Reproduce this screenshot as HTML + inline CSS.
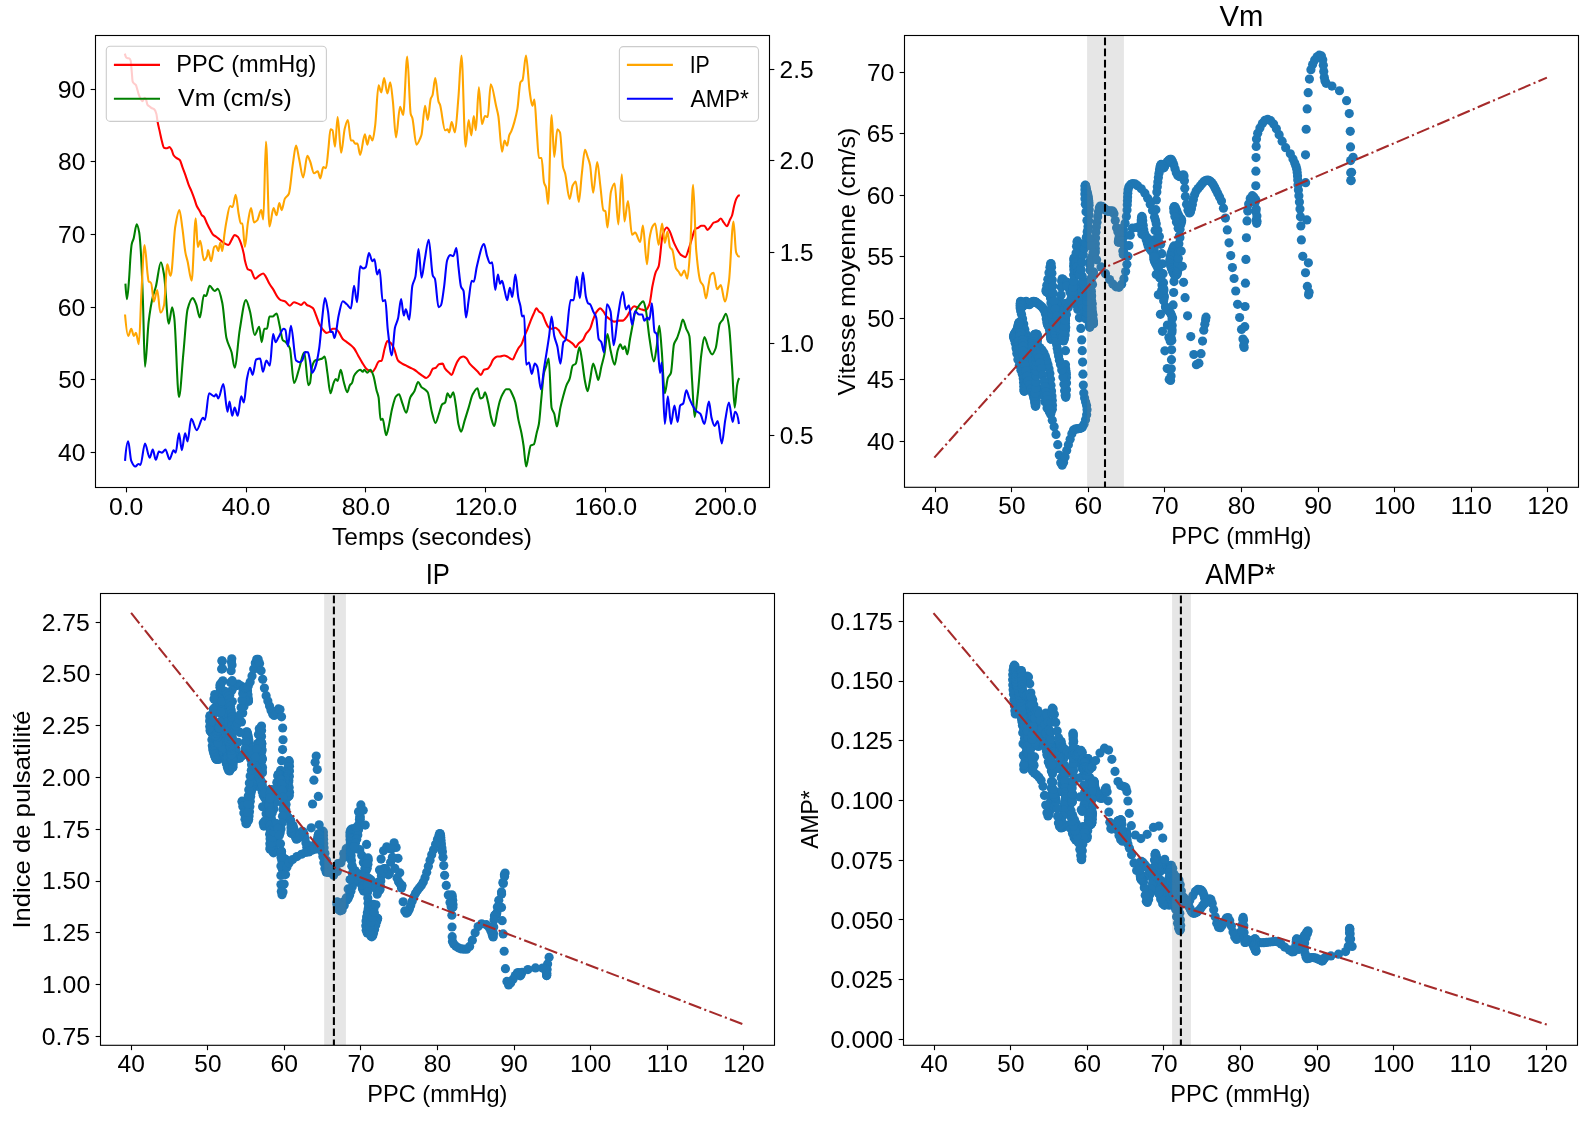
<!DOCTYPE html><html><head><meta charset="utf-8"><style>html,body{margin:0;padding:0;background:#fff}svg{display:block;will-change:transform}text{font-family:"Liberation Sans",sans-serif;fill:#000}</style></head><body>
<svg width="1592" height="1124" viewBox="0 0 1592 1124">
<rect width="1592" height="1124" fill="#fff"/>
<defs><clipPath id="c1"><rect x="95.5" y="35.5" width="674.0" height="452.0"/></clipPath></defs>
<g clip-path="url(#c1)" fill="none" stroke-width="2.08" stroke-linejoin="round" stroke-linecap="square">
<path stroke="#ff0000" d="M125.1,54.6C125.47,55.91 125.83,57.18 126.2,57.5C126.67,57.9 127.13,58.08 127.6,58.2C128.2,58.35 128.8,58.31 129.4,58.5C129.83,58.64 130.27,59.3 130.7,60.7C130.87,61.24 131.03,63.86 131.2,65.6C131.43,68.04 131.67,70.88 131.9,73.5C132.13,76.12 132.37,80.63 132.6,81.3C133.07,82.65 133.53,82.89 134,83.4C134.6,84.05 135.2,84.1 135.8,84.9C136.27,85.52 136.73,87.58 137.2,89.1C137.67,90.62 138.13,92.78 138.6,94.1C139.33,96.17 140.07,97.98 140.8,99.1C141.4,100.02 142,101.2 142.6,101.2C143.3,101.2 144,97.7 144.7,97.7C145.17,97.7 145.63,98.81 146.1,99.8C146.57,100.79 147.03,104.19 147.5,104.8C148.1,105.59 148.7,105.72 149.3,106.2C150.03,106.78 150.77,107.54 151.5,108C152.43,108.58 153.37,108.62 154.3,109.4C155,109.99 155.7,111.58 156.4,114C156.77,115.27 157.13,119.17 157.5,121.2C158.31,125.66 159.11,128.68 159.92,132.35C160.6,135.46 161.29,139.1 161.97,141.57C162.65,144.02 163.33,147.44 164.01,147.71C165.03,148.12 166.06,148.32 167.08,148.32C167.9,148.32 168.72,147.09 169.54,147.09C170.22,147.09 170.91,148.55 171.59,149.75C172.27,150.95 172.95,154.27 173.63,155.28C174.52,156.6 175.4,157.28 176.29,157.94C177.45,158.81 178.61,158.84 179.77,159.99C180.66,160.87 181.55,164.77 182.44,167.15C183.46,169.89 184.49,172.45 185.51,175.34C186.53,178.23 187.56,181.87 188.58,184.55C189.6,187.24 190.63,189.17 191.65,191.72C192.67,194.27 193.7,197.01 194.72,199.91C195.4,201.84 196.09,204.56 196.77,206.05C197.79,208.28 198.82,209.29 199.84,211.17C200.52,212.41 201.2,214.56 201.88,215.26C202.56,215.97 203.25,215.99 203.93,216.69C204.95,217.74 205.98,221.3 207,223.45C208.02,225.59 209.05,227.73 210.07,229.59C211.09,231.45 212.12,233.73 213.14,234.71C214.16,235.68 215.19,236.01 216.21,236.76C217.23,237.5 218.26,238.36 219.28,239.21C220.3,240.06 221.33,241.1 222.35,241.87C223.37,242.64 224.4,243.47 225.42,243.92C226.45,244.38 227.47,244.94 228.5,244.94C229.52,244.94 230.55,241.46 231.57,239.83C232.59,238.19 233.62,235.12 234.64,235.12C235.66,235.12 236.69,235.89 237.71,236.76C238.73,237.62 239.76,240.25 240.78,242.9C241.8,245.55 242.83,249.32 243.85,254.16C244.19,255.76 244.53,258.8 244.87,260.24C245.89,264.56 246.92,268.83 247.94,269.45C248.96,270.06 249.99,269.91 251.01,270.47C252.38,271.23 253.74,278.66 255.11,278.66C256.47,278.66 257.84,276.41 259.2,275.59C260.57,274.77 261.93,273.54 263.3,273.54C264.12,273.54 264.93,275.39 265.75,276.61C266.98,278.46 268.21,281.69 269.44,283.78C270.8,286.09 272.17,287.72 273.53,289.92C274.9,292.13 276.26,295.37 277.63,297.08C278.65,298.37 279.68,299.73 280.7,300.15C282.06,300.72 283.43,300.66 284.79,301.18C286.5,301.83 288.2,305.68 289.91,305.68C291.27,305.68 292.64,302.2 294,302.2C295.37,302.2 296.73,303.12 298.1,303.63C299.12,304.02 300.15,304.86 301.17,304.86C302.19,304.86 303.22,302.2 304.24,302.2C305.26,302.2 306.29,304.71 307.31,305.27C308.21,305.76 309.1,305.86 310,306.29C311.02,306.79 312.05,307.28 313.07,308.34C314.09,309.4 315.12,312.96 316.14,315.51C317.16,318.05 318.19,321.6 319.21,323.69C320.23,325.79 321.26,327.52 322.28,328.81C323.65,330.54 325.01,332.91 326.38,332.91C327.4,332.91 328.43,332.4 329.45,331.88C330.47,331.37 331.5,328.81 332.52,328.81C333.54,328.81 334.57,328.81 335.59,328.81C336.61,328.81 337.64,330.6 338.66,331.88C340.02,333.6 341.39,337.62 342.75,339.05C344.12,340.48 345.48,341.09 346.85,342.12C348.21,343.14 349.58,344.01 350.94,345.19C351.96,346.07 352.99,346.97 354.01,348.26C355.38,349.98 356.74,353.03 358.11,355.42C359.47,357.81 360.84,360.39 362.2,362.59C363.56,364.79 364.93,367.5 366.29,368.73C367.32,369.66 368.34,370.32 369.37,370.78C370.39,371.23 371.42,371.8 372.44,371.8C373.46,371.8 374.49,369.34 375.51,367.71C376.53,366.07 377.56,362.15 378.58,361.57C379.6,360.98 380.63,361.17 381.65,360.54C382.67,359.91 383.7,351.54 384.72,348.26C385.61,345.42 386.49,341.1 387.38,341.1C388.54,341.1 389.7,342.12 390.86,343.14C391.88,344.04 392.91,346.1 393.93,348.26C395.29,351.14 396.66,358.91 398.02,360.54C399.39,362.18 400.75,362.79 402.12,363.61C403.48,364.43 404.85,364.98 406.21,365.66C407.58,366.34 408.94,367.02 410.31,367.71C411.67,368.39 413.04,368.94 414.4,369.75C415.77,370.57 417.13,371.8 418.5,372.82C419.86,373.85 421.23,375.03 422.59,375.9C423.82,376.68 425.04,377.94 426.27,377.94C427.43,377.94 428.59,376.3 429.75,374.87C430.77,373.61 431.8,369.31 432.82,368.73C433.85,368.15 434.87,368.24 435.9,367.71C436.92,367.18 437.95,364.53 438.97,364.23C440.2,363.86 441.42,363.61 442.65,363.61C443.47,363.61 444.29,367.59 445.11,368.73C446.47,370.63 447.84,371.6 449.2,372.82C450.02,373.56 450.84,374.87 451.66,374.87C452.55,374.87 453.43,370.79 454.32,368.73C455.34,366.36 456.37,363.3 457.39,361.57C458.41,359.83 459.44,358.02 460.46,357.47C461.48,356.93 462.51,356.45 463.53,356.45C464.55,356.45 465.58,357.52 466.6,358.5C467.62,359.47 468.65,362.32 469.67,363.61C471.04,365.34 472.4,366.34 473.77,367.71C475.13,369.07 476.5,370.44 477.86,371.8C478.88,372.83 479.91,374.87 480.93,374.87C481.95,374.87 482.98,370.25 484,369.75C485.23,369.16 486.46,369.31 487.69,368.73C488.51,368.34 489.32,366.91 490.14,365.66C491.16,364.1 492.19,360.66 493.21,359.52C494.58,358 495.94,356.45 497.31,356.45C498.21,356.45 499.1,356.45 500,356.45C501.36,356.45 502.73,355.42 504.09,355.42C505.11,355.42 506.14,355.99 507.16,356.45C508.19,356.9 509.21,357.97 510.24,358.5C511.06,358.91 511.87,359.52 512.69,359.52C513.58,359.52 514.46,356.14 515.35,354.4C516.37,352.39 517.4,349.9 518.42,348.26C519.44,346.62 520.47,345.99 521.49,344.17C522.51,342.35 523.54,338.52 524.56,335.98C525.59,333.43 526.61,331.36 527.64,328.81C528.66,326.27 529.69,323.17 530.71,320.62C531.73,318.08 532.76,315.61 533.78,313.46C534.67,311.59 535.55,308.34 536.44,308.34C537.26,308.34 538.07,310.69 538.89,311.41C539.92,312.31 540.94,312.4 541.97,313.46C542.99,314.52 544.02,318.42 545.04,320.62C546.06,322.83 547.09,325.74 548.11,326.77C549.13,327.79 550.16,328.81 551.18,328.81C552.54,328.81 553.91,327.79 555.27,327.79C556.29,327.79 557.32,328.86 558.34,329.84C559.36,330.81 560.39,333.67 561.41,334.95C562.43,336.23 563.46,337.21 564.48,338.02C565.5,338.84 566.53,339.39 567.55,340.07C568.57,340.75 569.6,341.39 570.62,342.12C571.51,342.75 572.4,343.32 573.29,344.17C574.11,344.95 574.92,347.24 575.74,347.24C576.76,347.24 577.79,344.14 578.81,343.14C580.18,341.81 581.54,341.59 582.91,340.07C583.93,338.93 584.96,335.52 585.98,333.93C587.34,331.81 588.71,331.27 590.07,328.81C591.09,326.97 592.12,322.29 593.14,319.6C594.16,316.91 595.19,313.9 596.21,312.44C597.58,310.49 598.94,308.34 600.31,308.34C601.33,308.34 602.36,310.13 603.38,311.41C604.4,312.69 605.43,315.45 606.45,316.53C607.81,317.97 609.18,318.78 610.54,319.6C611.91,320.42 613.27,321.65 614.64,321.65C616,321.65 617.37,320.62 618.73,320.62C620.09,320.62 621.46,320.62 622.82,320.62C624.19,320.62 625.55,318.27 626.92,316.53C628.28,314.8 629.65,311.08 631.01,309.37C632.03,308.08 633.06,306.29 634.08,306.29C635.1,306.29 636.13,306.91 637.15,307.32C638.52,307.86 639.88,308.91 641.25,309.37C642.61,309.82 643.98,310.39 645.34,310.39C646.71,310.39 648.07,307.62 649.44,304.25C650.46,301.72 651.49,290.97 652.51,285.82C653.53,280.67 654.56,275.32 655.58,272.52C656.6,269.72 657.63,269.54 658.65,266.38C660.01,262.16 661.38,238.6 662.74,234.71C664.11,230.81 665.47,227.54 666.84,227.54C667.86,227.54 668.89,229.83 669.91,231.64C671.27,234.05 672.64,239.96 674,242.9C676.39,248.04 678.78,253.36 681.17,255.12C682.53,256.12 683.9,257.16 685.26,257.16C686.63,257.16 687.99,250.87 689.36,246.99C690.28,244.38 691.2,240.9 692.12,238.02C693.14,234.83 694.17,229.43 695.19,228.81C696.21,228.2 697.24,228.24 698.26,227.79C699.28,227.33 700.31,225.74 701.33,225.74C702.35,225.74 703.38,225.74 704.4,225.74C705.42,225.74 706.45,229.84 707.47,229.84C708.49,229.84 709.52,227.94 710.54,226.77C711.56,225.6 712.59,223.25 713.61,222.67C714.98,221.89 716.34,221.93 717.71,221.24C718.73,220.72 719.76,218.58 720.78,218.58C721.8,218.58 722.83,221.42 723.85,222.67C724.87,223.93 725.9,226.15 726.92,226.15C727.94,226.15 728.97,221.71 729.99,219.6C730.67,218.19 731.36,217.4 732.04,215.51C732.72,213.62 733.4,208.97 734.08,206.29C734.76,203.6 735.45,200.51 736.13,199.13C737.02,197.34 737.9,195.62 738.79,195.45"/>
<path stroke="#008000" d="M125.5,284.7C126,293.45 126.5,299.1 127,299.1C127.73,299.1 128.47,286.53 129.2,277.3C129.63,271.84 130.07,261.43 130.5,256.1C130.9,251.18 131.3,246.09 131.7,244.2C132.33,241.2 132.97,240.84 133.6,238.6C134.63,234.95 135.67,224.3 136.7,224.3C137.53,224.3 138.37,228 139.2,232.4C139.83,235.75 140.47,245.64 141.1,256.1C141.7,266.01 142.3,283.13 142.9,299.7C143.59,318.75 144.28,366.68 144.97,366.68C146.2,366.68 147.43,331.61 148.66,321.65C150.02,310.61 151.39,302.85 152.75,297.08C153.77,292.75 154.8,290.81 155.82,286.85C157.53,280.23 159.23,262.28 160.94,262.28C161.96,262.28 162.99,268.83 164.01,274.56C165.58,283.37 167.15,323.69 168.72,323.69C169.88,323.69 171.04,307.32 172.2,307.32C172.88,307.32 173.57,312.64 174.25,317.55C175.82,328.85 177.39,396.98 178.96,396.98C180.46,396.98 181.96,367.67 183.46,352.35C184.82,338.43 186.19,314.45 187.55,309.37C189.26,303 190.96,298.11 192.67,298.11C193.83,298.11 194.99,301.51 196.15,304.25C197.38,307.15 198.61,317.55 199.84,317.55C201.2,317.55 202.57,295.04 203.93,295.04C204.61,295.04 205.3,296.06 205.98,296.06C207.21,296.06 208.43,285.82 209.66,285.82C211.3,285.82 212.94,290.94 214.58,290.94C215.67,290.94 216.76,288.89 217.85,288.89C219.35,288.89 220.85,296.23 222.35,303.22C223.72,309.6 225.08,332.16 226.45,338.02C228.16,345.34 229.86,346.08 231.57,352.35C232.59,356.12 233.62,367.71 234.64,367.71C236.34,367.71 238.05,339.86 239.75,329.84C241.8,317.77 243.85,300.15 245.9,300.15C247.26,300.15 248.63,306.61 249.99,311.41C251.56,316.95 253.13,334.95 254.7,334.95C256.2,334.95 257.7,326.77 259.2,326.77C260.02,326.77 260.84,342.12 261.66,342.12C262.55,342.12 263.43,328.81 264.32,328.81C265.21,328.81 266.09,328.81 266.98,328.81C267.8,328.81 268.62,316.53 269.44,316.53C270.46,316.53 271.49,316.53 272.51,316.53C273.87,316.53 275.24,313.46 276.6,313.46C277.62,313.46 278.65,321.33 279.67,325.74C280.69,330.15 281.72,338.88 282.74,340.07C283.76,341.27 284.79,341.19 285.81,342.12C287.18,343.36 288.54,344.78 289.91,348.26C291.27,351.73 292.64,383.06 294,383.06C295.71,383.06 297.41,373.83 299.12,368.73C300.83,363.64 302.53,352.35 304.24,352.35C305.6,352.35 306.97,385.11 308.33,385.11C308.89,385.11 309.44,384.21 310,383.06C310.68,381.64 311.37,368.96 312.05,366.68C313.07,363.27 314.1,361.02 315.12,360.54C316.48,359.91 317.85,359.91 319.21,359.52C320.23,359.22 321.26,358.99 322.28,358.5C323.1,358.1 323.92,356.45 324.74,356.45C325.63,356.45 326.51,367.15 327.4,372.82C328.42,379.37 329.45,393.3 330.47,393.3C331.49,393.3 332.52,385.57 333.54,383.06C334.22,381.38 334.91,378.97 335.59,378.97C336.27,378.97 336.96,381.01 337.64,381.01C338.66,381.01 339.69,369.75 340.71,369.75C341.73,369.75 342.76,378.56 343.78,382.04C344.94,385.98 346.1,392.27 347.26,392.27C348.15,392.27 349.03,386.37 349.92,385.11C350.6,384.13 351.29,384.12 351.97,383.06C352.65,382 353.33,377.25 354.01,375.9C355.03,373.86 356.06,372.71 357.08,371.8C358.1,370.89 359.13,369.75 360.15,369.75C361.04,369.75 361.92,371.8 362.81,371.8C363.29,371.8 363.77,369.75 364.25,369.75C365.27,369.75 366.3,372.82 367.32,372.82C368.34,372.82 369.37,369.75 370.39,369.75C371.41,369.75 372.44,373.03 373.46,375.9C374.48,378.76 375.51,386.17 376.53,390.23C377.21,392.93 377.9,393.76 378.58,397.39C379.26,401 379.94,419.91 380.62,419.91C381.3,419.91 381.99,418.88 382.67,418.88C383.83,418.88 384.99,435.26 386.15,435.26C387.04,435.26 387.92,429.75 388.81,426.05C389.83,421.77 390.86,413.85 391.88,409.67C393.25,404.09 394.61,397.83 395.98,396.37C397,395.27 398.03,394.32 399.05,394.32C400.07,394.32 401.1,399.86 402.12,402.51C403.48,406.03 404.85,412.74 406.21,412.74C407.58,412.74 408.94,400.32 410.31,397.39C411.67,394.47 413.04,393.82 414.4,391.25C415.63,388.93 416.86,382.04 418.09,382.04C419.25,382.04 420.41,386.1 421.57,387.15C422.59,388.09 423.62,388.38 424.64,389.2C425.66,390.02 426.69,390.63 427.71,392.27C429.07,394.46 430.44,406.67 431.8,411.72C433.03,416.27 434.26,422.98 435.49,422.98C436.65,422.98 437.81,417.03 438.97,413.77C439.99,410.88 441.02,405.67 442.04,404.55C443.06,403.44 444.09,403.7 445.11,402.51C445.93,401.56 446.74,393.3 447.56,393.3C448.45,393.3 449.34,397.39 450.23,397.39C451.25,397.39 452.28,392.27 453.3,392.27C454.12,392.27 454.93,399.71 455.75,404.55C456.64,409.82 457.52,420.3 458.41,424C459.3,427.71 460.18,431.78 461.07,431.78C462.23,431.78 463.39,424.62 464.55,420.93C465.92,416.59 467.28,412.07 468.65,407.63C470.01,403.2 471.38,396.88 472.74,394.32C474.31,391.37 475.88,388.18 477.45,388.18C478.41,388.18 479.36,398.41 480.32,398.41C481.21,398.41 482.09,398 482.98,397.39C483.66,396.92 484.35,392.27 485.03,392.27C486.05,392.27 487.08,398.41 488.1,402.51C489.12,406.6 490.15,414.3 491.17,417.86C492.19,421.42 493.22,426.05 494.24,426.05C495.26,426.05 496.29,416.23 497.31,411.72C498.21,407.77 499.1,403.16 500,400.46C501.02,397.37 502.05,395.03 503.07,393.3C504.09,391.56 505.12,389.2 506.14,389.2C507.16,389.2 508.19,389.2 509.21,389.2C510.23,389.2 511.26,392.22 512.28,394.32C513.3,396.42 514.33,398.8 515.35,402.51C516.37,406.22 517.4,414.88 518.42,419.91C519.44,424.93 520.47,428.01 521.49,433.21C522.17,436.69 522.86,440.86 523.54,445.5C524.43,451.51 525.31,466.58 526.2,466.58C527.02,466.58 527.84,458.52 528.66,454.71C529.34,451.53 530.03,445.95 530.71,445.5C531.73,444.82 532.76,445.1 533.78,444.47C534.8,443.84 535.83,436.29 536.85,432.19C537.53,429.47 538.21,427.89 538.89,424C539.71,419.32 540.53,406.61 541.35,398.41C542.24,389.55 543.12,376.79 544.01,372.82C544.69,369.77 545.38,368.76 546.06,366.68C546.95,363.99 547.83,358.5 548.72,358.5C549.68,358.5 550.63,403.77 551.59,407.63C552.48,411.2 553.36,411.01 554.25,413.77C555.14,416.53 556.02,426.46 556.91,426.46C558.07,426.46 559.23,412.95 560.39,407.63C561.41,402.93 562.44,399.06 563.46,395.34C564.48,391.62 565.51,387.67 566.53,385.11C567.55,382.55 568.58,381.77 569.6,378.97C570.62,376.16 571.65,366.84 572.67,365.66C573.69,364.48 574.72,364.77 575.74,363.61C576.97,362.22 578.2,347.24 579.43,347.24C580.25,347.24 581.06,354.78 581.88,359.52C582.9,365.46 583.93,375.98 584.95,381.01C585.84,385.39 586.73,391.25 587.62,391.25C588.44,391.25 589.25,384.01 590.07,379.99C591.09,374.95 592.12,363.61 593.14,363.61C594.16,363.61 595.19,369.5 596.21,372.82C596.89,375.04 597.58,379.99 598.26,379.99C599.28,379.99 600.31,370.94 601.33,366.68C602.35,362.43 603.38,359.52 604.4,354.4C605.42,349.28 606.45,333.93 607.47,333.93C608.49,333.93 609.52,345.94 610.54,350.31C611.91,356.14 613.27,364.64 614.64,364.64C615.66,364.64 616.69,353.44 617.71,350.31C618.6,347.59 619.48,344.17 620.37,344.17C621.19,344.17 622,349.28 622.82,349.28C623.5,349.28 624.19,346.21 624.87,346.21C625.69,346.21 626.51,354.4 627.33,354.4C628.22,354.4 629.1,343.99 629.99,339.05C630.88,334.11 631.76,329.31 632.65,324.72C633.47,320.47 634.29,314.65 635.11,312.44C636.47,308.75 637.84,307.01 639.2,305.27C640.57,303.53 641.93,301.18 643.3,301.18C644.12,301.18 644.93,305.65 645.75,309.37C646.98,314.96 648.21,330.29 649.44,338.02C650.94,347.46 652.44,361.57 653.94,361.57C654.83,361.57 655.71,352.97 656.6,347.24C657.49,341.5 658.37,325.74 659.26,325.74C660.08,325.74 660.9,340.81 661.72,350.31C662.74,362.16 663.77,393.3 664.79,393.3C665.81,393.3 666.84,380.5 667.86,377.94C668.88,375.38 669.91,375.72 670.93,372.82C671.95,369.93 672.98,347.54 674,344.17C675.02,340.79 676.05,340.48 677.07,338.02C678.09,335.57 679.12,332.11 680.14,328.81C681.03,325.96 681.91,319.6 682.8,319.6C683.96,319.6 685.12,325.94 686.28,328.81C687.31,331.35 688.33,331.74 689.36,335.98C690.28,339.78 691.2,366.87 692.12,381.01C692.94,393.62 693.76,416.84 694.58,416.84C695.67,416.84 696.76,402.82 697.85,393.3C699.01,383.16 700.17,363.07 701.33,354.4C702.35,346.76 703.38,337 704.4,337C705.77,337 707.13,345.44 708.5,348.26C709.73,350.8 710.95,354.4 712.18,354.4C713.34,354.4 714.5,351.38 715.66,348.26C717.02,344.59 718.39,326.58 719.75,323.69C720.77,321.53 721.8,321.2 722.82,319.6C723.85,317.99 724.87,313.77 725.9,313.77C726.92,313.77 727.95,319.57 728.97,325.74C729.99,331.92 731.02,352.04 732.04,366.68C732.93,379.38 733.81,407.63 734.7,407.63C735.52,407.63 736.33,389.34 737.15,385.11C737.7,382.28 738.24,379.82 738.79,378.97"/>
</g>
<rect x="106.3" y="46.3" width="220.1" height="75.1" rx="4" ry="4" fill="#fff" fill-opacity="0.8" stroke="#cccccc" stroke-opacity="1" stroke-width="1.11"/>
<line x1="113.9" y1="64.9" x2="160" y2="64.9" stroke="#ff0000" stroke-width="2.08"/>
<line x1="113.9" y1="98.8" x2="160" y2="98.8" stroke="#008000" stroke-width="2.08"/>
<g clip-path="url(#c1)" fill="none" stroke-width="2.08" stroke-linejoin="round" stroke-linecap="square">
<path stroke="#ffa500" d="M125.12,315.51C126.14,326.94 127.17,335.98 128.19,335.98C129.21,335.98 130.24,328.81 131.26,328.81C132.15,328.81 133.03,335.98 133.92,335.98C134.6,335.98 135.29,332.91 135.97,332.91C136.92,332.91 137.88,344.17 138.83,344.17C139.72,344.17 140.6,306.19 141.49,290.94C142.51,273.35 143.54,244.94 144.56,244.94C145.59,244.94 146.61,266.44 147.64,274.56C147.98,277.26 148.32,281.73 148.66,281.73C149,281.73 149.34,281.73 149.68,281.73C150.02,281.73 150.37,282.75 150.71,282.75C150.85,282.75 150.98,282.75 151.12,282.75C152.01,282.75 152.89,301.69 153.78,301.69C154.94,301.69 156.1,289.92 157.26,289.92C158.28,289.92 159.31,312.44 160.33,312.44C160.53,312.44 160.74,312.44 160.94,312.44C161.96,312.44 162.99,309.32 164.01,305.27C165.03,301.22 166.06,269.01 167.08,265.35C167.22,264.86 167.35,264.33 167.49,264.33C168.38,264.33 169.26,275.59 170.15,275.59C170.36,275.59 170.56,275.59 170.77,275.59C172.27,275.59 173.77,235.23 175.27,226.52C176.64,218.59 178,210.14 179.37,210.14C180.39,210.14 181.42,221.55 182.44,228.57C183.46,235.59 184.49,247.81 185.51,253.13C186.19,256.67 186.87,258.34 187.55,261.26C188.92,267.12 190.28,280.71 191.65,280.71C193.01,280.71 194.38,218.33 195.74,218.33C196.42,218.33 197.11,246.99 197.79,246.99C198.61,246.99 199.43,240.85 200.25,240.85C201.48,240.85 202.7,260.24 203.93,260.24C204.95,260.24 205.98,258.64 207,256.14C207.34,255.31 207.68,250.06 208.02,250.06C209.05,250.06 210.07,261.26 211.1,261.26C212.12,261.26 213.15,247.87 214.17,246.99C214.85,246.41 215.53,245.97 216.21,245.97C216.89,245.97 217.58,251.08 218.26,251.08C218.94,251.08 219.63,242.9 220.31,242.9C220.99,242.9 221.67,251.08 222.35,251.08C223.03,251.08 223.72,239.6 224.4,234.71C225.08,229.81 225.77,224.95 226.45,221.4C227.68,215.04 228.9,206.05 230.13,206.05C230.95,206.05 231.77,207.07 232.59,207.07C233.61,207.07 234.64,194.79 235.66,194.79C236.68,194.79 237.71,208.92 238.73,214.24C239.41,217.79 240.1,223.45 240.78,223.45C241.33,223.45 241.87,223.45 242.42,223.45C243.24,223.45 244.05,246.99 244.87,246.99C245.89,246.99 246.92,228.46 247.94,222.43C248.96,216.39 249.99,208.1 251.01,208.1C252.03,208.1 253.06,222.43 254.08,222.43C255.1,222.43 256.13,221.43 257.15,220.38C258.52,218.98 259.88,210.14 261.25,210.14C261.93,210.14 262.62,219.36 263.3,219.36C264.19,219.36 265.07,141.57 265.96,141.57C267.12,141.57 268.28,226.52 269.44,226.52C270.8,226.52 272.17,208.1 273.53,208.1C274.55,208.1 275.58,215.26 276.6,215.26C277.49,215.26 278.37,202.98 279.26,202.98C280.08,202.98 280.9,210.14 281.72,210.14C282.74,210.14 283.77,200.84 284.79,198.88C286.15,196.28 287.52,196.69 288.88,193.77C290.25,190.84 291.61,171.82 292.98,163.06C294,156.5 295.03,145.66 296.05,145.66C297.07,145.66 298.1,154.45 299.12,158.97C300.48,164.98 301.85,177.39 303.21,177.39C304.58,177.39 305.94,155.9 307.31,155.9C308.21,155.9 309.1,158.96 310,161.01C311.36,164.14 312.73,173.3 314.09,173.3C315.32,173.3 316.55,171.25 317.78,171.25C318.6,171.25 319.42,178.41 320.24,178.41C321.26,178.41 322.29,167.15 323.31,167.15C324.2,167.15 325.08,168.18 325.97,168.18C326.79,168.18 327.6,155.81 328.42,148.73C329.1,142.81 329.79,129.28 330.47,129.28C331.15,129.28 331.84,129.69 332.52,130.31C333.34,131.05 334.15,146.68 334.97,146.68C335.86,146.68 336.75,117 337.64,117C338.8,117 339.96,152.82 341.12,152.82C342.35,152.82 343.57,132.88 344.8,128.26C345.82,124.41 346.85,120.07 347.87,120.07C348.89,120.07 349.92,140.54 350.94,140.54C351.62,140.54 352.31,140.54 352.99,140.54C353.67,140.54 354.36,143.61 355.04,143.61C355.86,143.61 356.67,143.61 357.49,143.61C358.38,143.61 359.26,154.87 360.15,154.87C361.72,154.87 363.29,134.4 364.86,134.4C365.68,134.4 366.5,144.64 367.32,144.64C368.14,144.64 368.95,135.42 369.77,135.42C370.66,135.42 371.55,140.54 372.44,140.54C373.33,140.54 374.21,132.66 375.1,126.21C376.26,117.78 377.42,85.27 378.58,85.27C379.47,85.27 380.35,92.44 381.24,92.44C382.19,92.44 383.15,78.11 384.1,78.11C385.19,78.11 386.29,93.46 387.38,93.46C388.34,93.46 389.29,82.2 390.25,82.2C391.14,82.2 392.02,93.72 392.91,101.65C393.93,110.8 394.96,137.47 395.98,137.47C397.34,137.47 398.71,106.77 400.07,106.77C401.09,106.77 402.12,114.95 403.14,114.95C404.51,114.95 405.87,56.61 407.24,56.61C408.4,56.61 409.56,109.29 410.72,113.93C411.26,116.11 411.81,116.17 412.35,118.02C413.72,122.68 415.08,144.64 416.45,144.64C417.81,144.64 419.18,140.64 420.54,137.47C420.88,136.67 421.23,135.79 421.57,134.4C422.73,129.72 423.89,105.74 425.05,105.74C425.94,105.74 426.82,120.07 427.71,120.07C428.73,120.07 429.76,101.43 430.78,98.58C431.33,97.05 431.87,97 432.42,95.51C433.37,92.9 434.33,78.11 435.28,78.11C436.37,78.11 437.47,98.27 438.56,101.65C439.04,103.12 439.51,103.39 439.99,104.72C441.7,109.49 443.4,130.31 445.11,130.31C445.93,130.31 446.74,129.28 447.56,129.28C448.11,129.28 448.65,132.35 449.2,132.35C450.02,132.35 450.84,122.12 451.66,122.12C452.75,122.12 453.84,132.35 454.93,132.35C456.09,132.35 457.25,111 458.41,97.55C459.43,85.7 460.46,55.59 461.48,55.59C462.85,55.59 464.21,146.68 465.58,146.68C466.6,146.68 467.63,120.07 468.65,120.07C469.54,120.07 470.42,135.42 471.31,135.42C472.13,135.42 472.95,115.98 473.77,115.98C474.45,115.98 475.13,130.31 475.81,130.31C476.83,130.31 477.86,87.32 478.88,87.32C479.9,87.32 480.93,124.17 481.95,124.17C482.98,124.17 484,115.98 485.03,115.98C485.92,115.98 486.8,117 487.69,117C488.71,117 489.74,84.25 490.76,84.25C492.6,84.25 494.44,98.84 496.28,106.77C496.96,109.71 497.65,111.93 498.33,115.98C499.57,123.32 500.81,151.8 502.05,151.8C502.87,151.8 503.68,140.54 504.5,140.54C505.39,140.54 506.27,145.66 507.16,145.66C507.84,145.66 508.53,137.37 509.21,135.42C509.89,133.48 510.58,132.95 511.26,131.33C512.28,128.91 513.31,125.75 514.33,122.12C515.35,118.49 516.38,114.73 517.4,108.81C518.42,102.9 519.45,83.94 520.47,82.2C521.15,81.04 521.84,81.28 522.52,80.15C523.68,78.25 524.84,55.59 526,55.59C527.23,55.59 528.45,83.03 529.68,91.41C530.57,97.47 531.45,105.74 532.34,105.74C533.02,105.74 533.71,99.6 534.39,99.6C535.21,99.6 536.03,121.77 536.85,132.35C537.53,141.13 538.21,157.94 538.89,157.94C539.78,157.94 540.67,157.94 541.56,157.94C542.38,157.94 543.19,179.3 544.01,182.51C544.69,185.19 545.38,185.03 546.06,187.63C546.74,190.22 547.43,204 548.11,204C549.27,204 550.43,114.95 551.59,114.95C552.48,114.95 553.36,156.92 554.25,156.92C555.27,156.92 556.3,129.28 557.32,129.28C558.21,129.28 559.09,130.53 559.98,132.35C561,134.46 562.03,162.49 563.05,167.15C563.73,170.27 564.42,170.71 565.1,173.3C566.6,178.96 568.1,198.88 569.6,198.88C570.62,198.88 571.65,187.67 572.67,185.58C573.69,183.49 574.72,181.48 575.74,181.48C576.76,181.48 577.79,201.95 578.81,201.95C579.83,201.95 580.86,181.91 581.88,173.3C582.9,164.68 583.93,149.75 584.95,149.75C585.84,149.75 586.73,154.27 587.62,156.92C588.44,159.35 589.25,161.19 590.07,165.11C591.09,170.01 592.12,192.74 593.14,192.74C594.51,192.74 595.87,162.04 597.24,162.04C598.26,162.04 599.29,177.56 600.31,185.58C601.33,193.59 602.36,209.23 603.38,210.14C604.06,210.75 604.74,210.53 605.42,211.17C606.1,211.81 606.79,227.54 607.47,227.54C608.63,227.54 609.79,195.98 610.95,191.72C612.18,187.2 613.41,183.53 614.64,183.53C615.87,183.53 617.09,224.47 618.32,224.47C619.48,224.47 620.64,174.32 621.8,174.32C622.69,174.32 623.57,221.4 624.46,221.4C625.62,221.4 626.78,200.93 627.94,200.93C629.31,200.93 630.67,234.71 632.04,234.71C633.06,234.71 634.09,232.66 635.11,232.66C636.82,232.66 638.52,241.87 640.23,241.87C641.12,241.87 642,225.5 642.89,225.5C644.25,225.5 645.62,264.33 646.98,264.33C647.8,264.33 648.62,243.62 649.44,238.8C650.46,232.79 651.49,228.33 652.51,226.52C653.4,224.95 654.28,223.45 655.17,223.45C656.33,223.45 657.49,244.94 658.65,244.94C659.81,244.94 660.97,223.45 662.13,223.45C663.02,223.45 663.9,242.9 664.79,242.9C665.68,242.9 666.56,231.64 667.45,231.64C668.27,231.64 669.09,245.28 669.91,246.99C670.73,248.69 671.54,248.49 672.36,250.06C673.59,252.43 674.82,266.06 676.05,268.42C676.87,270 677.69,270.37 678.51,271.49C679.4,272.71 680.28,275.59 681.17,275.59C682.19,275.59 683.22,270.47 684.24,270.47C685.26,270.47 686.29,278.66 687.31,278.66C688.23,278.66 689.15,263.75 690.07,251.33C691.09,237.51 692.12,184.8 693.14,184.8C694.16,184.8 695.19,238.69 696.21,250.31C697.58,265.82 698.94,277.4 700.31,281.01C701.33,283.72 702.36,283.6 703.38,286.13C704.27,288.33 705.15,298.41 706.04,298.41C706.86,298.41 707.68,289.37 708.5,285.11C709.18,281.57 709.86,275.72 710.54,274.87C711.56,273.6 712.59,272.82 713.61,272.82C714.77,272.82 715.93,289.2 717.09,289.2C718.32,289.2 719.55,285.11 720.78,285.11C722.14,285.11 723.51,301.48 724.87,301.48C726.24,301.48 727.6,290.84 728.97,281.01C730.47,270.22 731.97,221.65 733.47,221.65C734.36,221.65 735.24,249.95 736.13,252.35C737.02,254.76 737.9,256.45 738.79,256.45"/>
<path stroke="#0000ff" d="M125.12,459.83C126.14,447.37 127.17,441.4 128.19,441.4C129.21,441.4 130.24,458.43 131.26,460.85C132.62,464.08 133.99,466.58 135.35,466.58C136.37,466.58 137.4,463.92 138.42,463.92C139.1,463.92 139.79,464.94 140.47,464.94C141.97,464.94 143.47,443.45 144.97,443.45C146.54,443.45 148.11,457.78 149.68,457.78C150.7,457.78 151.73,449.59 152.75,449.59C153.77,449.59 154.8,459.83 155.82,459.83C156.84,459.83 157.87,451.64 158.89,451.64C159.92,451.64 160.94,452.66 161.97,452.66C163.13,452.66 164.29,449.59 165.45,449.59C166.81,449.59 168.18,459.21 169.54,459.21C170.9,459.21 172.27,450.2 173.63,450.2C174.31,450.2 175,452.66 175.68,452.66C176.77,452.66 177.87,433.21 178.96,433.21C179.91,433.21 180.87,450.2 181.82,450.2C182.91,450.2 184.01,433.21 185.1,433.21C185.92,433.21 186.73,441.4 187.55,441.4C188.78,441.4 190.01,418.88 191.24,418.88C193.08,418.88 194.93,430.14 196.77,430.14C198.82,430.14 200.86,417.86 202.91,417.86C203.59,417.86 204.27,419.91 204.95,419.91C206.32,419.91 207.68,393.3 209.05,393.3C210.76,393.3 212.46,396.37 214.17,396.37C214.85,396.37 215.53,394.32 216.21,394.32C216.89,394.32 217.58,398.41 218.26,398.41C219.97,398.41 221.67,384.08 223.38,384.08C224.74,384.08 226.11,411.72 227.47,411.72C228.15,411.72 228.84,401.48 229.52,401.48C230.41,401.48 231.29,415.81 232.18,415.81C233,415.81 233.82,407.63 234.64,407.63C235.66,407.63 236.69,415.81 237.71,415.81C238.87,415.81 240.03,396.37 241.19,396.37C242.08,396.37 242.96,402.51 243.85,402.51C244.87,402.51 245.9,384.04 246.92,378.97C247.94,373.89 248.97,367.71 249.99,367.71C250.88,367.71 251.76,374.87 252.65,374.87C253.81,374.87 254.97,360.08 256.13,359.52C257.5,358.86 258.86,358.5 260.23,358.5C261.12,358.5 262,371.8 262.89,371.8C264.05,371.8 265.21,360.54 266.37,360.54C267.53,360.54 268.69,365.66 269.85,365.66C270.94,365.66 272.03,333.93 273.12,333.93C273.94,333.93 274.76,342.12 275.58,342.12C276.6,342.12 277.63,338.67 278.65,337C280.36,334.21 282.06,328.81 283.77,328.81C284.31,328.81 284.86,329.25 285.4,329.84C286.22,330.73 287.04,346.21 287.86,346.21C288.88,346.21 289.91,325.74 290.93,325.74C292.64,325.74 294.34,359.18 296.05,360.54C297.28,361.52 298.5,362.18 299.73,362.18C300.55,362.18 301.37,361.41 302.19,360.54C303.21,359.47 304.24,351.94 305.26,351.94C306.15,351.94 307.03,352.08 307.92,352.35C308.61,352.57 309.31,357.25 310,360.54C310.68,363.79 311.37,372.82 312.05,372.82C313.07,372.82 314.1,370.18 315.12,367.71C316.48,364.42 317.85,357.2 319.21,348.26C320.23,341.55 321.26,326.17 322.28,317.55C323.17,310.09 324.05,298.11 324.94,298.11C325.96,298.11 326.99,305.51 328.01,311.41C328.83,316.14 329.65,331.88 330.47,331.88C331.15,331.88 331.84,331.88 332.52,331.88C333.2,331.88 333.88,338.02 334.56,338.02C335.93,338.02 337.29,321.35 338.66,315.51C340.02,309.67 341.39,301.18 342.75,301.18C344.12,301.18 345.48,303.08 346.85,304.25C348.21,305.42 349.58,308.34 350.94,308.34C351.96,308.34 352.99,285.82 354.01,285.82C355.03,285.82 356.06,302.2 357.08,302.2C358.1,302.2 359.13,266.38 360.15,266.38C361.17,266.38 362.2,268.42 363.22,268.42C364.04,268.42 364.86,268 365.68,267.4C366.77,266.6 367.87,253.13 368.96,253.13C370.12,253.13 371.28,261.26 372.44,261.26C373.12,261.26 373.8,259.21 374.48,259.21C375.37,259.21 376.25,274.56 377.14,274.56C377.96,274.56 378.78,269.45 379.6,269.45C380.62,269.45 381.65,301.18 382.67,301.18C383.56,301.18 384.44,300.15 385.33,300.15C386.15,300.15 386.97,322.9 387.79,329.84C389.15,341.37 390.52,355.42 391.88,355.42C392.9,355.42 393.93,332.4 394.95,327.79C395.97,323.18 397,322.74 398.02,318.58C399.05,314.4 400.07,299.13 401.1,299.13C401.99,299.13 402.87,315.51 403.76,315.51C404.44,315.51 405.12,309.37 405.8,309.37C406.96,309.37 408.12,319.6 409.28,319.6C410.3,319.6 411.33,290.65 412.35,285.82C413.37,281 414.4,281.21 415.42,276.61C416.45,272 417.47,249.04 418.5,249.04C419.52,249.04 420.55,277.64 421.57,277.64C422.59,277.64 423.62,265.68 424.64,260.24C426,252.98 427.37,239.83 428.73,239.83C430.09,239.83 431.46,272.36 432.82,275.59C433.5,277.21 434.19,277.05 434.87,278.66C436.1,281.56 437.33,307.32 438.56,307.32C439.38,307.32 440.19,306.44 441.01,305.27C442.03,303.81 443.06,294.11 444.08,286.85C445.1,279.59 446.13,263.09 447.15,260.24C448.18,257.37 449.2,255.12 450.23,255.12C451.25,255.12 452.28,256.14 453.3,256.14C454.32,256.14 455.35,248.01 456.37,248.01C457.05,248.01 457.73,260.71 458.41,266.38C459.3,273.76 460.18,284.44 461.07,286.85C461.89,289.07 462.71,288.58 463.53,290.94C464.35,293.31 465.17,317.55 465.99,317.55C466.88,317.55 467.76,305.86 468.65,300.15C469.67,293.56 470.7,280.71 471.72,280.71C472.4,280.71 473.09,281.73 473.77,281.73C474.79,281.73 475.82,270.45 476.84,266.38C479.23,256.89 481.61,243.92 484,243.92C485.02,243.92 486.05,253.13 487.07,256.14C488.09,259.15 489.12,263.31 490.14,263.31C490.82,263.31 491.51,262.28 492.19,262.28C493.21,262.28 494.24,289.92 495.26,289.92C496.15,289.92 497.03,274.56 497.92,274.56C498.61,274.56 499.31,283.78 500,283.78C500.68,283.78 501.37,280.71 502.05,280.71C502.87,280.71 503.68,286.81 504.5,289.92C505.39,293.29 506.27,300.15 507.16,300.15C508.05,300.15 508.94,287.87 509.83,287.87C510.65,287.87 511.46,297.08 512.28,297.08C513.3,297.08 514.33,274.56 515.35,274.56C516.37,274.56 517.4,292.84 518.42,298.11C519.1,301.62 519.79,302.94 520.47,306.29C521.02,308.98 521.56,316.53 522.11,316.53C522.79,316.53 523.48,315.51 524.16,315.51C524.84,315.51 525.52,364.64 526.2,364.64C527.16,364.64 528.11,362.59 529.07,362.59C529.96,362.59 530.84,373.85 531.73,373.85C532.75,373.85 533.78,363.61 534.8,363.61C535.62,363.61 536.44,365.05 537.26,366.68C538.49,369.12 539.71,389.2 540.94,389.2C541.96,389.2 542.99,375.42 544.01,368.73C545.72,357.57 547.42,348.2 549.13,335.98C549.95,330.11 550.77,316.53 551.59,316.53C552.48,316.53 553.36,331.88 554.25,335.98C555.27,340.71 556.3,341.92 557.32,346.21C558.34,350.51 559.37,363.61 560.39,363.61C561.41,363.61 562.44,343.82 563.46,342.12C564.14,340.98 564.83,341.16 565.51,340.07C567.21,337.35 568.92,300.15 570.62,300.15C571.64,300.15 572.67,300.15 573.69,300.15C574.72,300.15 575.74,276.61 576.77,276.61C577.79,276.61 578.82,298.11 579.84,298.11C580.86,298.11 581.89,272.52 582.91,272.52C583.93,272.52 584.96,292.74 585.98,297.08C586.66,299.97 587.34,302.64 588.02,303.22C588.7,303.81 589.39,303.71 590.07,304.25C591.09,305.05 592.12,309.21 593.14,311.41C594.16,313.62 595.19,314.14 596.21,317.55C597.03,320.29 597.85,337.36 598.67,339.05C599.56,340.87 600.44,340.54 601.33,342.12C602.22,343.69 603.1,352.35 603.99,352.35C604.95,352.35 605.9,304.25 606.86,304.25C608.09,304.25 609.31,307.27 610.54,311.41C611.56,314.87 612.59,345.19 613.61,345.19C614.98,345.19 616.34,325.45 617.71,317.55C619.41,307.71 621.12,291.97 622.82,291.97C623.85,291.97 624.87,309.37 625.9,309.37C626.92,309.37 627.95,305.27 628.97,305.27C629.99,305.27 631.02,324.72 632.04,324.72C633.06,324.72 634.09,311.41 635.11,311.41C636.47,311.41 637.84,314.48 639.2,314.48C640.22,314.48 641.25,314.48 642.27,314.48C642.95,314.48 643.64,320.62 644.32,320.62C645.34,320.62 646.37,317.55 647.39,317.55C648.07,317.55 648.76,319.6 649.44,319.6C650.26,319.6 651.07,303.22 651.89,303.22C652.78,303.22 653.66,330.32 654.55,331.88C655.23,333.09 655.92,332.76 656.6,333.93C657.76,335.91 658.92,372.82 660.08,372.82C660.63,372.82 661.17,362.59 661.72,362.59C662.74,362.59 663.77,424 664.79,424C665.81,424 666.84,396.37 667.86,396.37C668.88,396.37 669.91,424 670.93,424C672.09,424 673.25,405.58 674.41,405.58C675.5,405.58 676.6,421.95 677.69,421.95C678.51,421.95 679.32,406.6 680.14,405.58C681.16,404.3 682.19,404.71 683.21,403.53C684.23,402.35 685.26,390.23 686.28,390.23C687.31,390.23 688.33,395.93 689.36,398.41C690.28,400.64 691.2,402.79 692.12,404.55C693.35,406.91 694.57,409.49 695.8,410.7C697.3,412.17 698.81,412.14 700.31,413.77C701.67,415.24 703.04,424 704.4,424C705.9,424 707.4,401.48 708.9,401.48C709.79,401.48 710.68,414.52 711.57,417.86C712.59,421.7 713.62,426.05 714.64,426.05C715.66,426.05 716.69,420.93 717.71,420.93C719.07,420.93 720.44,443.45 721.8,443.45C722.96,443.45 724.12,426.37 725.28,419.91C726.51,413.06 727.74,402.51 728.97,402.51C730.2,402.51 731.42,421.95 732.65,421.95C733.47,421.95 734.29,411.72 735.11,411.72C736.34,411.72 737.56,413.92 738.79,422.98"/>
</g>
<rect x="619.4" y="46.6" width="139.1" height="74.6" rx="4" ry="4" fill="#fff" fill-opacity="0.8" stroke="#cccccc" stroke-width="1.11"/>
<line x1="626.9" y1="64.9" x2="672.9" y2="64.9" stroke="#ffa500" stroke-width="2.08"/>
<line x1="626.9" y1="98.8" x2="672.9" y2="98.8" stroke="#0000ff" stroke-width="2.08"/>
<defs><clipPath id="ca2"><rect x="904.5" y="35.5" width="674.0" height="451.8"/></clipPath></defs>
<g clip-path="url(#ca2)">
<g fill="#1f77b4">
<circle cx="1353.11" cy="157.32" r="4.6"/><circle cx="1351.61" cy="172.31" r="4.6"/><circle cx="1351.12" cy="180.59" r="4.6"/><circle cx="1350.85" cy="180.58" r="4.6"/><circle cx="1350.69" cy="172.86" r="4.6"/><circle cx="1350.62" cy="160.56" r="4.6"/><circle cx="1350.52" cy="146.95" r="4.6"/><circle cx="1350.25" cy="131.37" r="4.6"/><circle cx="1349.27" cy="113.61" r="4.6"/><circle cx="1346.59" cy="100.68" r="4.6"/><circle cx="1339.47" cy="90.77" r="4.6"/><circle cx="1331.92" cy="86.06" r="4.6"/><circle cx="1326.12" cy="83.32" r="4.6"/><circle cx="1324.96" cy="80.85" r="4.6"/><circle cx="1324.3" cy="77.16" r="4.6"/><circle cx="1323.73" cy="71.61" r="4.6"/><circle cx="1323.32" cy="65.35" r="4.6"/><circle cx="1322.74" cy="59.67" r="4.6"/><circle cx="1321.42" cy="55.88" r="4.6"/><circle cx="1319.27" cy="55.17" r="4.6"/><circle cx="1317.07" cy="56.81" r="4.6"/><circle cx="1314.67" cy="60.05" r="4.6"/><circle cx="1312.61" cy="64.47" r="4.6"/><circle cx="1310.92" cy="69.75" r="4.6"/><circle cx="1309.42" cy="79.04" r="4.6"/><circle cx="1308.16" cy="92.72" r="4.6"/><circle cx="1307.14" cy="108.89" r="4.6"/><circle cx="1306.17" cy="129.26" r="4.6"/><circle cx="1305.52" cy="154.84" r="4.6"/><circle cx="1305.63" cy="182.72" r="4.6"/><circle cx="1306.88" cy="219.93" r="4.6"/><circle cx="1308.38" cy="262.78" r="4.6"/><circle cx="1309.11" cy="292.28" r="4.6"/><circle cx="1308.57" cy="294.79" r="4.6"/><circle cx="1307.35" cy="286.45" r="4.6"/><circle cx="1305.51" cy="272.77" r="4.6"/><circle cx="1302.77" cy="256.37" r="4.6"/><circle cx="1301.38" cy="239.88" r="4.6"/><circle cx="1300.84" cy="225.94" r="4.6"/><circle cx="1300.45" cy="216.65" r="4.6"/><circle cx="1299.98" cy="209.05" r="4.6"/><circle cx="1299.43" cy="202.11" r="4.6"/><circle cx="1298.88" cy="195.79" r="4.6"/><circle cx="1298.39" cy="190.04" r="4.6"/><circle cx="1298.02" cy="184.83" r="4.6"/><circle cx="1297.75" cy="180.12" r="4.6"/><circle cx="1297.51" cy="175.93" r="4.6"/><circle cx="1297.21" cy="172.42" r="4.6"/><circle cx="1296.78" cy="169.32" r="4.6"/><circle cx="1295.99" cy="166.27" r="4.6"/><circle cx="1294.71" cy="162.95" r="4.6"/><circle cx="1292.97" cy="158.95" r="4.6"/><circle cx="1290.31" cy="153.73" r="4.6"/><circle cx="1285.67" cy="147.63" r="4.6"/><circle cx="1282.12" cy="141.13" r="4.6"/><circle cx="1279.13" cy="134.7" r="4.6"/><circle cx="1276.36" cy="128.84" r="4.6"/><circle cx="1273.62" cy="124.01" r="4.6"/><circle cx="1270.71" cy="120.69" r="4.6"/><circle cx="1267.69" cy="119.37" r="4.6"/><circle cx="1264.83" cy="120.39" r="4.6"/><circle cx="1262.36" cy="123.44" r="4.6"/><circle cx="1259.9" cy="127.94" r="4.6"/><circle cx="1257.71" cy="133.35" r="4.6"/><circle cx="1256.46" cy="139.11" r="4.6"/><circle cx="1256.2" cy="146.41" r="4.6"/><circle cx="1256.01" cy="157.58" r="4.6"/><circle cx="1255.87" cy="171.2" r="4.6"/><circle cx="1255.78" cy="185.77" r="4.6"/><circle cx="1255.74" cy="199.78" r="4.6"/><circle cx="1255.84" cy="211.72" r="4.6"/><circle cx="1256.23" cy="220.08" r="4.6"/><circle cx="1256.69" cy="223.34" r="4.6"/><circle cx="1257" cy="221.29" r="4.6"/><circle cx="1256.9" cy="215.94" r="4.6"/><circle cx="1256.21" cy="209" r="4.6"/><circle cx="1255.16" cy="202.18" r="4.6"/><circle cx="1254.01" cy="197.17" r="4.6"/><circle cx="1252.3" cy="195.68" r="4.6"/><circle cx="1250.27" cy="198.38" r="4.6"/><circle cx="1248.64" cy="204.01" r="4.6"/><circle cx="1247.73" cy="211.11" r="4.6"/><circle cx="1247.01" cy="220.88" r="4.6"/><circle cx="1246.42" cy="237.74" r="4.6"/><circle cx="1245.91" cy="259.38" r="4.6"/><circle cx="1245.44" cy="283.17" r="4.6"/><circle cx="1245.08" cy="306.49" r="4.6"/><circle cx="1244.78" cy="326.72" r="4.6"/><circle cx="1244.5" cy="341.22" r="4.6"/><circle cx="1244.16" cy="347.38" r="4.6"/><circle cx="1243.7" cy="345.42" r="4.6"/><circle cx="1242.96" cy="339.07" r="4.6"/><circle cx="1241.51" cy="329.42" r="4.6"/><circle cx="1239.61" cy="317.49" r="4.6"/><circle cx="1237.57" cy="304.33" r="4.6"/><circle cx="1235.72" cy="290.99" r="4.6"/><circle cx="1234.05" cy="278.52" r="4.6"/><circle cx="1232.39" cy="267.56" r="4.6"/><circle cx="1230.73" cy="255.62" r="4.6"/><circle cx="1229.03" cy="242.78" r="4.6"/><circle cx="1227.28" cy="229.97" r="4.6"/><circle cx="1225.42" cy="218.12" r="4.6"/><circle cx="1223.46" cy="208.16" r="4.6"/><circle cx="1221.48" cy="201.01" r="4.6"/><circle cx="1219.55" cy="196.91" r="4.6"/><circle cx="1217.76" cy="193.38" r="4.6"/><circle cx="1216.16" cy="190.14" r="4.6"/><circle cx="1214.69" cy="187.26" r="4.6"/><circle cx="1213.28" cy="184.77" r="4.6"/><circle cx="1211.86" cy="182.75" r="4.6"/><circle cx="1210.38" cy="181.25" r="4.6"/><circle cx="1208.79" cy="180.32" r="4.6"/><circle cx="1207.16" cy="180.02" r="4.6"/><circle cx="1205.49" cy="180.55" r="4.6"/><circle cx="1203.77" cy="181.87" r="4.6"/><circle cx="1202.01" cy="183.8" r="4.6"/><circle cx="1200.15" cy="186.1" r="4.6"/><circle cx="1198.1" cy="188.58" r="4.6"/><circle cx="1196.14" cy="191.08" r="4.6"/><circle cx="1194.59" cy="194.74" r="4.6"/><circle cx="1193.39" cy="199.43" r="4.6"/><circle cx="1192.37" cy="204.38" r="4.6"/><circle cx="1191.42" cy="208.8" r="4.6"/><circle cx="1190.45" cy="211.91" r="4.6"/><circle cx="1189.37" cy="212.92" r="4.6"/><circle cx="1188" cy="210.29" r="4.6"/><circle cx="1186.55" cy="204.32" r="4.6"/><circle cx="1185.4" cy="196.46" r="4.6"/><circle cx="1184.79" cy="188.16" r="4.6"/><circle cx="1184.41" cy="180.86" r="4.6"/><circle cx="1184.04" cy="176" r="4.6"/><circle cx="1183.45" cy="174.85" r="4.6"/><circle cx="1182.39" cy="175.37" r="4.6"/><circle cx="1180.96" cy="176.11" r="4.6"/><circle cx="1179.35" cy="176.55" r="4.6"/><circle cx="1177.74" cy="175.61" r="4.6"/><circle cx="1176.31" cy="172.72" r="4.6"/><circle cx="1174.99" cy="168.73" r="4.6"/><circle cx="1173.69" cy="164.57" r="4.6"/><circle cx="1172.41" cy="161.14" r="4.6"/><circle cx="1171.18" cy="159.32" r="4.6"/><circle cx="1170" cy="159.42" r="4.6"/><circle cx="1168.81" cy="160.22" r="4.6"/><circle cx="1167.6" cy="161.47" r="4.6"/><circle cx="1166.46" cy="162.98" r="4.6"/><circle cx="1165.47" cy="164.55" r="4.6"/><circle cx="1164.7" cy="166.01" r="4.6"/><circle cx="1164.16" cy="167.16" r="4.6"/><circle cx="1163.73" cy="167.81" r="4.6"/><circle cx="1163.36" cy="167.8" r="4.6"/><circle cx="1162.99" cy="167.22" r="4.6"/><circle cx="1162.59" cy="166.34" r="4.6"/><circle cx="1162.12" cy="165.41" r="4.6"/><circle cx="1161.63" cy="164.68" r="4.6"/><circle cx="1161.12" cy="164.43" r="4.6"/><circle cx="1160.6" cy="165.16" r="4.6"/><circle cx="1160.07" cy="167.02" r="4.6"/><circle cx="1159.54" cy="169.82" r="4.6"/><circle cx="1158.97" cy="173.37" r="4.6"/><circle cx="1158.4" cy="177.49" r="4.6"/><circle cx="1157.84" cy="182" r="4.6"/><circle cx="1157.31" cy="186.71" r="4.6"/><circle cx="1156.83" cy="192.01" r="4.6"/><circle cx="1156.35" cy="199.91" r="4.6"/><circle cx="1155.89" cy="209.67" r="4.6"/><circle cx="1155.47" cy="220.25" r="4.6"/><circle cx="1155.11" cy="230.6" r="4.6"/><circle cx="1154.82" cy="239.67" r="4.6"/><circle cx="1154.53" cy="246.41" r="4.6"/><circle cx="1154.26" cy="250.63" r="4.6"/><circle cx="1154.04" cy="254.01" r="4.6"/><circle cx="1153.9" cy="256.81" r="4.6"/><circle cx="1153.92" cy="259.23" r="4.6"/><circle cx="1154.52" cy="261.49" r="4.6"/><circle cx="1155.63" cy="263.76" r="4.6"/><circle cx="1156.99" cy="266.26" r="4.6"/><circle cx="1158.36" cy="269.17" r="4.6"/><circle cx="1159.5" cy="272.75" r="4.6"/><circle cx="1160.69" cy="278.22" r="4.6"/><circle cx="1161.98" cy="284.94" r="4.6"/><circle cx="1163.14" cy="291.44" r="4.6"/><circle cx="1163.96" cy="296.23" r="4.6"/><circle cx="1164.23" cy="297.85" r="4.6"/><circle cx="1164.13" cy="295.68" r="4.6"/><circle cx="1163.87" cy="290.43" r="4.6"/><circle cx="1163.49" cy="282.86" r="4.6"/><circle cx="1163.03" cy="273.71" r="4.6"/><circle cx="1162.51" cy="263.75" r="4.6"/><circle cx="1161.79" cy="253.72" r="4.6"/><circle cx="1160.72" cy="244.36" r="4.6"/><circle cx="1159.38" cy="236.44" r="4.6"/><circle cx="1157.86" cy="230.17" r="4.6"/><circle cx="1156.25" cy="223.75" r="4.6"/><circle cx="1154.51" cy="217.14" r="4.6"/><circle cx="1152.5" cy="210.55" r="4.6"/><circle cx="1150.23" cy="204.21" r="4.6"/><circle cx="1147.7" cy="198.34" r="4.6"/><circle cx="1144.9" cy="193.14" r="4.6"/><circle cx="1141.31" cy="188.85" r="4.6"/><circle cx="1137.62" cy="185.68" r="4.6"/><circle cx="1134.98" cy="183.85" r="4.6"/><circle cx="1132.54" cy="183.56" r="4.6"/><circle cx="1130.46" cy="184.64" r="4.6"/><circle cx="1128.91" cy="186.78" r="4.6"/><circle cx="1128.07" cy="189.72" r="4.6"/><circle cx="1127.76" cy="193.21" r="4.6"/><circle cx="1127.57" cy="196.98" r="4.6"/><circle cx="1127.43" cy="200.78" r="4.6"/><circle cx="1127.27" cy="204.66" r="4.6"/><circle cx="1127.02" cy="209.98" r="4.6"/><circle cx="1126.4" cy="216.38" r="4.6"/><circle cx="1125.11" cy="223.22" r="4.6"/><circle cx="1123.43" cy="229.87" r="4.6"/><circle cx="1121.63" cy="235.69" r="4.6"/><circle cx="1119.99" cy="240.03" r="4.6"/><circle cx="1118.8" cy="242.25" r="4.6"/><circle cx="1118.33" cy="242.1" r="4.6"/><circle cx="1118.46" cy="240.66" r="4.6"/><circle cx="1118.83" cy="238.4" r="4.6"/><circle cx="1119.37" cy="235.71" r="4.6"/><circle cx="1119.98" cy="232.99" r="4.6"/><circle cx="1120.62" cy="230.63" r="4.6"/><circle cx="1121.19" cy="229.02" r="4.6"/><circle cx="1121.63" cy="228.67" r="4.6"/><circle cx="1122.04" cy="233.66" r="4.6"/><circle cx="1122.46" cy="242.65" r="4.6"/><circle cx="1122.87" cy="251.12" r="4.6"/><circle cx="1123.23" cy="254.53" r="4.6"/><circle cx="1123.52" cy="251.26" r="4.6"/><circle cx="1123.69" cy="244.42" r="4.6"/><circle cx="1123.68" cy="237.12" r="4.6"/><circle cx="1123.19" cy="232.45" r="4.6"/><circle cx="1122.3" cy="232.01" r="4.6"/><circle cx="1121.25" cy="232.01" r="4.6"/><circle cx="1120.24" cy="232.01" r="4.6"/><circle cx="1119.14" cy="232.01" r="4.6"/><circle cx="1117.89" cy="231.87" r="4.6"/><circle cx="1116.57" cy="227.71" r="4.6"/><circle cx="1115.24" cy="220.48" r="4.6"/><circle cx="1113.97" cy="213.78" r="4.6"/><circle cx="1112.82" cy="211.22" r="4.6"/><circle cx="1111.8" cy="211.22" r="4.6"/><circle cx="1110.84" cy="211.22" r="4.6"/><circle cx="1109.93" cy="211.22" r="4.6"/><circle cx="1109.03" cy="211.22" r="4.6"/><circle cx="1108.12" cy="211.22" r="4.6"/><circle cx="1107.17" cy="210.92" r="4.6"/><circle cx="1106.16" cy="210.15" r="4.6"/><circle cx="1105.05" cy="209.1" r="4.6"/><circle cx="1103.86" cy="207.96" r="4.6"/><circle cx="1102.65" cy="206.94" r="4.6"/><circle cx="1101.46" cy="206.23" r="4.6"/><circle cx="1100.35" cy="206.06" r="4.6"/><circle cx="1099.37" cy="207.87" r="4.6"/><circle cx="1098.54" cy="211.73" r="4.6"/><circle cx="1097.75" cy="216.78" r="4.6"/><circle cx="1097.02" cy="222.17" r="4.6"/><circle cx="1096.38" cy="227.03" r="4.6"/><circle cx="1095.89" cy="232.16" r="4.6"/><circle cx="1095.58" cy="238.02" r="4.6"/><circle cx="1095.38" cy="243.71" r="4.6"/><circle cx="1095.24" cy="248.33" r="4.6"/><circle cx="1095.12" cy="250.99" r="4.6"/><circle cx="1095" cy="251.99" r="4.6"/><circle cx="1094.87" cy="252.66" r="4.6"/><circle cx="1094.69" cy="253.16" r="4.6"/><circle cx="1094.43" cy="253.68" r="4.6"/><circle cx="1093.94" cy="254.38" r="4.6"/><circle cx="1093.29" cy="255.31" r="4.6"/><circle cx="1092.54" cy="256.34" r="4.6"/><circle cx="1091.76" cy="257.52" r="4.6"/><circle cx="1091.03" cy="258.9" r="4.6"/><circle cx="1090.42" cy="260.55" r="4.6"/><circle cx="1090" cy="262.53" r="4.6"/><circle cx="1089.84" cy="264.9" r="4.6"/><circle cx="1090.04" cy="270.13" r="4.6"/><circle cx="1090.59" cy="279.58" r="4.6"/><circle cx="1091.33" cy="291.36" r="4.6"/><circle cx="1092.13" cy="303.57" r="4.6"/><circle cx="1092.85" cy="314.31" r="4.6"/><circle cx="1093.36" cy="321.67" r="4.6"/><circle cx="1093.5" cy="323.85" r="4.6"/><circle cx="1093.43" cy="323.05" r="4.6"/><circle cx="1093.26" cy="321.21" r="4.6"/><circle cx="1093.02" cy="318.56" r="4.6"/><circle cx="1092.74" cy="315.32" r="4.6"/><circle cx="1092.45" cy="311.7" r="4.6"/><circle cx="1092.16" cy="307.92" r="4.6"/><circle cx="1091.91" cy="304.19" r="4.6"/><circle cx="1091.6" cy="300.75" r="4.6"/><circle cx="1091.27" cy="297.52" r="4.6"/><circle cx="1090.97" cy="293.71" r="4.6"/><circle cx="1090.76" cy="289.49" r="4.6"/><circle cx="1090.72" cy="285.17" r="4.6"/><circle cx="1091.1" cy="281.02" r="4.6"/><circle cx="1091.82" cy="277.33" r="4.6"/><circle cx="1092.63" cy="274.39" r="4.6"/><circle cx="1093.28" cy="272.48" r="4.6"/><circle cx="1093.5" cy="271.91" r="4.6"/><circle cx="1093.19" cy="275.74" r="4.6"/><circle cx="1092.49" cy="284.42" r="4.6"/><circle cx="1091.64" cy="295.85" r="4.6"/><circle cx="1090.83" cy="307.93" r="4.6"/><circle cx="1090.27" cy="318.55" r="4.6"/><circle cx="1089.98" cy="325.62" r="4.6"/><circle cx="1089.76" cy="327.29" r="4.6"/><circle cx="1089.56" cy="326.47" r="4.6"/><circle cx="1089.33" cy="324.87" r="4.6"/><circle cx="1089.04" cy="321.7" r="4.6"/><circle cx="1088.72" cy="312.78" r="4.6"/><circle cx="1088.36" cy="302.34" r="4.6"/><circle cx="1087.93" cy="295.86" r="4.6"/><circle cx="1087.41" cy="292.74" r="4.6"/><circle cx="1086.74" cy="290.13" r="4.6"/><circle cx="1085.62" cy="288.06" r="4.6"/><circle cx="1084.13" cy="286.58" r="4.6"/><circle cx="1082.43" cy="285.75" r="4.6"/><circle cx="1080.69" cy="285.34" r="4.6"/><circle cx="1079.05" cy="285.04" r="4.6"/><circle cx="1077.33" cy="284.81" r="4.6"/><circle cx="1075.51" cy="284.62" r="4.6"/><circle cx="1073.72" cy="284.43" r="4.6"/><circle cx="1072.06" cy="284.23" r="4.6"/><circle cx="1070.65" cy="283.96" r="4.6"/><circle cx="1069.41" cy="283.68" r="4.6"/><circle cx="1068.27" cy="283.39" r="4.6"/><circle cx="1067.22" cy="283.07" r="4.6"/><circle cx="1066.27" cy="282.7" r="4.6"/><circle cx="1065.42" cy="282.26" r="4.6"/><circle cx="1064.59" cy="281.44" r="4.6"/><circle cx="1063.73" cy="280.31" r="4.6"/><circle cx="1062.9" cy="279.29" r="4.6"/><circle cx="1062.17" cy="278.81" r="4.6"/><circle cx="1061.59" cy="280.97" r="4.6"/><circle cx="1061.23" cy="286.94" r="4.6"/><circle cx="1061.13" cy="294.89" r="4.6"/><circle cx="1061.21" cy="303" r="4.6"/><circle cx="1061.39" cy="310.11" r="4.6"/><circle cx="1061.63" cy="318.6" r="4.6"/><circle cx="1061.92" cy="327.52" r="4.6"/><circle cx="1062.24" cy="335.27" r="4.6"/><circle cx="1062.8" cy="340.23" r="4.6"/><circle cx="1063.62" cy="340.99" r="4.6"/><circle cx="1064.48" cy="338.76" r="4.6"/><circle cx="1065.16" cy="334.9" r="4.6"/><circle cx="1065.45" cy="330.38" r="4.6"/><circle cx="1065.45" cy="326.18" r="4.6"/><circle cx="1065.45" cy="323.18" r="4.6"/><circle cx="1065.45" cy="320.46" r="4.6"/><circle cx="1065.45" cy="318.12" r="4.6"/><circle cx="1065.45" cy="316.96" r="4.6"/><circle cx="1065.3" cy="317.47" r="4.6"/><circle cx="1064.82" cy="318.88" r="4.6"/><circle cx="1064.11" cy="320.15" r="4.6"/><circle cx="1063.28" cy="320.01" r="4.6"/><circle cx="1062.43" cy="316.75" r="4.6"/><circle cx="1061.55" cy="311.57" r="4.6"/><circle cx="1060.45" cy="306.17" r="4.6"/><circle cx="1059.2" cy="302.27" r="4.6"/><circle cx="1057.9" cy="301.5" r="4.6"/><circle cx="1056.66" cy="303.89" r="4.6"/><circle cx="1055.56" cy="308.28" r="4.6"/><circle cx="1054.71" cy="313.61" r="4.6"/><circle cx="1054.09" cy="318.8" r="4.6"/><circle cx="1053.56" cy="322.84" r="4.6"/><circle cx="1053.09" cy="326.66" r="4.6"/><circle cx="1052.67" cy="330.65" r="4.6"/><circle cx="1052.26" cy="334.36" r="4.6"/><circle cx="1051.83" cy="337.34" r="4.6"/><circle cx="1051.38" cy="339.14" r="4.6"/><circle cx="1050.92" cy="339.23" r="4.6"/><circle cx="1050.46" cy="337.04" r="4.6"/><circle cx="1050.01" cy="333.51" r="4.6"/><circle cx="1049.55" cy="329.89" r="4.6"/><circle cx="1049.07" cy="327.38" r="4.6"/><circle cx="1048.57" cy="326.25" r="4.6"/><circle cx="1048.04" cy="325.46" r="4.6"/><circle cx="1047.48" cy="324.49" r="4.6"/><circle cx="1046.9" cy="322.56" r="4.6"/><circle cx="1046.27" cy="318.66" r="4.6"/><circle cx="1045.59" cy="314.35" r="4.6"/><circle cx="1044.82" cy="311.44" r="4.6"/><circle cx="1043.92" cy="309.62" r="4.6"/><circle cx="1042.88" cy="308.1" r="4.6"/><circle cx="1041.75" cy="306.82" r="4.6"/><circle cx="1040.56" cy="305.73" r="4.6"/><circle cx="1039.35" cy="304.77" r="4.6"/><circle cx="1038.17" cy="303.84" r="4.6"/><circle cx="1037.04" cy="302.93" r="4.6"/><circle cx="1035.92" cy="302.14" r="4.6"/><circle cx="1034.78" cy="301.57" r="4.6"/><circle cx="1033.65" cy="301.34" r="4.6"/><circle cx="1032.52" cy="301.72" r="4.6"/><circle cx="1031.42" cy="302.72" r="4.6"/><circle cx="1030.35" cy="303.86" r="4.6"/><circle cx="1029.32" cy="304.67" r="4.6"/><circle cx="1028.25" cy="304.44" r="4.6"/><circle cx="1027.17" cy="302.47" r="4.6"/><circle cx="1026.12" cy="301.34" r="4.6"/><circle cx="1025.14" cy="301.94" r="4.6"/><circle cx="1024.27" cy="303.22" r="4.6"/><circle cx="1023.55" cy="304.73" r="4.6"/><circle cx="1022.99" cy="305.99" r="4.6"/><circle cx="1022.49" cy="306.54" r="4.6"/><circle cx="1022.05" cy="306.05" r="4.6"/><circle cx="1021.67" cy="304.82" r="4.6"/><circle cx="1021.34" cy="303.32" r="4.6"/><circle cx="1021.05" cy="302.01" r="4.6"/><circle cx="1020.76" cy="301.35" r="4.6"/><circle cx="1020.49" cy="301.77" r="4.6"/><circle cx="1020.27" cy="303.22" r="4.6"/><circle cx="1020.15" cy="305.42" r="4.6"/><circle cx="1020.18" cy="308.1" r="4.6"/><circle cx="1020.66" cy="310.97" r="4.6"/><circle cx="1021.51" cy="314.26" r="4.6"/><circle cx="1022.58" cy="318.8" r="4.6"/><circle cx="1023.71" cy="324.06" r="4.6"/><circle cx="1024.79" cy="329.45" r="4.6"/><circle cx="1026.15" cy="334.37" r="4.6"/><circle cx="1027.72" cy="338.22" r="4.6"/><circle cx="1029.22" cy="341.21" r="4.6"/><circle cx="1030.39" cy="344.49" r="4.6"/><circle cx="1030.99" cy="349.47" r="4.6"/><circle cx="1031.24" cy="361.74" r="4.6"/><circle cx="1031.39" cy="376.84" r="4.6"/><circle cx="1031.53" cy="385.94" r="4.6"/><circle cx="1031.71" cy="386.02" r="4.6"/><circle cx="1032.03" cy="385.32" r="4.6"/><circle cx="1033.39" cy="384.67" r="4.6"/><circle cx="1035.95" cy="384.87" r="4.6"/><circle cx="1039.13" cy="388.51" r="4.6"/><circle cx="1042.3" cy="394.72" r="4.6"/><circle cx="1044.88" cy="401.82" r="4.6"/><circle cx="1047.06" cy="408.1" r="4.6"/><circle cx="1049.32" cy="411.85" r="4.6"/><circle cx="1051.22" cy="411.8" r="4.6"/><circle cx="1052.35" cy="409.25" r="4.6"/><circle cx="1052.47" cy="405.21" r="4.6"/><circle cx="1052.29" cy="400.51" r="4.6"/><circle cx="1051.97" cy="396" r="4.6"/><circle cx="1051.54" cy="390.98" r="4.6"/><circle cx="1051.03" cy="385.19" r="4.6"/><circle cx="1050.49" cy="379.18" r="4.6"/><circle cx="1049.86" cy="373.53" r="4.6"/><circle cx="1049" cy="368.79" r="4.6"/><circle cx="1047.95" cy="364.59" r="4.6"/><circle cx="1046.75" cy="360.43" r="4.6"/><circle cx="1045.46" cy="356.47" r="4.6"/><circle cx="1044" cy="352.9" r="4.6"/><circle cx="1042.07" cy="349.88" r="4.6"/><circle cx="1039.83" cy="347.59" r="4.6"/><circle cx="1037.49" cy="346.18" r="4.6"/><circle cx="1035.29" cy="345.15" r="4.6"/><circle cx="1033.44" cy="344.25" r="4.6"/><circle cx="1032.16" cy="343.54" r="4.6"/><circle cx="1031.43" cy="343.08" r="4.6"/><circle cx="1030.83" cy="342.94" r="4.6"/><circle cx="1030.33" cy="344.06" r="4.6"/><circle cx="1029.89" cy="346.63" r="4.6"/><circle cx="1029.51" cy="350.03" r="4.6"/><circle cx="1029.14" cy="353.6" r="4.6"/><circle cx="1028.77" cy="356.71" r="4.6"/><circle cx="1028.41" cy="359.61" r="4.6"/><circle cx="1028.07" cy="362.91" r="4.6"/><circle cx="1027.76" cy="366.27" r="4.6"/><circle cx="1027.46" cy="369.39" r="4.6"/><circle cx="1027.16" cy="371.95" r="4.6"/><circle cx="1026.86" cy="373.63" r="4.6"/><circle cx="1026.55" cy="374.1" r="4.6"/><circle cx="1026.24" cy="372.52" r="4.6"/><circle cx="1025.92" cy="369.04" r="4.6"/><circle cx="1025.61" cy="364.35" r="4.6"/><circle cx="1025.29" cy="359.16" r="4.6"/><circle cx="1024.97" cy="354.17" r="4.6"/><circle cx="1024.66" cy="350.06" r="4.6"/><circle cx="1024.34" cy="347.46" r="4.6"/><circle cx="1024.04" cy="345.64" r="4.6"/><circle cx="1023.74" cy="344.14" r="4.6"/><circle cx="1023.44" cy="342.82" r="4.6"/><circle cx="1023.14" cy="341.56" r="4.6"/><circle cx="1022.82" cy="340.21" r="4.6"/><circle cx="1022.47" cy="338.64" r="4.6"/><circle cx="1022.09" cy="336.63" r="4.6"/><circle cx="1021.66" cy="333.76" r="4.6"/><circle cx="1021.19" cy="330.41" r="4.6"/><circle cx="1020.7" cy="327.08" r="4.6"/><circle cx="1020.2" cy="324.28" r="4.6"/><circle cx="1019.7" cy="322.5" r="4.6"/><circle cx="1019.21" cy="322.21" r="4.6"/><circle cx="1018.73" cy="323.1" r="4.6"/><circle cx="1018.23" cy="324.72" r="4.6"/><circle cx="1017.73" cy="326.71" r="4.6"/><circle cx="1017.24" cy="328.69" r="4.6"/><circle cx="1016.76" cy="330.3" r="4.6"/><circle cx="1016.3" cy="331.27" r="4.6"/><circle cx="1015.87" cy="331.99" r="4.6"/><circle cx="1015.44" cy="332.6" r="4.6"/><circle cx="1014.97" cy="333.18" r="4.6"/><circle cx="1014.51" cy="333.83" r="4.6"/><circle cx="1014.11" cy="334.61" r="4.6"/><circle cx="1013.81" cy="335.39" r="4.6"/><circle cx="1013.66" cy="336.23" r="4.6"/><circle cx="1013.73" cy="337.21" r="4.6"/><circle cx="1014.05" cy="338.44" r="4.6"/><circle cx="1014.59" cy="340.09" r="4.6"/><circle cx="1015.27" cy="343.3" r="4.6"/><circle cx="1016.03" cy="347.98" r="4.6"/><circle cx="1016.82" cy="353.57" r="4.6"/><circle cx="1017.87" cy="359.53" r="4.6"/><circle cx="1019.36" cy="365.3" r="4.6"/><circle cx="1020.96" cy="370.33" r="4.6"/><circle cx="1022.38" cy="374.34" r="4.6"/><circle cx="1023.27" cy="378.47" r="4.6"/><circle cx="1023.6" cy="382.6" r="4.6"/><circle cx="1023.81" cy="386.33" r="4.6"/><circle cx="1023.96" cy="389.3" r="4.6"/><circle cx="1024.12" cy="391.09" r="4.6"/><circle cx="1024.34" cy="391.35" r="4.6"/><circle cx="1024.76" cy="390.01" r="4.6"/><circle cx="1025.53" cy="387.47" r="4.6"/><circle cx="1026.47" cy="384.2" r="4.6"/><circle cx="1027.35" cy="380.63" r="4.6"/><circle cx="1027.97" cy="377.22" r="4.6"/><circle cx="1028.21" cy="374.16" r="4.6"/><circle cx="1028.38" cy="370.64" r="4.6"/><circle cx="1028.52" cy="366.97" r="4.6"/><circle cx="1028.63" cy="363.64" r="4.6"/><circle cx="1028.71" cy="361.13" r="4.6"/><circle cx="1028.75" cy="359.83" r="4.6"/><circle cx="1028.64" cy="359.12" r="4.6"/><circle cx="1027.55" cy="358.63" r="4.6"/><circle cx="1025.86" cy="358.16" r="4.6"/><circle cx="1024.18" cy="357.48" r="4.6"/><circle cx="1023.09" cy="356.21" r="4.6"/><circle cx="1022.3" cy="352.26" r="4.6"/><circle cx="1021.61" cy="346.92" r="4.6"/><circle cx="1020.99" cy="342.5" r="4.6"/><circle cx="1020.42" cy="341.25" r="4.6"/><circle cx="1019.88" cy="342.5" r="4.6"/><circle cx="1019.33" cy="344.68" r="4.6"/><circle cx="1018.74" cy="346.86" r="4.6"/><circle cx="1018.05" cy="348.08" r="4.6"/><circle cx="1017.4" cy="347.58" r="4.6"/><circle cx="1016.97" cy="345.71" r="4.6"/><circle cx="1016.99" cy="343.23" r="4.6"/><circle cx="1017.97" cy="340.92" r="4.6"/><circle cx="1019.65" cy="339.57" r="4.6"/><circle cx="1021.58" cy="340.4" r="4.6"/><circle cx="1023.31" cy="344.6" r="4.6"/><circle cx="1024.84" cy="350.85" r="4.6"/><circle cx="1026.45" cy="357.63" r="4.6"/><circle cx="1028.03" cy="364.19" r="4.6"/><circle cx="1029.5" cy="372.26" r="4.6"/><circle cx="1030.75" cy="380.82" r="4.6"/><circle cx="1031.83" cy="388.46" r="4.6"/><circle cx="1032.87" cy="393.83" r="4.6"/><circle cx="1033.81" cy="398.07" r="4.6"/><circle cx="1034.58" cy="401.9" r="4.6"/><circle cx="1035.13" cy="404.81" r="4.6"/><circle cx="1035.47" cy="406.28" r="4.6"/><circle cx="1035.78" cy="405.84" r="4.6"/><circle cx="1036.03" cy="403.64" r="4.6"/><circle cx="1036.21" cy="400.23" r="4.6"/><circle cx="1036.3" cy="396.16" r="4.6"/><circle cx="1036.27" cy="391.99" r="4.6"/><circle cx="1036.01" cy="388.26" r="4.6"/><circle cx="1035.59" cy="385.02" r="4.6"/><circle cx="1035.05" cy="381.74" r="4.6"/><circle cx="1034.46" cy="378.44" r="4.6"/><circle cx="1033.8" cy="375.13" r="4.6"/><circle cx="1032.83" cy="371.81" r="4.6"/><circle cx="1031.65" cy="368.49" r="4.6"/><circle cx="1030.43" cy="365.18" r="4.6"/><circle cx="1029.32" cy="361.68" r="4.6"/><circle cx="1028.46" cy="357.96" r="4.6"/><circle cx="1027.74" cy="354.21" r="4.6"/><circle cx="1027.08" cy="350.6" r="4.6"/><circle cx="1026.48" cy="347.32" r="4.6"/><circle cx="1025.9" cy="344.54" r="4.6"/><circle cx="1025.32" cy="342.42" r="4.6"/><circle cx="1024.72" cy="340.5" r="4.6"/><circle cx="1024.09" cy="338.64" r="4.6"/><circle cx="1023.46" cy="336.9" r="4.6"/><circle cx="1022.83" cy="335.36" r="4.6"/><circle cx="1022.19" cy="334.08" r="4.6"/><circle cx="1021.56" cy="333.14" r="4.6"/><circle cx="1020.93" cy="332.62" r="4.6"/><circle cx="1020.29" cy="332.9" r="4.6"/><circle cx="1019.6" cy="336.19" r="4.6"/><circle cx="1018.78" cy="341.33" r="4.6"/><circle cx="1017.97" cy="346.43" r="4.6"/><circle cx="1017.3" cy="349.57" r="4.6"/><circle cx="1016.92" cy="349.82" r="4.6"/><circle cx="1017.08" cy="349.6" r="4.6"/><circle cx="1018.06" cy="349.2" r="4.6"/><circle cx="1019.48" cy="348.66" r="4.6"/><circle cx="1020.93" cy="347.92" r="4.6"/><circle cx="1022.01" cy="345.32" r="4.6"/><circle cx="1022.42" cy="341.78" r="4.6"/><circle cx="1022.63" cy="339.56" r="4.6"/><circle cx="1022.76" cy="340.15" r="4.6"/><circle cx="1022.88" cy="342.67" r="4.6"/><circle cx="1023.01" cy="346.46" r="4.6"/><circle cx="1023.19" cy="350.92" r="4.6"/><circle cx="1023.49" cy="355.4" r="4.6"/><circle cx="1024.08" cy="359.79" r="4.6"/><circle cx="1024.92" cy="365.06" r="4.6"/><circle cx="1025.88" cy="370.75" r="4.6"/><circle cx="1026.87" cy="376.28" r="4.6"/><circle cx="1028.12" cy="381.05" r="4.6"/><circle cx="1029.57" cy="384.79" r="4.6"/><circle cx="1031.03" cy="388.5" r="4.6"/><circle cx="1032.3" cy="391.96" r="4.6"/><circle cx="1033.18" cy="394.73" r="4.6"/><circle cx="1033.88" cy="396.38" r="4.6"/><circle cx="1034.55" cy="396.31" r="4.6"/><circle cx="1035.15" cy="393.31" r="4.6"/><circle cx="1035.66" cy="388.13" r="4.6"/><circle cx="1036.04" cy="381.94" r="4.6"/><circle cx="1036.26" cy="375.87" r="4.6"/><circle cx="1036.31" cy="370.96" r="4.6"/><circle cx="1036.31" cy="366.32" r="4.6"/><circle cx="1036.31" cy="361.73" r="4.6"/><circle cx="1036.31" cy="357.48" r="4.6"/><circle cx="1036.31" cy="353.85" r="4.6"/><circle cx="1036.36" cy="350.88" r="4.6"/><circle cx="1036.5" cy="348.19" r="4.6"/><circle cx="1036.72" cy="345.77" r="4.6"/><circle cx="1036.95" cy="343.61" r="4.6"/><circle cx="1037.17" cy="341.7" r="4.6"/><circle cx="1037.33" cy="339.91" r="4.6"/><circle cx="1037.39" cy="338.07" r="4.6"/><circle cx="1037.33" cy="336.38" r="4.6"/><circle cx="1037.16" cy="335.06" r="4.6"/><circle cx="1036.91" cy="334.34" r="4.6"/><circle cx="1036.63" cy="334.27" r="4.6"/><circle cx="1036.34" cy="334.27" r="4.6"/><circle cx="1036.01" cy="334.27" r="4.6"/><circle cx="1035.57" cy="334.27" r="4.6"/><circle cx="1035.1" cy="334.27" r="4.6"/><circle cx="1034.63" cy="334.4" r="4.6"/><circle cx="1034.23" cy="335.39" r="4.6"/><circle cx="1033.89" cy="337.11" r="4.6"/><circle cx="1033.54" cy="339.27" r="4.6"/><circle cx="1033.25" cy="341.55" r="4.6"/><circle cx="1033.09" cy="343.7" r="4.6"/><circle cx="1033.31" cy="345.91" r="4.6"/><circle cx="1034.33" cy="348.34" r="4.6"/><circle cx="1035.82" cy="351.07" r="4.6"/><circle cx="1037.42" cy="354.17" r="4.6"/><circle cx="1038.78" cy="357.78" r="4.6"/><circle cx="1040.09" cy="362.69" r="4.6"/><circle cx="1041.44" cy="368.71" r="4.6"/><circle cx="1042.76" cy="375.19" r="4.6"/><circle cx="1044" cy="381.47" r="4.6"/><circle cx="1045.08" cy="386.92" r="4.6"/><circle cx="1045.96" cy="391.5" r="4.6"/><circle cx="1046.72" cy="395.68" r="4.6"/><circle cx="1047.46" cy="399.77" r="4.6"/><circle cx="1048.28" cy="404.06" r="4.6"/><circle cx="1049.28" cy="408.87" r="4.6"/><circle cx="1050.63" cy="414.34" r="4.6"/><circle cx="1052.3" cy="420.36" r="4.6"/><circle cx="1054.15" cy="426.86" r="4.6"/><circle cx="1056.01" cy="434.46" r="4.6"/><circle cx="1057.74" cy="444.68" r="4.6"/><circle cx="1059.27" cy="455.09" r="4.6"/><circle cx="1060.72" cy="462.85" r="4.6"/><circle cx="1062.15" cy="465.22" r="4.6"/><circle cx="1063.58" cy="462.45" r="4.6"/><circle cx="1065.09" cy="456.93" r="4.6"/><circle cx="1066.69" cy="450.46" r="4.6"/><circle cx="1068.39" cy="444.86" r="4.6"/><circle cx="1070.13" cy="439.34" r="4.6"/><circle cx="1071.86" cy="433.77" r="4.6"/><circle cx="1073.52" cy="430.08" r="4.6"/><circle cx="1075.1" cy="429.22" r="4.6"/><circle cx="1076.64" cy="428.88" r="4.6"/><circle cx="1078.15" cy="428.67" r="4.6"/><circle cx="1079.61" cy="428.46" r="4.6"/><circle cx="1081.01" cy="428.11" r="4.6"/><circle cx="1082.4" cy="427.16" r="4.6"/><circle cx="1084" cy="424.21" r="4.6"/><circle cx="1085.53" cy="419.78" r="4.6"/><circle cx="1086.65" cy="414.66" r="4.6"/><circle cx="1087.03" cy="409.63" r="4.6"/><circle cx="1086.57" cy="405.44" r="4.6"/><circle cx="1085.63" cy="401.88" r="4.6"/><circle cx="1084.58" cy="398.06" r="4.6"/><circle cx="1083.78" cy="393.09" r="4.6"/><circle cx="1083.32" cy="385.11" r="4.6"/><circle cx="1082.96" cy="374.15" r="4.6"/><circle cx="1082.63" cy="362.08" r="4.6"/><circle cx="1082.24" cy="350.72" r="4.6"/><circle cx="1081.71" cy="339.89" r="4.6"/><circle cx="1080.81" cy="328.43" r="4.6"/><circle cx="1079.42" cy="317.79" r="4.6"/><circle cx="1077.75" cy="309.45" r="4.6"/><circle cx="1076.01" cy="304.53" r="4.6"/><circle cx="1074.41" cy="301.33" r="4.6"/><circle cx="1073" cy="298.72" r="4.6"/><circle cx="1071.52" cy="295.93" r="4.6"/><circle cx="1070.09" cy="292.22" r="4.6"/><circle cx="1068.83" cy="288.09" r="4.6"/><circle cx="1067.86" cy="284.51" r="4.6"/><circle cx="1067.2" cy="282.46" r="4.6"/><circle cx="1066.6" cy="285.96" r="4.6"/><circle cx="1066.08" cy="303.24" r="4.6"/><circle cx="1065.69" cy="327.48" r="4.6"/><circle cx="1065.47" cy="350.63" r="4.6"/><circle cx="1065.47" cy="364.64" r="4.6"/><circle cx="1065.59" cy="368.32" r="4.6"/><circle cx="1065.79" cy="370.53" r="4.6"/><circle cx="1066.02" cy="372.25" r="4.6"/><circle cx="1066.25" cy="374.25" r="4.6"/><circle cx="1066.43" cy="377.47" r="4.6"/><circle cx="1066.52" cy="383.11" r="4.6"/><circle cx="1066.46" cy="389.64" r="4.6"/><circle cx="1066.19" cy="395.05" r="4.6"/><circle cx="1065.76" cy="397.35" r="4.6"/><circle cx="1065.21" cy="395.56" r="4.6"/><circle cx="1064.61" cy="390.79" r="4.6"/><circle cx="1063.93" cy="384.19" r="4.6"/><circle cx="1062.93" cy="376.88" r="4.6"/><circle cx="1061.74" cy="369.99" r="4.6"/><circle cx="1060.52" cy="364.61" r="4.6"/><circle cx="1059.43" cy="360.16" r="4.6"/><circle cx="1058.6" cy="355.96" r="4.6"/><circle cx="1057.88" cy="351.98" r="4.6"/><circle cx="1057.22" cy="348.14" r="4.6"/><circle cx="1056.62" cy="344.42" r="4.6"/><circle cx="1056.06" cy="340.7" r="4.6"/><circle cx="1055.56" cy="337.02" r="4.6"/><circle cx="1055.1" cy="333.5" r="4.6"/><circle cx="1054.68" cy="330.28" r="4.6"/><circle cx="1054.28" cy="327.46" r="4.6"/><circle cx="1053.89" cy="325.19" r="4.6"/><circle cx="1053.47" cy="323.34" r="4.6"/><circle cx="1053.06" cy="321.61" r="4.6"/><circle cx="1052.65" cy="319.72" r="4.6"/><circle cx="1052.23" cy="317.39" r="4.6"/><circle cx="1051.8" cy="313.85" r="4.6"/><circle cx="1051.36" cy="308.73" r="4.6"/><circle cx="1050.92" cy="303.11" r="4.6"/><circle cx="1050.47" cy="298.12" r="4.6"/><circle cx="1049.99" cy="294.86" r="4.6"/><circle cx="1049.45" cy="293.7" r="4.6"/><circle cx="1048.73" cy="293.05" r="4.6"/><circle cx="1047.71" cy="292.59" r="4.6"/><circle cx="1046.71" cy="292.1" r="4.6"/><circle cx="1046.09" cy="291.36" r="4.6"/><circle cx="1046.15" cy="289.64" r="4.6"/><circle cx="1046.82" cy="285.28" r="4.6"/><circle cx="1047.84" cy="279.26" r="4.6"/><circle cx="1048.97" cy="272.84" r="4.6"/><circle cx="1049.96" cy="267.27" r="4.6"/><circle cx="1050.62" cy="263.78" r="4.6"/><circle cx="1051.11" cy="263.65" r="4.6"/><circle cx="1051.53" cy="267.25" r="4.6"/><circle cx="1051.91" cy="273.22" r="4.6"/><circle cx="1052.31" cy="279.99" r="4.6"/><circle cx="1052.77" cy="286.28" r="4.6"/><circle cx="1053.34" cy="293.4" r="4.6"/><circle cx="1054.14" cy="301.25" r="4.6"/><circle cx="1055.34" cy="309.08" r="4.6"/><circle cx="1056.77" cy="316.11" r="4.6"/><circle cx="1058.24" cy="321.67" r="4.6"/><circle cx="1059.55" cy="326.97" r="4.6"/><circle cx="1060.55" cy="331.96" r="4.6"/><circle cx="1061.35" cy="335.81" r="4.6"/><circle cx="1062.05" cy="337.67" r="4.6"/><circle cx="1062.7" cy="336.45" r="4.6"/><circle cx="1063.39" cy="332.1" r="4.6"/><circle cx="1064.18" cy="326.15" r="4.6"/><circle cx="1065.14" cy="320.16" r="4.6"/><circle cx="1066.43" cy="314.54" r="4.6"/><circle cx="1068.22" cy="307.61" r="4.6"/><circle cx="1070.31" cy="300.53" r="4.6"/><circle cx="1072.47" cy="294.64" r="4.6"/><circle cx="1074.46" cy="291.28" r="4.6"/><circle cx="1076.17" cy="291.33" r="4.6"/><circle cx="1077.86" cy="293.43" r="4.6"/><circle cx="1079.49" cy="296.79" r="4.6"/><circle cx="1080.97" cy="300.76" r="4.6"/><circle cx="1082.2" cy="304.71" r="4.6"/><circle cx="1083.15" cy="308.37" r="4.6"/><circle cx="1084.06" cy="312.98" r="4.6"/><circle cx="1084.92" cy="317.06" r="4.6"/><circle cx="1085.69" cy="318.66" r="4.6"/><circle cx="1086.33" cy="316.88" r="4.6"/><circle cx="1086.79" cy="312.71" r="4.6"/><circle cx="1087.01" cy="307.2" r="4.6"/><circle cx="1086.94" cy="301.4" r="4.6"/><circle cx="1086.52" cy="296.35" r="4.6"/><circle cx="1085.85" cy="292.32" r="4.6"/><circle cx="1085.03" cy="288.56" r="4.6"/><circle cx="1084.17" cy="284.79" r="4.6"/><circle cx="1083.33" cy="280.76" r="4.6"/><circle cx="1082.25" cy="276.18" r="4.6"/><circle cx="1081.05" cy="269.91" r="4.6"/><circle cx="1079.86" cy="261.34" r="4.6"/><circle cx="1078.85" cy="252.36" r="4.6"/><circle cx="1078.13" cy="244.9" r="4.6"/><circle cx="1077.53" cy="240.91" r="4.6"/><circle cx="1077" cy="241.78" r="4.6"/><circle cx="1076.53" cy="246.29" r="4.6"/><circle cx="1076.1" cy="252.9" r="4.6"/><circle cx="1075.7" cy="260.11" r="4.6"/><circle cx="1075.31" cy="266.45" r="4.6"/><circle cx="1074.92" cy="271.1" r="4.6"/><circle cx="1074.51" cy="275.84" r="4.6"/><circle cx="1074.08" cy="280.6" r="4.6"/><circle cx="1073.69" cy="285.01" r="4.6"/><circle cx="1073.36" cy="288.72" r="4.6"/><circle cx="1073.12" cy="291.38" r="4.6"/><circle cx="1073.01" cy="292.62" r="4.6"/><circle cx="1073.04" cy="291.5" r="4.6"/><circle cx="1073.18" cy="287.23" r="4.6"/><circle cx="1073.39" cy="281.2" r="4.6"/><circle cx="1073.63" cy="274.86" r="4.6"/><circle cx="1073.85" cy="269.68" r="4.6"/><circle cx="1074.01" cy="266.33" r="4.6"/><circle cx="1074.08" cy="263.13" r="4.6"/><circle cx="1074.08" cy="260.37" r="4.6"/><circle cx="1074.08" cy="258.51" r="4.6"/><circle cx="1074.08" cy="258.08" r="4.6"/><circle cx="1074.08" cy="259.86" r="4.6"/><circle cx="1074.08" cy="262.9" r="4.6"/><circle cx="1074.08" cy="265.67" r="4.6"/><circle cx="1074.08" cy="266.65" r="4.6"/><circle cx="1074.27" cy="265.34" r="4.6"/><circle cx="1074.71" cy="263.13" r="4.6"/><circle cx="1075.35" cy="261.58" r="4.6"/><circle cx="1076.11" cy="262.6" r="4.6"/><circle cx="1076.96" cy="266.73" r="4.6"/><circle cx="1077.82" cy="271.67" r="4.6"/><circle cx="1078.65" cy="275" r="4.6"/><circle cx="1079.64" cy="274.39" r="4.6"/><circle cx="1080.8" cy="269.61" r="4.6"/><circle cx="1082.05" cy="262.45" r="4.6"/><circle cx="1083.3" cy="254.74" r="4.6"/><circle cx="1084.48" cy="248.31" r="4.6"/><circle cx="1085.51" cy="242.7" r="4.6"/><circle cx="1086.35" cy="237.17" r="4.6"/><circle cx="1087.21" cy="231.74" r="4.6"/><circle cx="1088.02" cy="226.4" r="4.6"/><circle cx="1088.69" cy="220.92" r="4.6"/><circle cx="1089.11" cy="215.1" r="4.6"/><circle cx="1089.18" cy="209.66" r="4.6"/><circle cx="1089.07" cy="205.37" r="4.6"/><circle cx="1088.86" cy="202.59" r="4.6"/><circle cx="1088.59" cy="200.29" r="4.6"/><circle cx="1088.31" cy="198.31" r="4.6"/><circle cx="1088.05" cy="196.59" r="4.6"/><circle cx="1087.75" cy="195.06" r="4.6"/><circle cx="1087.41" cy="193.68" r="4.6"/><circle cx="1087.06" cy="192.37" r="4.6"/><circle cx="1086.7" cy="191.04" r="4.6"/><circle cx="1086.37" cy="189.65" r="4.6"/><circle cx="1086.09" cy="188.31" r="4.6"/><circle cx="1085.86" cy="187.1" r="4.6"/><circle cx="1085.64" cy="186.12" r="4.6"/><circle cx="1085.43" cy="185.46" r="4.6"/><circle cx="1085.23" cy="185.22" r="4.6"/><circle cx="1085.06" cy="186.45" r="4.6"/><circle cx="1084.94" cy="189.63" r="4.6"/><circle cx="1084.88" cy="193.97" r="4.6"/><circle cx="1084.94" cy="198.7" r="4.6"/><circle cx="1085.32" cy="204.32" r="4.6"/><circle cx="1086.01" cy="211.86" r="4.6"/><circle cx="1086.97" cy="220.55" r="4.6"/><circle cx="1088.14" cy="229.66" r="4.6"/><circle cx="1089.5" cy="238.41" r="4.6"/><circle cx="1090.99" cy="246.07" r="4.6"/><circle cx="1093.08" cy="252.73" r="4.6"/><circle cx="1096.61" cy="259.8" r="4.6"/><circle cx="1100.97" cy="266.93" r="4.6"/><circle cx="1105.51" cy="273.64" r="4.6"/><circle cx="1109.58" cy="279.5" r="4.6"/><circle cx="1112.85" cy="284.04" r="4.6"/><circle cx="1116" cy="286.82" r="4.6"/><circle cx="1118.98" cy="287.32" r="4.6"/><circle cx="1121.67" cy="284.36" r="4.6"/><circle cx="1123.93" cy="278.65" r="4.6"/><circle cx="1125.64" cy="271.53" r="4.6"/><circle cx="1126.87" cy="264.32" r="4.6"/><circle cx="1127.87" cy="256.23" r="4.6"/><circle cx="1128.91" cy="245.54" r="4.6"/><circle cx="1130.25" cy="235.19" r="4.6"/><circle cx="1132.31" cy="228.17" r="4.6"/><circle cx="1136.32" cy="227.51" r="4.6"/><circle cx="1141.86" cy="234.35" r="4.6"/><circle cx="1148.15" cy="246.03" r="4.6"/><circle cx="1154.42" cy="259.52" r="4.6"/><circle cx="1159.87" cy="272.26" r="4.6"/><circle cx="1163.74" cy="288.63" r="4.6"/><circle cx="1165.73" cy="307.51" r="4.6"/><circle cx="1167.41" cy="325.08" r="4.6"/><circle cx="1168.91" cy="337.52" r="4.6"/><circle cx="1170.2" cy="341.12" r="4.6"/><circle cx="1171.21" cy="338.2" r="4.6"/><circle cx="1171.9" cy="332.39" r="4.6"/><circle cx="1172.21" cy="325.43" r="4.6"/><circle cx="1172.07" cy="319.07" r="4.6"/><circle cx="1171.48" cy="315.03" r="4.6"/><circle cx="1170.56" cy="313.04" r="4.6"/><circle cx="1169.46" cy="311.67" r="4.6"/><circle cx="1168.3" cy="310.46" r="4.6"/><circle cx="1167.08" cy="308.95" r="4.6"/><circle cx="1165.5" cy="306.68" r="4.6"/><circle cx="1163.66" cy="300.81" r="4.6"/><circle cx="1161.69" cy="290.16" r="4.6"/><circle cx="1159.71" cy="277.63" r="4.6"/><circle cx="1157.86" cy="266.16" r="4.6"/><circle cx="1156.26" cy="258.67" r="4.6"/><circle cx="1154.9" cy="255.59" r="4.6"/><circle cx="1153.54" cy="253.46" r="4.6"/><circle cx="1152.2" cy="251.79" r="4.6"/><circle cx="1150.89" cy="250.19" r="4.6"/><circle cx="1149.62" cy="248.27" r="4.6"/><circle cx="1148.42" cy="245.77" r="4.6"/><circle cx="1147.29" cy="242.93" r="4.6"/><circle cx="1146.24" cy="239.84" r="4.6"/><circle cx="1145.29" cy="236.62" r="4.6"/><circle cx="1144.46" cy="233.33" r="4.6"/><circle cx="1143.76" cy="229.77" r="4.6"/><circle cx="1143.2" cy="225.25" r="4.6"/><circle cx="1142.73" cy="220.76" r="4.6"/><circle cx="1142.28" cy="217.45" r="4.6"/><circle cx="1141.87" cy="216.44" r="4.6"/><circle cx="1141.51" cy="217.58" r="4.6"/><circle cx="1141.23" cy="220.04" r="4.6"/><circle cx="1141.05" cy="223.31" r="4.6"/><circle cx="1140.99" cy="226.88" r="4.6"/><circle cx="1141.44" cy="230.23" r="4.6"/><circle cx="1142.56" cy="232.88" r="4.6"/><circle cx="1144.17" cy="234.86" r="4.6"/><circle cx="1146.1" cy="236.63" r="4.6"/><circle cx="1148.19" cy="238.64" r="4.6"/><circle cx="1150.25" cy="241.33" r="4.6"/><circle cx="1152.14" cy="245.42" r="4.6"/><circle cx="1154.1" cy="256.64" r="4.6"/><circle cx="1156.2" cy="274.38" r="4.6"/><circle cx="1158.34" cy="294.86" r="4.6"/><circle cx="1160.43" cy="314.29" r="4.6"/><circle cx="1162.51" cy="331.37" r="4.6"/><circle cx="1164.87" cy="350.84" r="4.6"/><circle cx="1167.21" cy="368.59" r="4.6"/><circle cx="1169.22" cy="379.62" r="4.6"/><circle cx="1170.57" cy="380.41" r="4.6"/><circle cx="1171.06" cy="376.12" r="4.6"/><circle cx="1171.3" cy="368.82" r="4.6"/><circle cx="1171.48" cy="359.67" r="4.6"/><circle cx="1171.63" cy="349.83" r="4.6"/><circle cx="1171.81" cy="340.45" r="4.6"/><circle cx="1172.09" cy="330.05" r="4.6"/><circle cx="1172.56" cy="317.86" r="4.6"/><circle cx="1173.13" cy="304.97" r="4.6"/><circle cx="1173.66" cy="292.52" r="4.6"/><circle cx="1174.03" cy="281.6" r="4.6"/><circle cx="1174.12" cy="273.16" r="4.6"/><circle cx="1174.12" cy="265.24" r="4.6"/><circle cx="1174.12" cy="257.66" r="4.6"/><circle cx="1174.12" cy="251.32" r="4.6"/><circle cx="1174.12" cy="247.11" r="4.6"/><circle cx="1174.1" cy="245.9" r="4.6"/><circle cx="1173.55" cy="247.01" r="4.6"/><circle cx="1172.45" cy="249.43" r="4.6"/><circle cx="1171.2" cy="252.71" r="4.6"/><circle cx="1170.19" cy="256.42" r="4.6"/><circle cx="1169.8" cy="260.09" r="4.6"/><circle cx="1170.03" cy="263.29" r="4.6"/><circle cx="1170.59" cy="265.66" r="4.6"/><circle cx="1171.35" cy="267.92" r="4.6"/><circle cx="1172.19" cy="270.19" r="4.6"/><circle cx="1172.99" cy="272.28" r="4.6"/><circle cx="1173.82" cy="273.96" r="4.6"/><circle cx="1174.8" cy="275.05" r="4.6"/><circle cx="1175.8" cy="275.32" r="4.6"/><circle cx="1176.67" cy="274.73" r="4.6"/><circle cx="1177.28" cy="273.4" r="4.6"/><circle cx="1177.61" cy="271.5" r="4.6"/><circle cx="1177.86" cy="269.17" r="4.6"/><circle cx="1178.04" cy="266.57" r="4.6"/><circle cx="1178.21" cy="263.61" r="4.6"/><circle cx="1178.38" cy="258.48" r="4.6"/><circle cx="1178.58" cy="251.53" r="4.6"/><circle cx="1178.86" cy="243.72" r="4.6"/><circle cx="1179.34" cy="235.98" r="4.6"/><circle cx="1180.04" cy="229.27" r="4.6"/><circle cx="1180.78" cy="224.52" r="4.6"/><circle cx="1181.38" cy="222.21" r="4.6"/><circle cx="1181.67" cy="220.68" r="4.6"/><circle cx="1181.44" cy="219.49" r="4.6"/><circle cx="1180.7" cy="218.41" r="4.6"/><circle cx="1179.67" cy="217.2" r="4.6"/><circle cx="1178.56" cy="215.57" r="4.6"/><circle cx="1177.56" cy="213.27" r="4.6"/><circle cx="1176.72" cy="210.71" r="4.6"/><circle cx="1175.77" cy="208.4" r="4.6"/><circle cx="1174.86" cy="206.87" r="4.6"/><circle cx="1174.12" cy="206.66" r="4.6"/><circle cx="1173.72" cy="208.37" r="4.6"/><circle cx="1173.89" cy="211.79" r="4.6"/><circle cx="1174.89" cy="216.5" r="4.6"/><circle cx="1176.43" cy="222.09" r="4.6"/><circle cx="1178.21" cy="228.27" r="4.6"/><circle cx="1179.9" cy="237.84" r="4.6"/><circle cx="1181.23" cy="251.02" r="4.6"/><circle cx="1182.34" cy="266.36" r="4.6"/><circle cx="1183.54" cy="282.37" r="4.6"/><circle cx="1185.09" cy="297.63" r="4.6"/><circle cx="1187.58" cy="315.87" r="4.6"/><circle cx="1190.75" cy="336.53" r="4.6"/><circle cx="1193.83" cy="354.5" r="4.6"/><circle cx="1196.4" cy="364.68" r="4.6"/><circle cx="1198.9" cy="363.22" r="4.6"/><circle cx="1201.04" cy="353.71" r="4.6"/><circle cx="1202.54" cy="341.09" r="4.6"/><circle cx="1203.76" cy="330.21" r="4.6"/><circle cx="1204.82" cy="324.37" r="4.6"/><circle cx="1205.62" cy="320.05" r="4.6"/><circle cx="1206.04" cy="317.2" r="4.6"/>
</g>
<rect x="1087.1" y="35.5" width="36.80000000000018" height="451.8" fill="#808080" fill-opacity="0.2"/>
<line x1="1105.0" y1="35.5" x2="1105.0" y2="487.3" stroke="#000" stroke-width="2.08" stroke-dasharray="7.7 3.4" stroke-dashoffset="-2"/>
<polyline fill="none" stroke="#a52a2a" stroke-width="2.08" stroke-dasharray="13.3 3.33 2.08 3.33" points="934.3,457.6 1105.4,267.2 1546.9,77.6"/>
</g>
<defs><clipPath id="ca3"><rect x="100.5" y="593.5" width="674.0" height="451.79999999999995"/></clipPath></defs>
<g clip-path="url(#ca3)">
<g fill="#1f77b4">
<circle cx="549.11" cy="957.31" r="4.6"/><circle cx="547.61" cy="963.96" r="4.6"/><circle cx="547.12" cy="969.43" r="4.6"/><circle cx="546.85" cy="973.4" r="4.6"/><circle cx="546.69" cy="975.53" r="4.6"/><circle cx="546.62" cy="975.57" r="4.6"/><circle cx="546.52" cy="974.08" r="4.6"/><circle cx="546.25" cy="971.85" r="4.6"/><circle cx="545.27" cy="969.58" r="4.6"/><circle cx="542.59" cy="968" r="4.6"/><circle cx="535.47" cy="967.88" r="4.6"/><circle cx="527.92" cy="969.61" r="4.6"/><circle cx="522.12" cy="972.25" r="4.6"/><circle cx="520.96" cy="974.68" r="4.6"/><circle cx="520.3" cy="975.8" r="4.6"/><circle cx="519.73" cy="975.12" r="4.6"/><circle cx="519.32" cy="973.67" r="4.6"/><circle cx="518.74" cy="972.49" r="4.6"/><circle cx="517.42" cy="972.79" r="4.6"/><circle cx="515.27" cy="975.49" r="4.6"/><circle cx="513.07" cy="979.36" r="4.6"/><circle cx="510.67" cy="982.99" r="4.6"/><circle cx="508.61" cy="984.98" r="4.6"/><circle cx="506.92" cy="981.41" r="4.6"/><circle cx="505.42" cy="968.68" r="4.6"/><circle cx="504.16" cy="951.26" r="4.6"/><circle cx="503.14" cy="933.89" r="4.6"/><circle cx="502.17" cy="920.63" r="4.6"/><circle cx="501.52" cy="907.38" r="4.6"/><circle cx="501.63" cy="894.02" r="4.6"/><circle cx="502.88" cy="882.52" r="4.6"/><circle cx="504.38" cy="874.87" r="4.6"/><circle cx="505.11" cy="873" r="4.6"/><circle cx="504.57" cy="876.52" r="4.6"/><circle cx="503.35" cy="883.41" r="4.6"/><circle cx="501.51" cy="891.94" r="4.6"/><circle cx="498.77" cy="900.34" r="4.6"/><circle cx="497.38" cy="906.91" r="4.6"/><circle cx="496.84" cy="912.87" r="4.6"/><circle cx="496.45" cy="914.45" r="4.6"/><circle cx="495.98" cy="914.45" r="4.6"/><circle cx="495.43" cy="914.87" r="4.6"/><circle cx="494.88" cy="915.61" r="4.6"/><circle cx="494.39" cy="915.89" r="4.6"/><circle cx="494.02" cy="920.05" r="4.6"/><circle cx="493.75" cy="926.92" r="4.6"/><circle cx="493.51" cy="933.54" r="4.6"/><circle cx="493.21" cy="936.97" r="4.6"/><circle cx="492.78" cy="936.22" r="4.6"/><circle cx="491.99" cy="933.77" r="4.6"/><circle cx="490.71" cy="930.48" r="4.6"/><circle cx="488.97" cy="927.16" r="4.6"/><circle cx="486.31" cy="924.64" r="4.6"/><circle cx="481.67" cy="923.73" r="4.6"/><circle cx="478.12" cy="926.57" r="4.6"/><circle cx="475.13" cy="932.82" r="4.6"/><circle cx="472.36" cy="940.19" r="4.6"/><circle cx="469.62" cy="946.4" r="4.6"/><circle cx="466.71" cy="949.17" r="4.6"/><circle cx="463.69" cy="949.18" r="4.6"/><circle cx="460.83" cy="948.84" r="4.6"/><circle cx="458.36" cy="947.8" r="4.6"/><circle cx="455.9" cy="946.17" r="4.6"/><circle cx="453.71" cy="944.05" r="4.6"/><circle cx="452.46" cy="941.56" r="4.6"/><circle cx="452.2" cy="936.71" r="4.6"/><circle cx="452.01" cy="927.02" r="4.6"/><circle cx="451.87" cy="915.26" r="4.6"/><circle cx="451.78" cy="904.29" r="4.6"/><circle cx="451.74" cy="896.98" r="4.6"/><circle cx="451.84" cy="894.78" r="4.6"/><circle cx="452.23" cy="896.48" r="4.6"/><circle cx="452.69" cy="900.28" r="4.6"/><circle cx="453" cy="904.44" r="4.6"/><circle cx="452.9" cy="907.19" r="4.6"/><circle cx="452.21" cy="907.51" r="4.6"/><circle cx="451.16" cy="906.81" r="4.6"/><circle cx="450.01" cy="902.38" r="4.6"/><circle cx="448.3" cy="894.88" r="4.6"/><circle cx="446.27" cy="885.47" r="4.6"/><circle cx="444.64" cy="875.3" r="4.6"/><circle cx="443.73" cy="865.53" r="4.6"/><circle cx="443.01" cy="857.32" r="4.6"/><circle cx="442.42" cy="851.83" r="4.6"/><circle cx="441.91" cy="847.88" r="4.6"/><circle cx="441.44" cy="844.07" r="4.6"/><circle cx="441.08" cy="840.57" r="4.6"/><circle cx="440.78" cy="837.57" r="4.6"/><circle cx="440.5" cy="835.27" r="4.6"/><circle cx="440.16" cy="833.86" r="4.6"/><circle cx="439.7" cy="833.57" r="4.6"/><circle cx="438.96" cy="835.45" r="4.6"/><circle cx="437.51" cy="839.31" r="4.6"/><circle cx="435.61" cy="844.36" r="4.6"/><circle cx="433.57" cy="849.79" r="4.6"/><circle cx="431.72" cy="854.81" r="4.6"/><circle cx="430.05" cy="860.14" r="4.6"/><circle cx="428.39" cy="866.14" r="4.6"/><circle cx="426.73" cy="872.2" r="4.6"/><circle cx="425.03" cy="877.71" r="4.6"/><circle cx="423.28" cy="882.06" r="4.6"/><circle cx="421.42" cy="885.14" r="4.6"/><circle cx="419.46" cy="887.66" r="4.6"/><circle cx="417.48" cy="890.15" r="4.6"/><circle cx="415.55" cy="893.18" r="4.6"/><circle cx="413.76" cy="897.02" r="4.6"/><circle cx="412.16" cy="901.27" r="4.6"/><circle cx="410.69" cy="905.46" r="4.6"/><circle cx="409.28" cy="909.16" r="4.6"/><circle cx="407.86" cy="911.9" r="4.6"/><circle cx="406.38" cy="913.24" r="4.6"/><circle cx="404.79" cy="910.92" r="4.6"/><circle cx="403.16" cy="901.74" r="4.6"/><circle cx="401.49" cy="888.12" r="4.6"/><circle cx="399.77" cy="872.74" r="4.6"/><circle cx="398.01" cy="858.28" r="4.6"/><circle cx="396.15" cy="847.4" r="4.6"/><circle cx="394.1" cy="842.78" r="4.6"/><circle cx="392.14" cy="848.7" r="4.6"/><circle cx="390.59" cy="862.15" r="4.6"/><circle cx="389.39" cy="873.41" r="4.6"/><circle cx="388.37" cy="874.87" r="4.6"/><circle cx="387.42" cy="873.02" r="4.6"/><circle cx="386.45" cy="870.53" r="4.6"/><circle cx="385.37" cy="868.61" r="4.6"/><circle cx="384" cy="868.52" r="4.6"/><circle cx="382.55" cy="871.19" r="4.6"/><circle cx="381.4" cy="875.75" r="4.6"/><circle cx="380.79" cy="881.06" r="4.6"/><circle cx="380.41" cy="885.96" r="4.6"/><circle cx="380.04" cy="889.32" r="4.6"/><circle cx="379.45" cy="890.13" r="4.6"/><circle cx="378.39" cy="889.82" r="4.6"/><circle cx="376.96" cy="889.14" r="4.6"/><circle cx="375.35" cy="888.12" r="4.6"/><circle cx="373.74" cy="886.81" r="4.6"/><circle cx="372.31" cy="885.11" r="4.6"/><circle cx="370.99" cy="880.06" r="4.6"/><circle cx="369.69" cy="878.94" r="4.6"/><circle cx="368.41" cy="881.15" r="4.6"/><circle cx="367.18" cy="884.6" r="4.6"/><circle cx="366" cy="888.17" r="4.6"/><circle cx="364.81" cy="890.72" r="4.6"/><circle cx="363.6" cy="891.12" r="4.6"/><circle cx="362.46" cy="888.74" r="4.6"/><circle cx="361.47" cy="884.64" r="4.6"/><circle cx="360.7" cy="880.13" r="4.6"/><circle cx="360.16" cy="876.52" r="4.6"/><circle cx="359.73" cy="875.05" r="4.6"/><circle cx="359.36" cy="874.54" r="4.6"/><circle cx="358.99" cy="874.18" r="4.6"/><circle cx="358.59" cy="874.02" r="4.6"/><circle cx="358.12" cy="874.85" r="4.6"/><circle cx="357.63" cy="877.18" r="4.6"/><circle cx="357.12" cy="879.33" r="4.6"/><circle cx="356.6" cy="879.45" r="4.6"/><circle cx="356.07" cy="876.41" r="4.6"/><circle cx="355.54" cy="872.51" r="4.6"/><circle cx="354.97" cy="870.54" r="4.6"/><circle cx="354.4" cy="872.42" r="4.6"/><circle cx="353.84" cy="876.32" r="4.6"/><circle cx="353.31" cy="879.42" r="4.6"/><circle cx="352.83" cy="878.77" r="4.6"/><circle cx="352.35" cy="873.47" r="4.6"/><circle cx="351.89" cy="866.36" r="4.6"/><circle cx="351.47" cy="860.47" r="4.6"/><circle cx="351.11" cy="855.68" r="4.6"/><circle cx="350.82" cy="851.16" r="4.6"/><circle cx="350.53" cy="847.14" r="4.6"/><circle cx="350.26" cy="843.49" r="4.6"/><circle cx="350.04" cy="839.66" r="4.6"/><circle cx="349.9" cy="835.95" r="4.6"/><circle cx="349.92" cy="832.71" r="4.6"/><circle cx="350.52" cy="830.27" r="4.6"/><circle cx="351.63" cy="828.99" r="4.6"/><circle cx="352.99" cy="828.94" r="4.6"/><circle cx="354.36" cy="829.27" r="4.6"/><circle cx="355.5" cy="829.69" r="4.6"/><circle cx="356.69" cy="829.99" r="4.6"/><circle cx="357.98" cy="829.63" r="4.6"/><circle cx="359.14" cy="827.09" r="4.6"/><circle cx="359.96" cy="823.26" r="4.6"/><circle cx="360.23" cy="819.37" r="4.6"/><circle cx="360.13" cy="816.67" r="4.6"/><circle cx="359.87" cy="816.42" r="4.6"/><circle cx="359.49" cy="819.2" r="4.6"/><circle cx="359.03" cy="824.01" r="4.6"/><circle cx="358.51" cy="829.69" r="4.6"/><circle cx="357.79" cy="835.09" r="4.6"/><circle cx="356.72" cy="839.18" r="4.6"/><circle cx="355.38" cy="843.2" r="4.6"/><circle cx="353.86" cy="846.76" r="4.6"/><circle cx="352.25" cy="848.52" r="4.6"/><circle cx="350.51" cy="848.55" r="4.6"/><circle cx="348.5" cy="848.55" r="4.6"/><circle cx="346.23" cy="848.63" r="4.6"/><circle cx="343.7" cy="853.56" r="4.6"/><circle cx="340.9" cy="862.76" r="4.6"/><circle cx="337.31" cy="871.52" r="4.6"/><circle cx="333.62" cy="875.16" r="4.6"/><circle cx="330.98" cy="872.83" r="4.6"/><circle cx="328.54" cy="867.34" r="4.6"/><circle cx="326.46" cy="860.26" r="4.6"/><circle cx="324.91" cy="853.18" r="4.6"/><circle cx="324.07" cy="847.67" r="4.6"/><circle cx="323.76" cy="843.48" r="4.6"/><circle cx="323.57" cy="839.21" r="4.6"/><circle cx="323.43" cy="835.39" r="4.6"/><circle cx="323.27" cy="832.55" r="4.6"/><circle cx="323.02" cy="831.22" r="4.6"/><circle cx="322.4" cy="832.3" r="4.6"/><circle cx="321.11" cy="835.87" r="4.6"/><circle cx="319.43" cy="840.51" r="4.6"/><circle cx="317.63" cy="844.79" r="4.6"/><circle cx="315.99" cy="847.23" r="4.6"/><circle cx="314.8" cy="847.33" r="4.6"/><circle cx="314.33" cy="847.06" r="4.6"/><circle cx="314.46" cy="846.61" r="4.6"/><circle cx="314.83" cy="846.03" r="4.6"/><circle cx="315.37" cy="845.37" r="4.6"/><circle cx="315.98" cy="844.5" r="4.6"/><circle cx="316.62" cy="842.85" r="4.6"/><circle cx="317.19" cy="840.67" r="4.6"/><circle cx="317.63" cy="838.3" r="4.6"/><circle cx="318.04" cy="836.1" r="4.6"/><circle cx="318.46" cy="834.39" r="4.6"/><circle cx="318.87" cy="833.54" r="4.6"/><circle cx="319.23" cy="834.79" r="4.6"/><circle cx="319.52" cy="838.9" r="4.6"/><circle cx="319.69" cy="842.89" r="4.6"/><circle cx="319.68" cy="842.5" r="4.6"/><circle cx="319.19" cy="824.84" r="4.6"/><circle cx="318.3" cy="796.47" r="4.6"/><circle cx="317.25" cy="769.51" r="4.6"/><circle cx="316.24" cy="756.09" r="4.6"/><circle cx="315.14" cy="762.18" r="4.6"/><circle cx="313.89" cy="780.13" r="4.6"/><circle cx="312.57" cy="803.99" r="4.6"/><circle cx="311.24" cy="827.85" r="4.6"/><circle cx="309.97" cy="845.8" r="4.6"/><circle cx="308.82" cy="852.01" r="4.6"/><circle cx="307.8" cy="850.57" r="4.6"/><circle cx="306.84" cy="847.31" r="4.6"/><circle cx="305.93" cy="843.02" r="4.6"/><circle cx="305.03" cy="838.48" r="4.6"/><circle cx="304.12" cy="834.49" r="4.6"/><circle cx="303.17" cy="831.83" r="4.6"/><circle cx="302.16" cy="831.26" r="4.6"/><circle cx="301.05" cy="832.46" r="4.6"/><circle cx="299.86" cy="834.59" r="4.6"/><circle cx="298.65" cy="836.92" r="4.6"/><circle cx="297.46" cy="838.72" r="4.6"/><circle cx="296.35" cy="839.23" r="4.6"/><circle cx="295.37" cy="836.91" r="4.6"/><circle cx="294.54" cy="832.58" r="4.6"/><circle cx="293.75" cy="828.16" r="4.6"/><circle cx="293.02" cy="825.55" r="4.6"/><circle cx="292.38" cy="826.09" r="4.6"/><circle cx="291.89" cy="828.52" r="4.6"/><circle cx="291.58" cy="831.4" r="4.6"/><circle cx="291.38" cy="833.32" r="4.6"/><circle cx="291.24" cy="833.06" r="4.6"/><circle cx="291.12" cy="830.9" r="4.6"/><circle cx="291" cy="827.71" r="4.6"/><circle cx="290.87" cy="824.33" r="4.6"/><circle cx="290.69" cy="821.6" r="4.6"/><circle cx="290.43" cy="820.16" r="4.6"/><circle cx="289.94" cy="819.23" r="4.6"/><circle cx="289.29" cy="818.54" r="4.6"/><circle cx="288.54" cy="817.95" r="4.6"/><circle cx="287.76" cy="817.32" r="4.6"/><circle cx="287.03" cy="816.51" r="4.6"/><circle cx="286.42" cy="815.4" r="4.6"/><circle cx="286" cy="813.43" r="4.6"/><circle cx="285.84" cy="809.59" r="4.6"/><circle cx="286.04" cy="804.38" r="4.6"/><circle cx="286.59" cy="798.33" r="4.6"/><circle cx="287.33" cy="792.02" r="4.6"/><circle cx="288.13" cy="786.01" r="4.6"/><circle cx="288.85" cy="780.85" r="4.6"/><circle cx="289.36" cy="776.16" r="4.6"/><circle cx="289.5" cy="771.04" r="4.6"/><circle cx="289.43" cy="766.24" r="4.6"/><circle cx="289.26" cy="762.53" r="4.6"/><circle cx="289.02" cy="760.67" r="4.6"/><circle cx="288.74" cy="761.18" r="4.6"/><circle cx="288.45" cy="763.48" r="4.6"/><circle cx="288.16" cy="766.91" r="4.6"/><circle cx="287.91" cy="770.79" r="4.6"/><circle cx="287.6" cy="774.47" r="4.6"/><circle cx="287.27" cy="777.7" r="4.6"/><circle cx="286.97" cy="781.48" r="4.6"/><circle cx="286.76" cy="785.53" r="4.6"/><circle cx="286.72" cy="789.45" r="4.6"/><circle cx="287.1" cy="792.85" r="4.6"/><circle cx="287.82" cy="795.31" r="4.6"/><circle cx="288.63" cy="796.44" r="4.6"/><circle cx="289.28" cy="795.51" r="4.6"/><circle cx="289.5" cy="792.23" r="4.6"/><circle cx="289.19" cy="787.48" r="4.6"/><circle cx="288.49" cy="782.19" r="4.6"/><circle cx="287.64" cy="777.26" r="4.6"/><circle cx="286.83" cy="773.61" r="4.6"/><circle cx="286.27" cy="772.16" r="4.6"/><circle cx="285.98" cy="772.61" r="4.6"/><circle cx="285.76" cy="773.79" r="4.6"/><circle cx="285.56" cy="775.4" r="4.6"/><circle cx="285.33" cy="777.13" r="4.6"/><circle cx="285.04" cy="778.83" r="4.6"/><circle cx="284.72" cy="781.09" r="4.6"/><circle cx="284.36" cy="783.74" r="4.6"/><circle cx="283.93" cy="786.46" r="4.6"/><circle cx="283.41" cy="788.92" r="4.6"/><circle cx="282.74" cy="790.8" r="4.6"/><circle cx="281.62" cy="791.77" r="4.6"/><circle cx="280.13" cy="791.76" r="4.6"/><circle cx="278.43" cy="791.41" r="4.6"/><circle cx="276.69" cy="790.9" r="4.6"/><circle cx="275.05" cy="790.34" r="4.6"/><circle cx="273.33" cy="789.85" r="4.6"/><circle cx="271.51" cy="789.56" r="4.6"/><circle cx="269.72" cy="789.9" r="4.6"/><circle cx="268.06" cy="792.07" r="4.6"/><circle cx="266.65" cy="794.98" r="4.6"/><circle cx="265.41" cy="797.2" r="4.6"/><circle cx="264.27" cy="797.36" r="4.6"/><circle cx="263.22" cy="795.19" r="4.6"/><circle cx="262.27" cy="791.72" r="4.6"/><circle cx="261.42" cy="788.12" r="4.6"/><circle cx="260.59" cy="785.51" r="4.6"/><circle cx="259.73" cy="784.91" r="4.6"/><circle cx="258.9" cy="785.14" r="4.6"/><circle cx="258.17" cy="785.51" r="4.6"/><circle cx="257.59" cy="785.87" r="4.6"/><circle cx="257.23" cy="786.05" r="4.6"/><circle cx="257.13" cy="784.29" r="4.6"/><circle cx="257.21" cy="779.08" r="4.6"/><circle cx="257.39" cy="772.16" r="4.6"/><circle cx="257.63" cy="765.27" r="4.6"/><circle cx="257.92" cy="758.25" r="4.6"/><circle cx="258.24" cy="749.81" r="4.6"/><circle cx="258.8" cy="743.42" r="4.6"/><circle cx="259.62" cy="742.08" r="4.6"/><circle cx="260.48" cy="742.28" r="4.6"/><circle cx="261.16" cy="742.66" r="4.6"/><circle cx="261.45" cy="743.2" r="4.6"/><circle cx="261.45" cy="746.19" r="4.6"/><circle cx="261.45" cy="752.3" r="4.6"/><circle cx="261.45" cy="758.48" r="4.6"/><circle cx="261.45" cy="761.7" r="4.6"/><circle cx="261.45" cy="758.3" r="4.6"/><circle cx="261.3" cy="748.8" r="4.6"/><circle cx="260.82" cy="737.73" r="4.6"/><circle cx="260.11" cy="729.67" r="4.6"/><circle cx="259.28" cy="728.82" r="4.6"/><circle cx="258.43" cy="734.38" r="4.6"/><circle cx="257.55" cy="743.59" r="4.6"/><circle cx="256.45" cy="753.96" r="4.6"/><circle cx="255.2" cy="763" r="4.6"/><circle cx="253.9" cy="768.22" r="4.6"/><circle cx="252.66" cy="768.01" r="4.6"/><circle cx="251.56" cy="764.64" r="4.6"/><circle cx="250.71" cy="759.37" r="4.6"/><circle cx="250.09" cy="753.23" r="4.6"/><circle cx="249.56" cy="747.27" r="4.6"/><circle cx="249.09" cy="742.51" r="4.6"/><circle cx="248.67" cy="739.62" r="4.6"/><circle cx="248.26" cy="737.08" r="4.6"/><circle cx="247.83" cy="734.77" r="4.6"/><circle cx="247.38" cy="732.95" r="4.6"/><circle cx="246.92" cy="731.85" r="4.6"/><circle cx="246.46" cy="732.02" r="4.6"/><circle cx="246.01" cy="735.81" r="4.6"/><circle cx="245.55" cy="742.04" r="4.6"/><circle cx="245.07" cy="748.63" r="4.6"/><circle cx="244.57" cy="753.51" r="4.6"/><circle cx="244.04" cy="754.8" r="4.6"/><circle cx="243.48" cy="754.8" r="4.6"/><circle cx="242.9" cy="754.8" r="4.6"/><circle cx="242.27" cy="754.8" r="4.6"/><circle cx="241.59" cy="755.34" r="4.6"/><circle cx="240.82" cy="756.75" r="4.6"/><circle cx="239.92" cy="758.02" r="4.6"/><circle cx="238.88" cy="758.27" r="4.6"/><circle cx="237.75" cy="758.27" r="4.6"/><circle cx="236.56" cy="758.27" r="4.6"/><circle cx="235.35" cy="758.27" r="4.6"/><circle cx="234.17" cy="758.5" r="4.6"/><circle cx="233.04" cy="761.09" r="4.6"/><circle cx="231.92" cy="765.21" r="4.6"/><circle cx="230.78" cy="769.09" r="4.6"/><circle cx="229.65" cy="770.99" r="4.6"/><circle cx="228.52" cy="770.13" r="4.6"/><circle cx="227.42" cy="767.54" r="4.6"/><circle cx="226.35" cy="763.79" r="4.6"/><circle cx="225.32" cy="759.47" r="4.6"/><circle cx="224.25" cy="755.14" r="4.6"/><circle cx="223.17" cy="751.37" r="4.6"/><circle cx="222.12" cy="748.76" r="4.6"/><circle cx="221.14" cy="747.86" r="4.6"/><circle cx="220.27" cy="749.8" r="4.6"/><circle cx="219.55" cy="753.71" r="4.6"/><circle cx="218.99" cy="757.59" r="4.6"/><circle cx="218.49" cy="759.43" r="4.6"/><circle cx="218.05" cy="757.95" r="4.6"/><circle cx="217.67" cy="754.51" r="4.6"/><circle cx="217.34" cy="750.92" r="4.6"/><circle cx="217.05" cy="749.04" r="4.6"/><circle cx="216.76" cy="749.6" r="4.6"/><circle cx="216.49" cy="751.24" r="4.6"/><circle cx="216.27" cy="753.15" r="4.6"/><circle cx="216.15" cy="754.54" r="4.6"/><circle cx="216.18" cy="754.55" r="4.6"/><circle cx="216.66" cy="752.36" r="4.6"/><circle cx="217.51" cy="748.48" r="4.6"/><circle cx="218.58" cy="743.65" r="4.6"/><circle cx="219.71" cy="738.59" r="4.6"/><circle cx="220.79" cy="731.56" r="4.6"/><circle cx="222.15" cy="721.64" r="4.6"/><circle cx="223.72" cy="710.8" r="4.6"/><circle cx="225.22" cy="701.01" r="4.6"/><circle cx="226.39" cy="694.23" r="4.6"/><circle cx="226.99" cy="692.35" r="4.6"/><circle cx="227.24" cy="693.76" r="4.6"/><circle cx="227.39" cy="696.3" r="4.6"/><circle cx="227.53" cy="698.87" r="4.6"/><circle cx="227.71" cy="700.33" r="4.6"/><circle cx="228.03" cy="699.28" r="4.6"/><circle cx="229.39" cy="695.37" r="4.6"/><circle cx="231.95" cy="690.36" r="4.6"/><circle cx="235.13" cy="686.04" r="4.6"/><circle cx="238.3" cy="684.2" r="4.6"/><circle cx="240.88" cy="685.73" r="4.6"/><circle cx="243.06" cy="689.47" r="4.6"/><circle cx="245.32" cy="694.14" r="4.6"/><circle cx="247.22" cy="698.48" r="4.6"/><circle cx="248.35" cy="701.2" r="4.6"/><circle cx="248.47" cy="701.12" r="4.6"/><circle cx="248.29" cy="698.47" r="4.6"/><circle cx="247.97" cy="694.63" r="4.6"/><circle cx="247.54" cy="690.98" r="4.6"/><circle cx="247.03" cy="688.93" r="4.6"/><circle cx="246.49" cy="689.86" r="4.6"/><circle cx="245.86" cy="693.86" r="4.6"/><circle cx="245" cy="699.78" r="4.6"/><circle cx="243.95" cy="706.44" r="4.6"/><circle cx="242.75" cy="712.95" r="4.6"/><circle cx="241.46" cy="721.89" r="4.6"/><circle cx="240" cy="732.42" r="4.6"/><circle cx="238.07" cy="742.3" r="4.6"/><circle cx="235.83" cy="749.31" r="4.6"/><circle cx="233.49" cy="751.24" r="4.6"/><circle cx="231.29" cy="748.48" r="4.6"/><circle cx="229.44" cy="742.81" r="4.6"/><circle cx="228.16" cy="735.55" r="4.6"/><circle cx="227.43" cy="728.02" r="4.6"/><circle cx="226.83" cy="721.54" r="4.6"/><circle cx="226.33" cy="717.4" r="4.6"/><circle cx="225.89" cy="716.75" r="4.6"/><circle cx="225.51" cy="718.27" r="4.6"/><circle cx="225.14" cy="720.76" r="4.6"/><circle cx="224.77" cy="723.4" r="4.6"/><circle cx="224.41" cy="725.35" r="4.6"/><circle cx="224.07" cy="725.57" r="4.6"/><circle cx="223.76" cy="719.9" r="4.6"/><circle cx="223.46" cy="708.9" r="4.6"/><circle cx="223.16" cy="695.05" r="4.6"/><circle cx="222.86" cy="680.82" r="4.6"/><circle cx="222.55" cy="668.7" r="4.6"/><circle cx="222.24" cy="661.18" r="4.6"/><circle cx="221.92" cy="660.84" r="4.6"/><circle cx="221.61" cy="669.08" r="4.6"/><circle cx="221.29" cy="682.93" r="4.6"/><circle cx="220.97" cy="698.88" r="4.6"/><circle cx="220.66" cy="713.44" r="4.6"/><circle cx="220.34" cy="723.09" r="4.6"/><circle cx="220.04" cy="726.09" r="4.6"/><circle cx="219.74" cy="727.51" r="4.6"/><circle cx="219.44" cy="729.15" r="4.6"/><circle cx="219.14" cy="732.4" r="4.6"/><circle cx="218.82" cy="737.4" r="4.6"/><circle cx="218.47" cy="743.32" r="4.6"/><circle cx="218.09" cy="749.31" r="4.6"/><circle cx="217.66" cy="754.55" r="4.6"/><circle cx="217.19" cy="758.19" r="4.6"/><circle cx="216.7" cy="759.43" r="4.6"/><circle cx="216.2" cy="759.11" r="4.6"/><circle cx="215.7" cy="758.32" r="4.6"/><circle cx="215.21" cy="757.16" r="4.6"/><circle cx="214.73" cy="755.74" r="4.6"/><circle cx="214.23" cy="754.15" r="4.6"/><circle cx="213.73" cy="752.51" r="4.6"/><circle cx="213.24" cy="750.9" r="4.6"/><circle cx="212.76" cy="748.98" r="4.6"/><circle cx="212.3" cy="745.8" r="4.6"/><circle cx="211.87" cy="739.87" r="4.6"/><circle cx="211.44" cy="732.38" r="4.6"/><circle cx="210.97" cy="724.83" r="4.6"/><circle cx="210.51" cy="718.73" r="4.6"/><circle cx="210.11" cy="715.59" r="4.6"/><circle cx="209.81" cy="716.68" r="4.6"/><circle cx="209.66" cy="721.03" r="4.6"/><circle cx="209.73" cy="726.42" r="4.6"/><circle cx="210.05" cy="730.61" r="4.6"/><circle cx="210.59" cy="731.42" r="4.6"/><circle cx="211.27" cy="728.13" r="4.6"/><circle cx="212.03" cy="722.3" r="4.6"/><circle cx="212.82" cy="715.68" r="4.6"/><circle cx="213.87" cy="710.02" r="4.6"/><circle cx="215.36" cy="706.99" r="4.6"/><circle cx="216.96" cy="705.76" r="4.6"/><circle cx="218.38" cy="704.7" r="4.6"/><circle cx="219.27" cy="702.64" r="4.6"/><circle cx="219.6" cy="698.13" r="4.6"/><circle cx="219.81" cy="692.45" r="4.6"/><circle cx="219.96" cy="687.31" r="4.6"/><circle cx="220.12" cy="684.39" r="4.6"/><circle cx="220.34" cy="685.23" r="4.6"/><circle cx="220.76" cy="689.55" r="4.6"/><circle cx="221.53" cy="695.85" r="4.6"/><circle cx="222.47" cy="702.58" r="4.6"/><circle cx="223.35" cy="708.21" r="4.6"/><circle cx="223.97" cy="711.27" r="4.6"/><circle cx="224.21" cy="712.66" r="4.6"/><circle cx="224.38" cy="714.02" r="4.6"/><circle cx="224.52" cy="716.4" r="4.6"/><circle cx="224.63" cy="719.93" r="4.6"/><circle cx="224.71" cy="724.21" r="4.6"/><circle cx="224.75" cy="728.84" r="4.6"/><circle cx="224.64" cy="733.42" r="4.6"/><circle cx="223.55" cy="737.54" r="4.6"/><circle cx="221.86" cy="740.8" r="4.6"/><circle cx="220.18" cy="742.79" r="4.6"/><circle cx="219.09" cy="743.2" r="4.6"/><circle cx="218.3" cy="742.94" r="4.6"/><circle cx="217.61" cy="742.53" r="4.6"/><circle cx="216.99" cy="742.17" r="4.6"/><circle cx="216.42" cy="742.14" r="4.6"/><circle cx="215.88" cy="743.55" r="4.6"/><circle cx="215.33" cy="745.23" r="4.6"/><circle cx="214.74" cy="745.06" r="4.6"/><circle cx="214.05" cy="742.03" r="4.6"/><circle cx="213.4" cy="737.88" r="4.6"/><circle cx="212.97" cy="734.64" r="4.6"/><circle cx="212.99" cy="734.14" r="4.6"/><circle cx="213.97" cy="735.86" r="4.6"/><circle cx="215.65" cy="738.72" r="4.6"/><circle cx="217.58" cy="741.86" r="4.6"/><circle cx="219.31" cy="744.42" r="4.6"/><circle cx="220.84" cy="745.54" r="4.6"/><circle cx="222.45" cy="743.74" r="4.6"/><circle cx="224.03" cy="738.61" r="4.6"/><circle cx="225.5" cy="731.15" r="4.6"/><circle cx="226.75" cy="722.39" r="4.6"/><circle cx="227.83" cy="713.34" r="4.6"/><circle cx="228.87" cy="704.96" r="4.6"/><circle cx="229.81" cy="694.64" r="4.6"/><circle cx="230.58" cy="682.41" r="4.6"/><circle cx="231.13" cy="670.72" r="4.6"/><circle cx="231.47" cy="662.01" r="4.6"/><circle cx="231.78" cy="658.74" r="4.6"/><circle cx="232.03" cy="665.09" r="4.6"/><circle cx="232.21" cy="680.67" r="4.6"/><circle cx="232.3" cy="701.61" r="4.6"/><circle cx="232.27" cy="724.03" r="4.6"/><circle cx="232.01" cy="744.07" r="4.6"/><circle cx="231.59" cy="757.84" r="4.6"/><circle cx="231.05" cy="761.61" r="4.6"/><circle cx="230.46" cy="757.55" r="4.6"/><circle cx="229.8" cy="749.84" r="4.6"/><circle cx="228.83" cy="741.15" r="4.6"/><circle cx="227.65" cy="734.2" r="4.6"/><circle cx="226.43" cy="731.67" r="4.6"/><circle cx="225.32" cy="734.25" r="4.6"/><circle cx="224.46" cy="739.55" r="4.6"/><circle cx="223.74" cy="745.16" r="4.6"/><circle cx="223.08" cy="748.7" r="4.6"/><circle cx="222.48" cy="747.53" r="4.6"/><circle cx="221.9" cy="741.19" r="4.6"/><circle cx="221.32" cy="733.33" r="4.6"/><circle cx="220.72" cy="727.76" r="4.6"/><circle cx="220.09" cy="728.16" r="4.6"/><circle cx="219.46" cy="734.05" r="4.6"/><circle cx="218.83" cy="740.69" r="4.6"/><circle cx="218.19" cy="743.1" r="4.6"/><circle cx="217.56" cy="736.96" r="4.6"/><circle cx="216.93" cy="724.69" r="4.6"/><circle cx="216.29" cy="710.64" r="4.6"/><circle cx="215.6" cy="699.16" r="4.6"/><circle cx="214.78" cy="694.62" r="4.6"/><circle cx="213.97" cy="699.02" r="4.6"/><circle cx="213.3" cy="709.12" r="4.6"/><circle cx="212.92" cy="721.18" r="4.6"/><circle cx="213.08" cy="731.47" r="4.6"/><circle cx="214.06" cy="736.25" r="4.6"/><circle cx="215.48" cy="735.5" r="4.6"/><circle cx="216.93" cy="733.37" r="4.6"/><circle cx="218.01" cy="730.71" r="4.6"/><circle cx="218.42" cy="728.33" r="4.6"/><circle cx="218.63" cy="727.07" r="4.6"/><circle cx="218.76" cy="727.12" r="4.6"/><circle cx="218.88" cy="727.43" r="4.6"/><circle cx="219.01" cy="727.82" r="4.6"/><circle cx="219.19" cy="728.11" r="4.6"/><circle cx="219.49" cy="727.68" r="4.6"/><circle cx="220.08" cy="721.8" r="4.6"/><circle cx="220.92" cy="711.92" r="4.6"/><circle cx="221.88" cy="701.34" r="4.6"/><circle cx="222.87" cy="693.39" r="4.6"/><circle cx="224.12" cy="691.17" r="4.6"/><circle cx="225.57" cy="691.97" r="4.6"/><circle cx="227.03" cy="693.71" r="4.6"/><circle cx="228.3" cy="696.21" r="4.6"/><circle cx="229.18" cy="699.28" r="4.6"/><circle cx="229.88" cy="702.73" r="4.6"/><circle cx="230.55" cy="706.39" r="4.6"/><circle cx="231.15" cy="710.06" r="4.6"/><circle cx="231.66" cy="713.56" r="4.6"/><circle cx="232.04" cy="716.7" r="4.6"/><circle cx="232.26" cy="719.48" r="4.6"/><circle cx="232.31" cy="722.29" r="4.6"/><circle cx="232.31" cy="725.55" r="4.6"/><circle cx="232.31" cy="730.15" r="4.6"/><circle cx="232.31" cy="737.4" r="4.6"/><circle cx="232.31" cy="746.09" r="4.6"/><circle cx="232.36" cy="754.81" r="4.6"/><circle cx="232.5" cy="762.16" r="4.6"/><circle cx="232.72" cy="766.72" r="4.6"/><circle cx="232.95" cy="767.16" r="4.6"/><circle cx="233.17" cy="764" r="4.6"/><circle cx="233.33" cy="759.43" r="4.6"/><circle cx="233.39" cy="755.71" r="4.6"/><circle cx="233.33" cy="754.89" r="4.6"/><circle cx="233.16" cy="756.05" r="4.6"/><circle cx="232.91" cy="757.92" r="4.6"/><circle cx="232.63" cy="759.69" r="4.6"/><circle cx="232.34" cy="760.58" r="4.6"/><circle cx="232.01" cy="758.94" r="4.6"/><circle cx="231.57" cy="754.74" r="4.6"/><circle cx="231.1" cy="750.45" r="4.6"/><circle cx="230.63" cy="748.16" r="4.6"/><circle cx="230.23" cy="746.82" r="4.6"/><circle cx="229.89" cy="745.66" r="4.6"/><circle cx="229.54" cy="744.27" r="4.6"/><circle cx="229.25" cy="742.56" r="4.6"/><circle cx="229.09" cy="740.67" r="4.6"/><circle cx="229.31" cy="738.62" r="4.6"/><circle cx="230.33" cy="736.42" r="4.6"/><circle cx="231.82" cy="734.09" r="4.6"/><circle cx="233.42" cy="731.65" r="4.6"/><circle cx="234.78" cy="729.08" r="4.6"/><circle cx="236.09" cy="726.28" r="4.6"/><circle cx="237.44" cy="723.14" r="4.6"/><circle cx="238.76" cy="719.56" r="4.6"/><circle cx="240" cy="714.63" r="4.6"/><circle cx="241.08" cy="707.62" r="4.6"/><circle cx="241.96" cy="700.05" r="4.6"/><circle cx="242.72" cy="693.44" r="4.6"/><circle cx="243.46" cy="689.33" r="4.6"/><circle cx="244.28" cy="688.18" r="4.6"/><circle cx="245.28" cy="687.65" r="4.6"/><circle cx="246.63" cy="687.12" r="4.6"/><circle cx="248.3" cy="685.99" r="4.6"/><circle cx="250.15" cy="682.08" r="4.6"/><circle cx="252.01" cy="675.94" r="4.6"/><circle cx="253.74" cy="669.08" r="4.6"/><circle cx="255.27" cy="663.02" r="4.6"/><circle cx="256.72" cy="659.27" r="4.6"/><circle cx="258.15" cy="659.32" r="4.6"/><circle cx="259.58" cy="663.53" r="4.6"/><circle cx="261.09" cy="670.64" r="4.6"/><circle cx="262.69" cy="679.28" r="4.6"/><circle cx="264.39" cy="688.08" r="4.6"/><circle cx="266.13" cy="695.68" r="4.6"/><circle cx="267.86" cy="700.99" r="4.6"/><circle cx="269.52" cy="705.94" r="4.6"/><circle cx="271.1" cy="710.55" r="4.6"/><circle cx="272.64" cy="713.99" r="4.6"/><circle cx="274.15" cy="715.44" r="4.6"/><circle cx="275.61" cy="714.17" r="4.6"/><circle cx="277.01" cy="711.29" r="4.6"/><circle cx="278.4" cy="708.88" r="4.6"/><circle cx="280" cy="709.62" r="4.6"/><circle cx="281.53" cy="716.86" r="4.6"/><circle cx="282.65" cy="728.01" r="4.6"/><circle cx="283.03" cy="739.75" r="4.6"/><circle cx="282.57" cy="749.55" r="4.6"/><circle cx="281.63" cy="760.64" r="4.6"/><circle cx="280.58" cy="770.38" r="4.6"/><circle cx="279.78" cy="774.47" r="4.6"/><circle cx="279.32" cy="774.47" r="4.6"/><circle cx="278.96" cy="774.47" r="4.6"/><circle cx="278.63" cy="774.47" r="4.6"/><circle cx="278.24" cy="774.47" r="4.6"/><circle cx="277.71" cy="775.75" r="4.6"/><circle cx="276.81" cy="782.62" r="4.6"/><circle cx="275.42" cy="792.01" r="4.6"/><circle cx="273.75" cy="799.98" r="4.6"/><circle cx="272.01" cy="803.37" r="4.6"/><circle cx="270.41" cy="804.9" r="4.6"/><circle cx="269" cy="806.2" r="4.6"/><circle cx="267.52" cy="808.23" r="4.6"/><circle cx="266.09" cy="813.63" r="4.6"/><circle cx="264.83" cy="821" r="4.6"/><circle cx="263.86" cy="826.1" r="4.6"/><circle cx="263.2" cy="823.05" r="4.6"/><circle cx="262.6" cy="806.75" r="4.6"/><circle cx="262.08" cy="782.71" r="4.6"/><circle cx="261.69" cy="757.11" r="4.6"/><circle cx="261.47" cy="736.17" r="4.6"/><circle cx="261.47" cy="726.06" r="4.6"/><circle cx="261.59" cy="730.43" r="4.6"/><circle cx="261.79" cy="743.76" r="4.6"/><circle cx="262.02" cy="759.48" r="4.6"/><circle cx="262.25" cy="771.07" r="4.6"/><circle cx="262.43" cy="772.73" r="4.6"/><circle cx="262.52" cy="767.46" r="4.6"/><circle cx="262.46" cy="758.99" r="4.6"/><circle cx="262.19" cy="750.12" r="4.6"/><circle cx="261.76" cy="743.66" r="4.6"/><circle cx="261.21" cy="742.09" r="4.6"/><circle cx="260.61" cy="742.41" r="4.6"/><circle cx="259.93" cy="743.1" r="4.6"/><circle cx="258.93" cy="744.1" r="4.6"/><circle cx="257.74" cy="745.35" r="4.6"/><circle cx="256.52" cy="749" r="4.6"/><circle cx="255.43" cy="757.14" r="4.6"/><circle cx="254.6" cy="767.34" r="4.6"/><circle cx="253.88" cy="777.11" r="4.6"/><circle cx="253.22" cy="783.94" r="4.6"/><circle cx="252.62" cy="786.83" r="4.6"/><circle cx="252.06" cy="788.66" r="4.6"/><circle cx="251.56" cy="790.36" r="4.6"/><circle cx="251.1" cy="792.78" r="4.6"/><circle cx="250.68" cy="796.57" r="4.6"/><circle cx="250.28" cy="801.33" r="4.6"/><circle cx="249.89" cy="806.54" r="4.6"/><circle cx="249.47" cy="811.63" r="4.6"/><circle cx="249.06" cy="816.06" r="4.6"/><circle cx="248.65" cy="819.28" r="4.6"/><circle cx="248.23" cy="820.74" r="4.6"/><circle cx="247.8" cy="819.86" r="4.6"/><circle cx="247.36" cy="816.94" r="4.6"/><circle cx="246.92" cy="813.01" r="4.6"/><circle cx="246.47" cy="809.09" r="4.6"/><circle cx="245.99" cy="806.21" r="4.6"/><circle cx="245.45" cy="804.74" r="4.6"/><circle cx="244.73" cy="803.46" r="4.6"/><circle cx="243.71" cy="802.37" r="4.6"/><circle cx="242.71" cy="801.56" r="4.6"/><circle cx="242.09" cy="801.14" r="4.6"/><circle cx="242.15" cy="801.98" r="4.6"/><circle cx="242.82" cy="806.47" r="4.6"/><circle cx="243.84" cy="812.95" r="4.6"/><circle cx="244.97" cy="819.35" r="4.6"/><circle cx="245.96" cy="823.58" r="4.6"/><circle cx="246.62" cy="823.67" r="4.6"/><circle cx="247.11" cy="819.4" r="4.6"/><circle cx="247.53" cy="812.3" r="4.6"/><circle cx="247.91" cy="803.96" r="4.6"/><circle cx="248.31" cy="795.98" r="4.6"/><circle cx="248.77" cy="789.64" r="4.6"/><circle cx="249.34" cy="782.96" r="4.6"/><circle cx="250.14" cy="776.11" r="4.6"/><circle cx="251.34" cy="770.18" r="4.6"/><circle cx="252.77" cy="766.23" r="4.6"/><circle cx="254.24" cy="765.26" r="4.6"/><circle cx="255.55" cy="766.26" r="4.6"/><circle cx="256.55" cy="768.2" r="4.6"/><circle cx="257.35" cy="770.57" r="4.6"/><circle cx="258.05" cy="772.9" r="4.6"/><circle cx="258.7" cy="774.88" r="4.6"/><circle cx="259.39" cy="776.82" r="4.6"/><circle cx="260.18" cy="779.01" r="4.6"/><circle cx="261.14" cy="781.69" r="4.6"/><circle cx="262.43" cy="785.97" r="4.6"/><circle cx="264.22" cy="793.23" r="4.6"/><circle cx="266.31" cy="801.59" r="4.6"/><circle cx="268.47" cy="808.99" r="4.6"/><circle cx="270.46" cy="813.38" r="4.6"/><circle cx="272.17" cy="813.07" r="4.6"/><circle cx="273.86" cy="809.01" r="4.6"/><circle cx="275.49" cy="802.57" r="4.6"/><circle cx="276.97" cy="795.07" r="4.6"/><circle cx="278.2" cy="787.81" r="4.6"/><circle cx="279.15" cy="782.09" r="4.6"/><circle cx="280.06" cy="779.22" r="4.6"/><circle cx="280.92" cy="780.2" r="4.6"/><circle cx="281.69" cy="784.31" r="4.6"/><circle cx="282.33" cy="790.39" r="4.6"/><circle cx="282.79" cy="797.26" r="4.6"/><circle cx="283.01" cy="803.75" r="4.6"/><circle cx="282.94" cy="809.54" r="4.6"/><circle cx="282.52" cy="816.33" r="4.6"/><circle cx="281.85" cy="823.23" r="4.6"/><circle cx="281.03" cy="829.11" r="4.6"/><circle cx="280.17" cy="832.82" r="4.6"/><circle cx="279.33" cy="833.76" r="4.6"/><circle cx="278.25" cy="834.03" r="4.6"/><circle cx="277.05" cy="834.27" r="4.6"/><circle cx="275.86" cy="834.82" r="4.6"/><circle cx="274.85" cy="839.75" r="4.6"/><circle cx="274.13" cy="847.5" r="4.6"/><circle cx="273.53" cy="852.83" r="4.6"/><circle cx="273" cy="851.67" r="4.6"/><circle cx="272.53" cy="845.53" r="4.6"/><circle cx="272.1" cy="836.53" r="4.6"/><circle cx="271.7" cy="826.73" r="4.6"/><circle cx="271.31" cy="818.17" r="4.6"/><circle cx="270.92" cy="812.9" r="4.6"/><circle cx="270.51" cy="810.46" r="4.6"/><circle cx="270.08" cy="808.27" r="4.6"/><circle cx="269.69" cy="806.39" r="4.6"/><circle cx="269.36" cy="804.9" r="4.6"/><circle cx="269.12" cy="803.89" r="4.6"/><circle cx="269.01" cy="803.43" r="4.6"/><circle cx="269.04" cy="805.4" r="4.6"/><circle cx="269.18" cy="812.72" r="4.6"/><circle cx="269.39" cy="823.17" r="4.6"/><circle cx="269.63" cy="834.35" r="4.6"/><circle cx="269.85" cy="843.84" r="4.6"/><circle cx="270.01" cy="849.23" r="4.6"/><circle cx="270.08" cy="847.83" r="4.6"/><circle cx="270.08" cy="838.75" r="4.6"/><circle cx="270.08" cy="825.25" r="4.6"/><circle cx="270.08" cy="810.82" r="4.6"/><circle cx="270.08" cy="798.95" r="4.6"/><circle cx="270.08" cy="793.13" r="4.6"/><circle cx="270.08" cy="797.93" r="4.6"/><circle cx="270.08" cy="812.78" r="4.6"/><circle cx="270.27" cy="830.44" r="4.6"/><circle cx="270.71" cy="843.57" r="4.6"/><circle cx="271.35" cy="845.92" r="4.6"/><circle cx="272.11" cy="842.84" r="4.6"/><circle cx="272.96" cy="837.62" r="4.6"/><circle cx="273.82" cy="831.7" r="4.6"/><circle cx="274.65" cy="826.48" r="4.6"/><circle cx="275.64" cy="823.4" r="4.6"/><circle cx="276.8" cy="823.92" r="4.6"/><circle cx="278.05" cy="828.39" r="4.6"/><circle cx="279.3" cy="835.47" r="4.6"/><circle cx="280.48" cy="843.72" r="4.6"/><circle cx="281.51" cy="851.71" r="4.6"/><circle cx="282.35" cy="858" r="4.6"/><circle cx="283.21" cy="861.15" r="4.6"/><circle cx="284.02" cy="861.14" r="4.6"/><circle cx="284.69" cy="860.64" r="4.6"/><circle cx="285.11" cy="859.98" r="4.6"/><circle cx="285.18" cy="859.37" r="4.6"/><circle cx="285.07" cy="859" r="4.6"/><circle cx="284.86" cy="859.14" r="4.6"/><circle cx="284.59" cy="859.98" r="4.6"/><circle cx="284.31" cy="861.36" r="4.6"/><circle cx="284.05" cy="863.05" r="4.6"/><circle cx="283.75" cy="864.88" r="4.6"/><circle cx="283.41" cy="866.62" r="4.6"/><circle cx="283.06" cy="868.09" r="4.6"/><circle cx="282.7" cy="869.07" r="4.6"/><circle cx="282.37" cy="869.35" r="4.6"/><circle cx="282.09" cy="866.45" r="4.6"/><circle cx="281.86" cy="860.75" r="4.6"/><circle cx="281.64" cy="854.79" r="4.6"/><circle cx="281.43" cy="851.13" r="4.6"/><circle cx="281.23" cy="852.1" r="4.6"/><circle cx="281.06" cy="857.58" r="4.6"/><circle cx="280.94" cy="865.92" r="4.6"/><circle cx="280.88" cy="875.47" r="4.6"/><circle cx="280.94" cy="884.57" r="4.6"/><circle cx="281.32" cy="891.54" r="4.6"/><circle cx="282.01" cy="894.73" r="4.6"/><circle cx="282.97" cy="892.03" r="4.6"/><circle cx="284.14" cy="884.12" r="4.6"/><circle cx="285.5" cy="874.58" r="4.6"/><circle cx="286.99" cy="867.01" r="4.6"/><circle cx="289.08" cy="862.98" r="4.6"/><circle cx="292.61" cy="859.55" r="4.6"/><circle cx="296.97" cy="856.62" r="4.6"/><circle cx="301.51" cy="854.25" r="4.6"/><circle cx="305.58" cy="852.48" r="4.6"/><circle cx="308.85" cy="851.25" r="4.6"/><circle cx="312" cy="850.16" r="4.6"/><circle cx="314.98" cy="849.27" r="4.6"/><circle cx="317.67" cy="848.7" r="4.6"/><circle cx="319.93" cy="848.65" r="4.6"/><circle cx="321.64" cy="851.31" r="4.6"/><circle cx="322.87" cy="856.49" r="4.6"/><circle cx="323.87" cy="862.69" r="4.6"/><circle cx="324.91" cy="868.41" r="4.6"/><circle cx="326.25" cy="872.17" r="4.6"/><circle cx="328.31" cy="872.5" r="4.6"/><circle cx="332.32" cy="869.21" r="4.6"/><circle cx="337.86" cy="863.71" r="4.6"/><circle cx="344.15" cy="857.49" r="4.6"/><circle cx="350.42" cy="852.04" r="4.6"/><circle cx="355.87" cy="848.85" r="4.6"/><circle cx="359.74" cy="849.71" r="4.6"/><circle cx="361.73" cy="855.19" r="4.6"/><circle cx="363.41" cy="862.49" r="4.6"/><circle cx="364.91" cy="868.58" r="4.6"/><circle cx="366.2" cy="870.48" r="4.6"/><circle cx="367.21" cy="868.3" r="4.6"/><circle cx="367.9" cy="864.32" r="4.6"/><circle cx="368.21" cy="860.28" r="4.6"/><circle cx="368.07" cy="857.93" r="4.6"/><circle cx="367.48" cy="859.18" r="4.6"/><circle cx="366.56" cy="863.99" r="4.6"/><circle cx="365.46" cy="869.9" r="4.6"/><circle cx="364.3" cy="874.4" r="4.6"/><circle cx="363.08" cy="875.94" r="4.6"/><circle cx="361.5" cy="876.72" r="4.6"/><circle cx="359.66" cy="877.33" r="4.6"/><circle cx="357.69" cy="878.14" r="4.6"/><circle cx="355.71" cy="879.69" r="4.6"/><circle cx="353.86" cy="882.75" r="4.6"/><circle cx="352.26" cy="886.8" r="4.6"/><circle cx="350.9" cy="891.18" r="4.6"/><circle cx="349.54" cy="895.25" r="4.6"/><circle cx="348.2" cy="898.33" r="4.6"/><circle cx="346.89" cy="899.91" r="4.6"/><circle cx="345.62" cy="900.86" r="4.6"/><circle cx="344.42" cy="901.59" r="4.6"/><circle cx="343.29" cy="902.3" r="4.6"/><circle cx="342.24" cy="903.2" r="4.6"/><circle cx="341.29" cy="904.47" r="4.6"/><circle cx="340.46" cy="905.84" r="4.6"/><circle cx="339.76" cy="906.97" r="4.6"/><circle cx="339.2" cy="907.5" r="4.6"/><circle cx="338.73" cy="907.05" r="4.6"/><circle cx="338.28" cy="905.73" r="4.6"/><circle cx="337.87" cy="904.07" r="4.6"/><circle cx="337.51" cy="902.57" r="4.6"/><circle cx="337.23" cy="901.76" r="4.6"/><circle cx="337.05" cy="902.28" r="4.6"/><circle cx="336.99" cy="904.27" r="4.6"/><circle cx="337.44" cy="906.92" r="4.6"/><circle cx="338.56" cy="909.39" r="4.6"/><circle cx="340.17" cy="910.86" r="4.6"/><circle cx="342.1" cy="910.03" r="4.6"/><circle cx="344.19" cy="905.38" r="4.6"/><circle cx="346.25" cy="897.96" r="4.6"/><circle cx="348.14" cy="888.97" r="4.6"/><circle cx="350.1" cy="879.61" r="4.6"/><circle cx="352.2" cy="865.8" r="4.6"/><circle cx="354.34" cy="846.78" r="4.6"/><circle cx="356.43" cy="827.19" r="4.6"/><circle cx="358.51" cy="811.68" r="4.6"/><circle cx="360.87" cy="804.88" r="4.6"/><circle cx="363.21" cy="810.27" r="4.6"/><circle cx="365.22" cy="825.08" r="4.6"/><circle cx="366.57" cy="844.44" r="4.6"/><circle cx="367.06" cy="863.48" r="4.6"/><circle cx="367.3" cy="877.33" r="4.6"/><circle cx="367.48" cy="885.01" r="4.6"/><circle cx="367.63" cy="891.88" r="4.6"/><circle cx="367.81" cy="898.02" r="4.6"/><circle cx="368.09" cy="903.35" r="4.6"/><circle cx="368.56" cy="907.79" r="4.6"/><circle cx="369.13" cy="911.24" r="4.6"/><circle cx="369.66" cy="913.61" r="4.6"/><circle cx="370.03" cy="915.1" r="4.6"/><circle cx="370.12" cy="916.12" r="4.6"/><circle cx="370.12" cy="916.96" r="4.6"/><circle cx="370.12" cy="917.9" r="4.6"/><circle cx="370.12" cy="919.21" r="4.6"/><circle cx="370.12" cy="921.76" r="4.6"/><circle cx="370.1" cy="925.8" r="4.6"/><circle cx="369.55" cy="929.94" r="4.6"/><circle cx="368.45" cy="932.8" r="4.6"/><circle cx="367.2" cy="933" r="4.6"/><circle cx="366.19" cy="930.24" r="4.6"/><circle cx="365.8" cy="925.78" r="4.6"/><circle cx="366.03" cy="920.99" r="4.6"/><circle cx="366.59" cy="917.03" r="4.6"/><circle cx="367.35" cy="912.86" r="4.6"/><circle cx="368.19" cy="909.01" r="4.6"/><circle cx="368.99" cy="906.76" r="4.6"/><circle cx="369.82" cy="905.97" r="4.6"/><circle cx="370.8" cy="905.33" r="4.6"/><circle cx="371.8" cy="904.84" r="4.6"/><circle cx="372.67" cy="904.52" r="4.6"/><circle cx="373.28" cy="904.39" r="4.6"/><circle cx="373.61" cy="905.38" r="4.6"/><circle cx="373.86" cy="908.7" r="4.6"/><circle cx="374.04" cy="913.24" r="4.6"/><circle cx="374.21" cy="917.89" r="4.6"/><circle cx="374.38" cy="921.49" r="4.6"/><circle cx="374.58" cy="922.9" r="4.6"/><circle cx="374.86" cy="922.57" r="4.6"/><circle cx="375.34" cy="921.74" r="4.6"/><circle cx="376.04" cy="920.65" r="4.6"/><circle cx="376.78" cy="919.56" r="4.6"/><circle cx="377.38" cy="918.69" r="4.6"/><circle cx="377.67" cy="918.28" r="4.6"/><circle cx="377.44" cy="919.1" r="4.6"/><circle cx="376.7" cy="921.68" r="4.6"/><circle cx="375.67" cy="925.34" r="4.6"/><circle cx="374.56" cy="929.39" r="4.6"/><circle cx="373.56" cy="933.11" r="4.6"/><circle cx="372.72" cy="935.81" r="4.6"/><circle cx="371.77" cy="936.79" r="4.6"/><circle cx="370.86" cy="935.99" r="4.6"/><circle cx="370.12" cy="933.89" r="4.6"/><circle cx="369.72" cy="930.75" r="4.6"/><circle cx="369.89" cy="926.81" r="4.6"/><circle cx="370.89" cy="922.3" r="4.6"/><circle cx="372.43" cy="917.48" r="4.6"/><circle cx="374.21" cy="912.48" r="4.6"/><circle cx="375.9" cy="904.75" r="4.6"/><circle cx="377.23" cy="894.15" r="4.6"/><circle cx="378.34" cy="882.07" r="4.6"/><circle cx="379.54" cy="869.9" r="4.6"/><circle cx="381.09" cy="859.03" r="4.6"/><circle cx="383.58" cy="850.85" r="4.6"/><circle cx="386.75" cy="846.74" r="4.6"/><circle cx="389.83" cy="848.76" r="4.6"/><circle cx="392.4" cy="857.35" r="4.6"/><circle cx="394.9" cy="868.46" r="4.6"/><circle cx="397.04" cy="877.88" r="4.6"/><circle cx="398.54" cy="881.75" r="4.6"/><circle cx="399.76" cy="883.37" r="4.6"/><circle cx="400.82" cy="884.64" r="4.6"/><circle cx="401.62" cy="885.5" r="4.6"/><circle cx="402.04" cy="885.86" r="4.6"/>
</g>
<rect x="324.2" y="593.5" width="21.69999999999999" height="451.79999999999995" fill="#808080" fill-opacity="0.2"/>
<line x1="333.9" y1="593.5" x2="333.9" y2="1045.3" stroke="#000" stroke-width="2.08" stroke-dasharray="7.7 3.4" stroke-dashoffset="-2"/>
<polyline fill="none" stroke="#a52a2a" stroke-width="2.08" stroke-dasharray="13.3 3.33 2.08 3.33" points="131.1,612.9 334.5,867.4 743.8,1024.6"/>
</g>
<defs><clipPath id="ca4"><rect x="903.5" y="593.5" width="674.0" height="451.79999999999995"/></clipPath></defs>
<g clip-path="url(#ca4)">
<g fill="#1f77b4">
<circle cx="1352.11" cy="946.45" r="4.6"/><circle cx="1350.61" cy="939.1" r="4.6"/><circle cx="1350.12" cy="933.64" r="4.6"/><circle cx="1349.85" cy="930.04" r="4.6"/><circle cx="1349.69" cy="928.27" r="4.6"/><circle cx="1349.62" cy="928.7" r="4.6"/><circle cx="1349.52" cy="932.84" r="4.6"/><circle cx="1349.25" cy="939.27" r="4.6"/><circle cx="1348.27" cy="946.14" r="4.6"/><circle cx="1345.59" cy="951.6" r="4.6"/><circle cx="1338.47" cy="954.16" r="4.6"/><circle cx="1330.92" cy="955.89" r="4.6"/><circle cx="1325.12" cy="957.43" r="4.6"/><circle cx="1323.96" cy="958.74" r="4.6"/><circle cx="1323.3" cy="959.78" r="4.6"/><circle cx="1322.73" cy="960.51" r="4.6"/><circle cx="1322.32" cy="960.88" r="4.6"/><circle cx="1321.74" cy="960.79" r="4.6"/><circle cx="1320.42" cy="960.12" r="4.6"/><circle cx="1318.27" cy="959.15" r="4.6"/><circle cx="1316.07" cy="958.19" r="4.6"/><circle cx="1313.67" cy="957.54" r="4.6"/><circle cx="1311.61" cy="957.51" r="4.6"/><circle cx="1309.92" cy="957.97" r="4.6"/><circle cx="1308.42" cy="958.52" r="4.6"/><circle cx="1307.16" cy="958.77" r="4.6"/><circle cx="1306.14" cy="957.28" r="4.6"/><circle cx="1305.17" cy="953.63" r="4.6"/><circle cx="1304.52" cy="948.63" r="4.6"/><circle cx="1304.63" cy="943.07" r="4.6"/><circle cx="1305.88" cy="937.75" r="4.6"/><circle cx="1307.38" cy="933.47" r="4.6"/><circle cx="1308.11" cy="931.02" r="4.6"/><circle cx="1307.57" cy="930.99" r="4.6"/><circle cx="1306.35" cy="932.63" r="4.6"/><circle cx="1304.51" cy="935.37" r="4.6"/><circle cx="1301.77" cy="938.74" r="4.6"/><circle cx="1300.38" cy="942.29" r="4.6"/><circle cx="1299.84" cy="945.55" r="4.6"/><circle cx="1299.45" cy="948.06" r="4.6"/><circle cx="1298.98" cy="949.35" r="4.6"/><circle cx="1298.43" cy="948.88" r="4.6"/><circle cx="1297.88" cy="946.67" r="4.6"/><circle cx="1297.39" cy="943.64" r="4.6"/><circle cx="1297.02" cy="940.75" r="4.6"/><circle cx="1296.75" cy="938.94" r="4.6"/><circle cx="1296.51" cy="939.22" r="4.6"/><circle cx="1296.21" cy="941.79" r="4.6"/><circle cx="1295.78" cy="945.52" r="4.6"/><circle cx="1294.99" cy="949.22" r="4.6"/><circle cx="1293.71" cy="951.69" r="4.6"/><circle cx="1291.97" cy="951.85" r="4.6"/><circle cx="1289.31" cy="949.97" r="4.6"/><circle cx="1284.67" cy="947.04" r="4.6"/><circle cx="1281.12" cy="944.03" r="4.6"/><circle cx="1278.13" cy="941.89" r="4.6"/><circle cx="1275.36" cy="941.43" r="4.6"/><circle cx="1272.62" cy="941.64" r="4.6"/><circle cx="1269.71" cy="942" r="4.6"/><circle cx="1266.69" cy="942.38" r="4.6"/><circle cx="1263.83" cy="942.67" r="4.6"/><circle cx="1261.36" cy="942.73" r="4.6"/><circle cx="1258.9" cy="942.29" r="4.6"/><circle cx="1256.71" cy="941.44" r="4.6"/><circle cx="1255.46" cy="940.42" r="4.6"/><circle cx="1255.2" cy="939.48" r="4.6"/><circle cx="1255.01" cy="938.86" r="4.6"/><circle cx="1254.87" cy="938.88" r="4.6"/><circle cx="1254.78" cy="940.14" r="4.6"/><circle cx="1254.74" cy="942.36" r="4.6"/><circle cx="1254.84" cy="945.04" r="4.6"/><circle cx="1255.23" cy="947.72" r="4.6"/><circle cx="1255.69" cy="949.93" r="4.6"/><circle cx="1256" cy="951.17" r="4.6"/><circle cx="1255.9" cy="951.04" r="4.6"/><circle cx="1255.21" cy="949.66" r="4.6"/><circle cx="1254.16" cy="947.47" r="4.6"/><circle cx="1253.01" cy="944.93" r="4.6"/><circle cx="1251.3" cy="942.46" r="4.6"/><circle cx="1249.27" cy="940.53" r="4.6"/><circle cx="1247.64" cy="939.58" r="4.6"/><circle cx="1246.73" cy="939.97" r="4.6"/><circle cx="1246.01" cy="941.25" r="4.6"/><circle cx="1245.42" cy="942.46" r="4.6"/><circle cx="1244.91" cy="942.42" r="4.6"/><circle cx="1244.44" cy="938.78" r="4.6"/><circle cx="1244.08" cy="932.6" r="4.6"/><circle cx="1243.78" cy="925.73" r="4.6"/><circle cx="1243.5" cy="920.04" r="4.6"/><circle cx="1243.16" cy="917.4" r="4.6"/><circle cx="1242.7" cy="919.45" r="4.6"/><circle cx="1241.96" cy="925.13" r="4.6"/><circle cx="1240.51" cy="932.01" r="4.6"/><circle cx="1238.61" cy="937.61" r="4.6"/><circle cx="1236.57" cy="939.51" r="4.6"/><circle cx="1234.72" cy="937.08" r="4.6"/><circle cx="1233.05" cy="932.05" r="4.6"/><circle cx="1231.39" cy="926.04" r="4.6"/><circle cx="1229.73" cy="920.69" r="4.6"/><circle cx="1228.03" cy="917.61" r="4.6"/><circle cx="1226.28" cy="918.14" r="4.6"/><circle cx="1224.42" cy="921.26" r="4.6"/><circle cx="1222.46" cy="925.09" r="4.6"/><circle cx="1220.48" cy="927.75" r="4.6"/><circle cx="1218.55" cy="927.32" r="4.6"/><circle cx="1216.76" cy="923.22" r="4.6"/><circle cx="1215.16" cy="916.86" r="4.6"/><circle cx="1213.69" cy="909.76" r="4.6"/><circle cx="1212.28" cy="903.43" r="4.6"/><circle cx="1210.86" cy="899.38" r="4.6"/><circle cx="1209.38" cy="898.77" r="4.6"/><circle cx="1207.79" cy="899.64" r="4.6"/><circle cx="1206.16" cy="901.21" r="4.6"/><circle cx="1204.49" cy="903.28" r="4.6"/><circle cx="1202.77" cy="905.61" r="4.6"/><circle cx="1201.01" cy="907.98" r="4.6"/><circle cx="1199.15" cy="910.16" r="4.6"/><circle cx="1197.1" cy="911.93" r="4.6"/><circle cx="1195.14" cy="913.07" r="4.6"/><circle cx="1193.59" cy="913.35" r="4.6"/><circle cx="1192.39" cy="912.74" r="4.6"/><circle cx="1191.37" cy="911.44" r="4.6"/><circle cx="1190.42" cy="909.62" r="4.6"/><circle cx="1189.45" cy="907.45" r="4.6"/><circle cx="1188.37" cy="905.12" r="4.6"/><circle cx="1187" cy="902.81" r="4.6"/><circle cx="1185.55" cy="900.7" r="4.6"/><circle cx="1184.4" cy="898.97" r="4.6"/><circle cx="1183.79" cy="897.79" r="4.6"/><circle cx="1183.41" cy="897.34" r="4.6"/><circle cx="1183.04" cy="897.89" r="4.6"/><circle cx="1182.45" cy="899.01" r="4.6"/><circle cx="1181.39" cy="899.91" r="4.6"/><circle cx="1179.96" cy="899.3" r="4.6"/><circle cx="1178.35" cy="895.29" r="4.6"/><circle cx="1176.74" cy="888.88" r="4.6"/><circle cx="1175.31" cy="881.39" r="4.6"/><circle cx="1173.99" cy="874.11" r="4.6"/><circle cx="1172.69" cy="868.35" r="4.6"/><circle cx="1171.41" cy="865.43" r="4.6"/><circle cx="1170.18" cy="865.38" r="4.6"/><circle cx="1169" cy="865.73" r="4.6"/><circle cx="1167.81" cy="866.27" r="4.6"/><circle cx="1166.6" cy="866.94" r="4.6"/><circle cx="1165.46" cy="867.64" r="4.6"/><circle cx="1164.47" cy="868.3" r="4.6"/><circle cx="1163.7" cy="868.85" r="4.6"/><circle cx="1163.16" cy="869.21" r="4.6"/><circle cx="1162.73" cy="869.27" r="4.6"/><circle cx="1162.36" cy="868.52" r="4.6"/><circle cx="1161.99" cy="867.38" r="4.6"/><circle cx="1161.59" cy="866.65" r="4.6"/><circle cx="1161.12" cy="867.4" r="4.6"/><circle cx="1160.63" cy="869.55" r="4.6"/><circle cx="1160.12" cy="871.54" r="4.6"/><circle cx="1159.6" cy="871.85" r="4.6"/><circle cx="1159.07" cy="870.63" r="4.6"/><circle cx="1158.54" cy="868.37" r="4.6"/><circle cx="1157.97" cy="865.43" r="4.6"/><circle cx="1157.4" cy="862.19" r="4.6"/><circle cx="1156.84" cy="858.99" r="4.6"/><circle cx="1156.31" cy="856.2" r="4.6"/><circle cx="1155.83" cy="854.18" r="4.6"/><circle cx="1155.35" cy="853.29" r="4.6"/><circle cx="1154.89" cy="854.88" r="4.6"/><circle cx="1154.47" cy="859.91" r="4.6"/><circle cx="1154.11" cy="867.04" r="4.6"/><circle cx="1153.82" cy="874.92" r="4.6"/><circle cx="1153.53" cy="882.17" r="4.6"/><circle cx="1153.26" cy="887.43" r="4.6"/><circle cx="1153.04" cy="889.32" r="4.6"/><circle cx="1152.9" cy="886.32" r="4.6"/><circle cx="1152.92" cy="880.68" r="4.6"/><circle cx="1153.52" cy="876.41" r="4.6"/><circle cx="1154.63" cy="877.01" r="4.6"/><circle cx="1155.99" cy="881.72" r="4.6"/><circle cx="1157.36" cy="887.93" r="4.6"/><circle cx="1158.5" cy="893.07" r="4.6"/><circle cx="1159.69" cy="894.6" r="4.6"/><circle cx="1160.98" cy="892.46" r="4.6"/><circle cx="1162.14" cy="888.75" r="4.6"/><circle cx="1162.96" cy="885.31" r="4.6"/><circle cx="1163.23" cy="884" r="4.6"/><circle cx="1163.13" cy="885.26" r="4.6"/><circle cx="1162.87" cy="887.91" r="4.6"/><circle cx="1162.49" cy="891" r="4.6"/><circle cx="1162.03" cy="893.58" r="4.6"/><circle cx="1161.51" cy="894.67" r="4.6"/><circle cx="1160.79" cy="892.73" r="4.6"/><circle cx="1159.72" cy="887.8" r="4.6"/><circle cx="1158.38" cy="881.44" r="4.6"/><circle cx="1156.86" cy="875.21" r="4.6"/><circle cx="1155.25" cy="870.67" r="4.6"/><circle cx="1153.51" cy="869.34" r="4.6"/><circle cx="1151.5" cy="870.71" r="4.6"/><circle cx="1149.23" cy="873.22" r="4.6"/><circle cx="1146.7" cy="875.76" r="4.6"/><circle cx="1143.9" cy="877.24" r="4.6"/><circle cx="1140.31" cy="875.89" r="4.6"/><circle cx="1136.62" cy="870.52" r="4.6"/><circle cx="1133.98" cy="862.89" r="4.6"/><circle cx="1131.54" cy="854.85" r="4.6"/><circle cx="1129.46" cy="848.28" r="4.6"/><circle cx="1127.91" cy="844.09" r="4.6"/><circle cx="1127.07" cy="840.12" r="4.6"/><circle cx="1126.76" cy="836.52" r="4.6"/><circle cx="1126.57" cy="833.71" r="4.6"/><circle cx="1126.43" cy="832.12" r="4.6"/><circle cx="1126.27" cy="832.26" r="4.6"/><circle cx="1126.02" cy="834.44" r="4.6"/><circle cx="1125.4" cy="837.53" r="4.6"/><circle cx="1124.11" cy="840.22" r="4.6"/><circle cx="1122.43" cy="841.24" r="4.6"/><circle cx="1120.63" cy="839.48" r="4.6"/><circle cx="1118.99" cy="835.54" r="4.6"/><circle cx="1117.8" cy="830.58" r="4.6"/><circle cx="1117.33" cy="825.77" r="4.6"/><circle cx="1117.46" cy="822.28" r="4.6"/><circle cx="1117.83" cy="821.12" r="4.6"/><circle cx="1118.37" cy="820.78" r="4.6"/><circle cx="1118.98" cy="820.49" r="4.6"/><circle cx="1119.62" cy="820.26" r="4.6"/><circle cx="1120.19" cy="820.08" r="4.6"/><circle cx="1120.63" cy="819.96" r="4.6"/><circle cx="1121.04" cy="819.9" r="4.6"/><circle cx="1121.46" cy="820.39" r="4.6"/><circle cx="1121.87" cy="824.25" r="4.6"/><circle cx="1122.23" cy="829.94" r="4.6"/><circle cx="1122.52" cy="835.07" r="4.6"/><circle cx="1122.69" cy="837.25" r="4.6"/><circle cx="1122.68" cy="836.05" r="4.6"/><circle cx="1122.19" cy="833.16" r="4.6"/><circle cx="1121.3" cy="829.46" r="4.6"/><circle cx="1120.25" cy="825.87" r="4.6"/><circle cx="1119.24" cy="823.29" r="4.6"/><circle cx="1118.14" cy="822.59" r="4.6"/><circle cx="1116.89" cy="823.32" r="4.6"/><circle cx="1115.57" cy="824.74" r="4.6"/><circle cx="1114.24" cy="826.44" r="4.6"/><circle cx="1112.97" cy="828.02" r="4.6"/><circle cx="1111.82" cy="829.05" r="4.6"/><circle cx="1110.8" cy="828.55" r="4.6"/><circle cx="1109.84" cy="822.3" r="4.6"/><circle cx="1108.93" cy="812.04" r="4.6"/><circle cx="1108.03" cy="800.83" r="4.6"/><circle cx="1107.12" cy="791.74" r="4.6"/><circle cx="1106.17" cy="787.84" r="4.6"/><circle cx="1105.16" cy="789.34" r="4.6"/><circle cx="1104.05" cy="792.86" r="4.6"/><circle cx="1102.86" cy="796.53" r="4.6"/><circle cx="1101.65" cy="798.49" r="4.6"/><circle cx="1100.46" cy="798.17" r="4.6"/><circle cx="1099.35" cy="797.06" r="4.6"/><circle cx="1098.37" cy="795.49" r="4.6"/><circle cx="1097.54" cy="793.76" r="4.6"/><circle cx="1096.75" cy="792.18" r="4.6"/><circle cx="1096.02" cy="790.81" r="4.6"/><circle cx="1095.38" cy="789.27" r="4.6"/><circle cx="1094.89" cy="787.62" r="4.6"/><circle cx="1094.58" cy="785.96" r="4.6"/><circle cx="1094.38" cy="784.41" r="4.6"/><circle cx="1094.24" cy="783.05" r="4.6"/><circle cx="1094.12" cy="781.99" r="4.6"/><circle cx="1094" cy="781.33" r="4.6"/><circle cx="1093.87" cy="781.17" r="4.6"/><circle cx="1093.69" cy="781.47" r="4.6"/><circle cx="1093.43" cy="782.1" r="4.6"/><circle cx="1092.94" cy="783.7" r="4.6"/><circle cx="1092.29" cy="789.5" r="4.6"/><circle cx="1091.54" cy="796.97" r="4.6"/><circle cx="1090.76" cy="802.69" r="4.6"/><circle cx="1090.03" cy="803.4" r="4.6"/><circle cx="1089.42" cy="798.96" r="4.6"/><circle cx="1089" cy="791.75" r="4.6"/><circle cx="1088.84" cy="784.16" r="4.6"/><circle cx="1089.04" cy="778.58" r="4.6"/><circle cx="1089.59" cy="777.3" r="4.6"/><circle cx="1090.33" cy="779.83" r="4.6"/><circle cx="1091.13" cy="784.89" r="4.6"/><circle cx="1091.85" cy="791.66" r="4.6"/><circle cx="1092.36" cy="799.32" r="4.6"/><circle cx="1092.5" cy="807.04" r="4.6"/><circle cx="1092.43" cy="813.99" r="4.6"/><circle cx="1092.26" cy="819.35" r="4.6"/><circle cx="1092.02" cy="822.3" r="4.6"/><circle cx="1091.74" cy="823.01" r="4.6"/><circle cx="1091.45" cy="823.54" r="4.6"/><circle cx="1091.16" cy="823.99" r="4.6"/><circle cx="1090.91" cy="824.33" r="4.6"/><circle cx="1090.6" cy="824.57" r="4.6"/><circle cx="1090.27" cy="824.69" r="4.6"/><circle cx="1089.97" cy="824.63" r="4.6"/><circle cx="1089.76" cy="824.28" r="4.6"/><circle cx="1089.72" cy="823.69" r="4.6"/><circle cx="1090.1" cy="822.95" r="4.6"/><circle cx="1090.82" cy="821.9" r="4.6"/><circle cx="1091.63" cy="819.57" r="4.6"/><circle cx="1092.28" cy="816.55" r="4.6"/><circle cx="1092.5" cy="813.66" r="4.6"/><circle cx="1092.19" cy="811.72" r="4.6"/><circle cx="1091.49" cy="811.35" r="4.6"/><circle cx="1090.64" cy="811.4" r="4.6"/><circle cx="1089.83" cy="811.5" r="4.6"/><circle cx="1089.27" cy="811.66" r="4.6"/><circle cx="1088.98" cy="811.87" r="4.6"/><circle cx="1088.76" cy="813.3" r="4.6"/><circle cx="1088.56" cy="816.58" r="4.6"/><circle cx="1088.33" cy="820.61" r="4.6"/><circle cx="1088.04" cy="824.85" r="4.6"/><circle cx="1087.72" cy="830.87" r="4.6"/><circle cx="1087.36" cy="836.41" r="4.6"/><circle cx="1086.93" cy="838.58" r="4.6"/><circle cx="1086.41" cy="838.16" r="4.6"/><circle cx="1085.74" cy="837.12" r="4.6"/><circle cx="1084.62" cy="835.63" r="4.6"/><circle cx="1083.13" cy="833.86" r="4.6"/><circle cx="1081.43" cy="831.97" r="4.6"/><circle cx="1079.69" cy="829.78" r="4.6"/><circle cx="1078.05" cy="826.98" r="4.6"/><circle cx="1076.33" cy="823.63" r="4.6"/><circle cx="1074.51" cy="819.78" r="4.6"/><circle cx="1072.72" cy="815.48" r="4.6"/><circle cx="1071.06" cy="810.79" r="4.6"/><circle cx="1069.65" cy="805.74" r="4.6"/><circle cx="1068.41" cy="799.15" r="4.6"/><circle cx="1067.27" cy="791" r="4.6"/><circle cx="1066.22" cy="782.2" r="4.6"/><circle cx="1065.27" cy="773.65" r="4.6"/><circle cx="1064.42" cy="766.25" r="4.6"/><circle cx="1063.59" cy="758.98" r="4.6"/><circle cx="1062.73" cy="751.43" r="4.6"/><circle cx="1061.9" cy="745.1" r="4.6"/><circle cx="1061.17" cy="741.47" r="4.6"/><circle cx="1060.59" cy="741.48" r="4.6"/><circle cx="1060.23" cy="743.58" r="4.6"/><circle cx="1060.13" cy="747.06" r="4.6"/><circle cx="1060.21" cy="751.4" r="4.6"/><circle cx="1060.39" cy="756.08" r="4.6"/><circle cx="1060.63" cy="761.18" r="4.6"/><circle cx="1060.92" cy="769.15" r="4.6"/><circle cx="1061.24" cy="777.73" r="4.6"/><circle cx="1061.8" cy="783.89" r="4.6"/><circle cx="1062.62" cy="785.17" r="4.6"/><circle cx="1063.48" cy="785.17" r="4.6"/><circle cx="1064.16" cy="785.17" r="4.6"/><circle cx="1064.45" cy="785.17" r="4.6"/><circle cx="1064.45" cy="786.74" r="4.6"/><circle cx="1064.45" cy="790.11" r="4.6"/><circle cx="1064.45" cy="792.82" r="4.6"/><circle cx="1064.45" cy="792.75" r="4.6"/><circle cx="1064.45" cy="790.18" r="4.6"/><circle cx="1064.3" cy="785.88" r="4.6"/><circle cx="1063.82" cy="780.5" r="4.6"/><circle cx="1063.11" cy="774.75" r="4.6"/><circle cx="1062.28" cy="769.27" r="4.6"/><circle cx="1061.43" cy="764.76" r="4.6"/><circle cx="1060.55" cy="761.24" r="4.6"/><circle cx="1059.45" cy="757.56" r="4.6"/><circle cx="1058.2" cy="753.91" r="4.6"/><circle cx="1056.9" cy="750.56" r="4.6"/><circle cx="1055.66" cy="747.8" r="4.6"/><circle cx="1054.56" cy="745.89" r="4.6"/><circle cx="1053.71" cy="745.11" r="4.6"/><circle cx="1053.09" cy="745.23" r="4.6"/><circle cx="1052.56" cy="745.62" r="4.6"/><circle cx="1052.09" cy="746.19" r="4.6"/><circle cx="1051.67" cy="746.9" r="4.6"/><circle cx="1051.26" cy="747.68" r="4.6"/><circle cx="1050.83" cy="748.45" r="4.6"/><circle cx="1050.38" cy="749.17" r="4.6"/><circle cx="1049.92" cy="749.99" r="4.6"/><circle cx="1049.46" cy="750.98" r="4.6"/><circle cx="1049.01" cy="752.02" r="4.6"/><circle cx="1048.55" cy="753.01" r="4.6"/><circle cx="1048.07" cy="753.81" r="4.6"/><circle cx="1047.57" cy="754.33" r="4.6"/><circle cx="1047.04" cy="754.22" r="4.6"/><circle cx="1046.48" cy="749.94" r="4.6"/><circle cx="1045.9" cy="742.27" r="4.6"/><circle cx="1045.27" cy="733.82" r="4.6"/><circle cx="1044.59" cy="727.24" r="4.6"/><circle cx="1043.82" cy="725.13" r="4.6"/><circle cx="1042.92" cy="727.83" r="4.6"/><circle cx="1041.88" cy="733.22" r="4.6"/><circle cx="1040.75" cy="739.4" r="4.6"/><circle cx="1039.56" cy="744.44" r="4.6"/><circle cx="1038.35" cy="746.44" r="4.6"/><circle cx="1037.17" cy="741.49" r="4.6"/><circle cx="1036.04" cy="730.16" r="4.6"/><circle cx="1034.92" cy="716.64" r="4.6"/><circle cx="1033.78" cy="705.1" r="4.6"/><circle cx="1032.65" cy="699.74" r="4.6"/><circle cx="1031.52" cy="699.93" r="4.6"/><circle cx="1030.42" cy="700.54" r="4.6"/><circle cx="1029.35" cy="701.32" r="4.6"/><circle cx="1028.32" cy="702" r="4.6"/><circle cx="1027.25" cy="702.36" r="4.6"/><circle cx="1026.17" cy="702.31" r="4.6"/><circle cx="1025.12" cy="702.08" r="4.6"/><circle cx="1024.14" cy="701.7" r="4.6"/><circle cx="1023.27" cy="701.2" r="4.6"/><circle cx="1022.55" cy="699.89" r="4.6"/><circle cx="1021.99" cy="696.29" r="4.6"/><circle cx="1021.49" cy="691.5" r="4.6"/><circle cx="1021.05" cy="686.78" r="4.6"/><circle cx="1020.67" cy="683.36" r="4.6"/><circle cx="1020.34" cy="682.47" r="4.6"/><circle cx="1020.05" cy="683.66" r="4.6"/><circle cx="1019.76" cy="685.93" r="4.6"/><circle cx="1019.49" cy="688.63" r="4.6"/><circle cx="1019.27" cy="691.12" r="4.6"/><circle cx="1019.15" cy="692.74" r="4.6"/><circle cx="1019.18" cy="692.9" r="4.6"/><circle cx="1019.66" cy="692" r="4.6"/><circle cx="1020.51" cy="690.88" r="4.6"/><circle cx="1021.58" cy="690.36" r="4.6"/><circle cx="1022.71" cy="693.11" r="4.6"/><circle cx="1023.79" cy="699.13" r="4.6"/><circle cx="1025.15" cy="705.65" r="4.6"/><circle cx="1026.72" cy="709.92" r="4.6"/><circle cx="1028.22" cy="710" r="4.6"/><circle cx="1029.39" cy="708.13" r="4.6"/><circle cx="1029.99" cy="705.73" r="4.6"/><circle cx="1030.24" cy="703.98" r="4.6"/><circle cx="1030.39" cy="704.82" r="4.6"/><circle cx="1030.53" cy="712.3" r="4.6"/><circle cx="1030.71" cy="723.7" r="4.6"/><circle cx="1031.03" cy="735.32" r="4.6"/><circle cx="1032.39" cy="743.45" r="4.6"/><circle cx="1034.95" cy="745.08" r="4.6"/><circle cx="1038.13" cy="744.8" r="4.6"/><circle cx="1041.3" cy="744.36" r="4.6"/><circle cx="1043.88" cy="743.96" r="4.6"/><circle cx="1046.06" cy="743.77" r="4.6"/><circle cx="1048.32" cy="747.92" r="4.6"/><circle cx="1050.22" cy="758.5" r="4.6"/><circle cx="1051.35" cy="771.12" r="4.6"/><circle cx="1051.47" cy="781.42" r="4.6"/><circle cx="1051.29" cy="788.24" r="4.6"/><circle cx="1050.97" cy="795.05" r="4.6"/><circle cx="1050.54" cy="801.52" r="4.6"/><circle cx="1050.03" cy="807.25" r="4.6"/><circle cx="1049.49" cy="811.82" r="4.6"/><circle cx="1048.86" cy="814.84" r="4.6"/><circle cx="1048" cy="815.88" r="4.6"/><circle cx="1046.95" cy="812.65" r="4.6"/><circle cx="1045.75" cy="805.04" r="4.6"/><circle cx="1044.46" cy="795.47" r="4.6"/><circle cx="1043" cy="786.36" r="4.6"/><circle cx="1041.07" cy="780.14" r="4.6"/><circle cx="1038.83" cy="777.06" r="4.6"/><circle cx="1036.49" cy="774.82" r="4.6"/><circle cx="1034.29" cy="772.94" r="4.6"/><circle cx="1032.44" cy="770.96" r="4.6"/><circle cx="1031.16" cy="768.42" r="4.6"/><circle cx="1030.43" cy="764.34" r="4.6"/><circle cx="1029.83" cy="758.22" r="4.6"/><circle cx="1029.33" cy="751.55" r="4.6"/><circle cx="1028.89" cy="745.86" r="4.6"/><circle cx="1028.51" cy="742.68" r="4.6"/><circle cx="1028.14" cy="743.74" r="4.6"/><circle cx="1027.77" cy="749.22" r="4.6"/><circle cx="1027.41" cy="756.33" r="4.6"/><circle cx="1027.07" cy="762.11" r="4.6"/><circle cx="1026.76" cy="763.69" r="4.6"/><circle cx="1026.46" cy="761.4" r="4.6"/><circle cx="1026.16" cy="757.97" r="4.6"/><circle cx="1025.86" cy="755.85" r="4.6"/><circle cx="1025.55" cy="756.54" r="4.6"/><circle cx="1025.24" cy="758.95" r="4.6"/><circle cx="1024.92" cy="762.24" r="4.6"/><circle cx="1024.61" cy="765.58" r="4.6"/><circle cx="1024.29" cy="768.15" r="4.6"/><circle cx="1023.97" cy="769.14" r="4.6"/><circle cx="1023.66" cy="765.09" r="4.6"/><circle cx="1023.34" cy="755.59" r="4.6"/><circle cx="1023.04" cy="743.75" r="4.6"/><circle cx="1022.74" cy="732.65" r="4.6"/><circle cx="1022.44" cy="725.41" r="4.6"/><circle cx="1022.14" cy="722.25" r="4.6"/><circle cx="1021.82" cy="720.09" r="4.6"/><circle cx="1021.47" cy="718.33" r="4.6"/><circle cx="1021.09" cy="716.41" r="4.6"/><circle cx="1020.66" cy="713.73" r="4.6"/><circle cx="1020.19" cy="708.7" r="4.6"/><circle cx="1019.7" cy="700.22" r="4.6"/><circle cx="1019.2" cy="690.59" r="4.6"/><circle cx="1018.7" cy="682.2" r="4.6"/><circle cx="1018.21" cy="677.44" r="4.6"/><circle cx="1017.73" cy="678.81" r="4.6"/><circle cx="1017.23" cy="686.38" r="4.6"/><circle cx="1016.73" cy="696.92" r="4.6"/><circle cx="1016.24" cy="707.1" r="4.6"/><circle cx="1015.76" cy="713.58" r="4.6"/><circle cx="1015.3" cy="713.88" r="4.6"/><circle cx="1014.87" cy="710.77" r="4.6"/><circle cx="1014.44" cy="705.75" r="4.6"/><circle cx="1013.97" cy="699.91" r="4.6"/><circle cx="1013.51" cy="694.33" r="4.6"/><circle cx="1013.11" cy="689.8" r="4.6"/><circle cx="1012.81" cy="684.93" r="4.6"/><circle cx="1012.66" cy="679.74" r="4.6"/><circle cx="1012.73" cy="674.7" r="4.6"/><circle cx="1013.05" cy="670.29" r="4.6"/><circle cx="1013.59" cy="666.97" r="4.6"/><circle cx="1014.27" cy="665.22" r="4.6"/><circle cx="1015.03" cy="666.04" r="4.6"/><circle cx="1015.82" cy="671.15" r="4.6"/><circle cx="1016.87" cy="679.26" r="4.6"/><circle cx="1018.36" cy="688.85" r="4.6"/><circle cx="1019.96" cy="698.4" r="4.6"/><circle cx="1021.38" cy="706.38" r="4.6"/><circle cx="1022.27" cy="711.25" r="4.6"/><circle cx="1022.6" cy="712.88" r="4.6"/><circle cx="1022.81" cy="713.8" r="4.6"/><circle cx="1022.96" cy="714.79" r="4.6"/><circle cx="1023.12" cy="716.77" r="4.6"/><circle cx="1023.34" cy="722.09" r="4.6"/><circle cx="1023.76" cy="729.87" r="4.6"/><circle cx="1024.53" cy="738.49" r="4.6"/><circle cx="1025.47" cy="746.3" r="4.6"/><circle cx="1026.35" cy="751.67" r="4.6"/><circle cx="1026.97" cy="753.11" r="4.6"/><circle cx="1027.21" cy="752.82" r="4.6"/><circle cx="1027.38" cy="752.21" r="4.6"/><circle cx="1027.52" cy="751.34" r="4.6"/><circle cx="1027.63" cy="750.25" r="4.6"/><circle cx="1027.71" cy="747.69" r="4.6"/><circle cx="1027.75" cy="743.38" r="4.6"/><circle cx="1027.64" cy="737.95" r="4.6"/><circle cx="1026.55" cy="732.02" r="4.6"/><circle cx="1024.86" cy="726.22" r="4.6"/><circle cx="1023.18" cy="719.44" r="4.6"/><circle cx="1022.09" cy="711.28" r="4.6"/><circle cx="1021.3" cy="703.08" r="4.6"/><circle cx="1020.61" cy="696.17" r="4.6"/><circle cx="1019.99" cy="691.88" r="4.6"/><circle cx="1019.42" cy="689.78" r="4.6"/><circle cx="1018.88" cy="687.95" r="4.6"/><circle cx="1018.33" cy="686.48" r="4.6"/><circle cx="1017.74" cy="685.48" r="4.6"/><circle cx="1017.05" cy="685.03" r="4.6"/><circle cx="1016.4" cy="685.1" r="4.6"/><circle cx="1015.97" cy="685.39" r="4.6"/><circle cx="1015.99" cy="685.77" r="4.6"/><circle cx="1016.97" cy="686.12" r="4.6"/><circle cx="1018.65" cy="686.33" r="4.6"/><circle cx="1020.58" cy="685.85" r="4.6"/><circle cx="1022.31" cy="683.7" r="4.6"/><circle cx="1023.84" cy="680.71" r="4.6"/><circle cx="1025.45" cy="677.82" r="4.6"/><circle cx="1027.03" cy="675.98" r="4.6"/><circle cx="1028.5" cy="676.94" r="4.6"/><circle cx="1029.75" cy="683.64" r="4.6"/><circle cx="1030.83" cy="692.84" r="4.6"/><circle cx="1031.87" cy="700.69" r="4.6"/><circle cx="1032.81" cy="707.8" r="4.6"/><circle cx="1033.58" cy="715.03" r="4.6"/><circle cx="1034.13" cy="721.34" r="4.6"/><circle cx="1034.47" cy="725.68" r="4.6"/><circle cx="1034.78" cy="727.65" r="4.6"/><circle cx="1035.03" cy="728.72" r="4.6"/><circle cx="1035.21" cy="729.62" r="4.6"/><circle cx="1035.3" cy="730.98" r="4.6"/><circle cx="1035.27" cy="734.88" r="4.6"/><circle cx="1035.01" cy="745.03" r="4.6"/><circle cx="1034.59" cy="756.9" r="4.6"/><circle cx="1034.05" cy="765.25" r="4.6"/><circle cx="1033.46" cy="765.89" r="4.6"/><circle cx="1032.8" cy="762.04" r="4.6"/><circle cx="1031.83" cy="755.94" r="4.6"/><circle cx="1030.65" cy="749.19" r="4.6"/><circle cx="1029.43" cy="743.34" r="4.6"/><circle cx="1028.32" cy="737.45" r="4.6"/><circle cx="1027.46" cy="730.89" r="4.6"/><circle cx="1026.74" cy="724.78" r="4.6"/><circle cx="1026.08" cy="720.24" r="4.6"/><circle cx="1025.48" cy="718.4" r="4.6"/><circle cx="1024.9" cy="718.66" r="4.6"/><circle cx="1024.32" cy="719.22" r="4.6"/><circle cx="1023.72" cy="719.67" r="4.6"/><circle cx="1023.09" cy="719.25" r="4.6"/><circle cx="1022.46" cy="716.35" r="4.6"/><circle cx="1021.83" cy="711.75" r="4.6"/><circle cx="1021.19" cy="706.53" r="4.6"/><circle cx="1020.56" cy="701.78" r="4.6"/><circle cx="1019.93" cy="698.34" r="4.6"/><circle cx="1019.29" cy="695.08" r="4.6"/><circle cx="1018.6" cy="691.74" r="4.6"/><circle cx="1017.78" cy="688.4" r="4.6"/><circle cx="1016.97" cy="685.12" r="4.6"/><circle cx="1016.3" cy="681.99" r="4.6"/><circle cx="1015.92" cy="679.08" r="4.6"/><circle cx="1016.08" cy="676.47" r="4.6"/><circle cx="1017.06" cy="674.23" r="4.6"/><circle cx="1018.48" cy="672.43" r="4.6"/><circle cx="1019.93" cy="671.16" r="4.6"/><circle cx="1021.01" cy="670.49" r="4.6"/><circle cx="1021.42" cy="670.73" r="4.6"/><circle cx="1021.63" cy="672.99" r="4.6"/><circle cx="1021.76" cy="676.66" r="4.6"/><circle cx="1021.88" cy="680.83" r="4.6"/><circle cx="1022.01" cy="684.61" r="4.6"/><circle cx="1022.19" cy="687.25" r="4.6"/><circle cx="1022.49" cy="689.72" r="4.6"/><circle cx="1023.08" cy="692.11" r="4.6"/><circle cx="1023.92" cy="694.1" r="4.6"/><circle cx="1024.88" cy="695.38" r="4.6"/><circle cx="1025.87" cy="695.67" r="4.6"/><circle cx="1027.12" cy="695.28" r="4.6"/><circle cx="1028.57" cy="694.71" r="4.6"/><circle cx="1030.03" cy="694.37" r="4.6"/><circle cx="1031.3" cy="697.01" r="4.6"/><circle cx="1032.18" cy="705.09" r="4.6"/><circle cx="1032.88" cy="715.46" r="4.6"/><circle cx="1033.55" cy="724.88" r="4.6"/><circle cx="1034.15" cy="730.13" r="4.6"/><circle cx="1034.66" cy="728.95" r="4.6"/><circle cx="1035.04" cy="723.62" r="4.6"/><circle cx="1035.26" cy="716.96" r="4.6"/><circle cx="1035.31" cy="711.73" r="4.6"/><circle cx="1035.31" cy="710.64" r="4.6"/><circle cx="1035.31" cy="714.19" r="4.6"/><circle cx="1035.31" cy="719.24" r="4.6"/><circle cx="1035.31" cy="722.32" r="4.6"/><circle cx="1035.36" cy="721.8" r="4.6"/><circle cx="1035.5" cy="720.18" r="4.6"/><circle cx="1035.72" cy="718.71" r="4.6"/><circle cx="1035.95" cy="718.63" r="4.6"/><circle cx="1036.17" cy="720.78" r="4.6"/><circle cx="1036.33" cy="724.31" r="4.6"/><circle cx="1036.39" cy="728.17" r="4.6"/><circle cx="1036.33" cy="731.48" r="4.6"/><circle cx="1036.16" cy="735.25" r="4.6"/><circle cx="1035.91" cy="739.18" r="4.6"/><circle cx="1035.63" cy="742.32" r="4.6"/><circle cx="1035.34" cy="743.76" r="4.6"/><circle cx="1035.01" cy="742.07" r="4.6"/><circle cx="1034.57" cy="737.5" r="4.6"/><circle cx="1034.1" cy="732.22" r="4.6"/><circle cx="1033.63" cy="728.42" r="4.6"/><circle cx="1033.23" cy="728.15" r="4.6"/><circle cx="1032.89" cy="731.22" r="4.6"/><circle cx="1032.54" cy="735.53" r="4.6"/><circle cx="1032.25" cy="738.99" r="4.6"/><circle cx="1032.09" cy="739.33" r="4.6"/><circle cx="1032.31" cy="734.6" r="4.6"/><circle cx="1033.33" cy="726.72" r="4.6"/><circle cx="1034.82" cy="718.34" r="4.6"/><circle cx="1036.42" cy="712.09" r="4.6"/><circle cx="1037.78" cy="710.55" r="4.6"/><circle cx="1039.09" cy="714.06" r="4.6"/><circle cx="1040.44" cy="720.75" r="4.6"/><circle cx="1041.76" cy="728.79" r="4.6"/><circle cx="1043" cy="736.35" r="4.6"/><circle cx="1044.08" cy="741.62" r="4.6"/><circle cx="1044.96" cy="744.92" r="4.6"/><circle cx="1045.72" cy="747.68" r="4.6"/><circle cx="1046.46" cy="750.75" r="4.6"/><circle cx="1047.28" cy="755.56" r="4.6"/><circle cx="1048.28" cy="761.88" r="4.6"/><circle cx="1049.63" cy="765.14" r="4.6"/><circle cx="1051.3" cy="764.87" r="4.6"/><circle cx="1053.15" cy="764.31" r="4.6"/><circle cx="1055.01" cy="763.86" r="4.6"/><circle cx="1056.74" cy="768.55" r="4.6"/><circle cx="1058.27" cy="792.09" r="4.6"/><circle cx="1059.72" cy="818.24" r="4.6"/><circle cx="1061.15" cy="827.89" r="4.6"/><circle cx="1062.58" cy="827.5" r="4.6"/><circle cx="1064.09" cy="826.75" r="4.6"/><circle cx="1065.69" cy="825.94" r="4.6"/><circle cx="1067.39" cy="825.35" r="4.6"/><circle cx="1069.13" cy="825.54" r="4.6"/><circle cx="1070.86" cy="828.63" r="4.6"/><circle cx="1072.52" cy="833.4" r="4.6"/><circle cx="1074.1" cy="837.84" r="4.6"/><circle cx="1075.64" cy="839.92" r="4.6"/><circle cx="1077.15" cy="838.71" r="4.6"/><circle cx="1078.61" cy="835.58" r="4.6"/><circle cx="1080.01" cy="831.72" r="4.6"/><circle cx="1081.4" cy="828.33" r="4.6"/><circle cx="1083" cy="826.61" r="4.6"/><circle cx="1084.53" cy="826.79" r="4.6"/><circle cx="1085.65" cy="827.55" r="4.6"/><circle cx="1086.03" cy="828.72" r="4.6"/><circle cx="1085.57" cy="830.16" r="4.6"/><circle cx="1084.63" cy="832.62" r="4.6"/><circle cx="1083.58" cy="837.67" r="4.6"/><circle cx="1082.78" cy="844.18" r="4.6"/><circle cx="1082.32" cy="850.87" r="4.6"/><circle cx="1081.96" cy="856.44" r="4.6"/><circle cx="1081.63" cy="859.63" r="4.6"/><circle cx="1081.24" cy="859.26" r="4.6"/><circle cx="1080.71" cy="855.51" r="4.6"/><circle cx="1079.81" cy="849.6" r="4.6"/><circle cx="1078.42" cy="842.74" r="4.6"/><circle cx="1076.75" cy="836.14" r="4.6"/><circle cx="1075.01" cy="830.79" r="4.6"/><circle cx="1073.41" cy="825.83" r="4.6"/><circle cx="1072" cy="820.97" r="4.6"/><circle cx="1070.52" cy="816.17" r="4.6"/><circle cx="1069.09" cy="811.35" r="4.6"/><circle cx="1067.83" cy="806.46" r="4.6"/><circle cx="1066.86" cy="801.44" r="4.6"/><circle cx="1066.2" cy="796.24" r="4.6"/><circle cx="1065.6" cy="790.79" r="4.6"/><circle cx="1065.08" cy="783.91" r="4.6"/><circle cx="1064.69" cy="775.75" r="4.6"/><circle cx="1064.47" cy="768.71" r="4.6"/><circle cx="1064.47" cy="765.21" r="4.6"/><circle cx="1064.59" cy="767.1" r="4.6"/><circle cx="1064.79" cy="773.08" r="4.6"/><circle cx="1065.02" cy="780.75" r="4.6"/><circle cx="1065.25" cy="787.72" r="4.6"/><circle cx="1065.43" cy="791.93" r="4.6"/><circle cx="1065.52" cy="794.76" r="4.6"/><circle cx="1065.46" cy="797.09" r="4.6"/><circle cx="1065.19" cy="799.29" r="4.6"/><circle cx="1064.76" cy="801.77" r="4.6"/><circle cx="1064.21" cy="804.96" r="4.6"/><circle cx="1063.61" cy="809.89" r="4.6"/><circle cx="1062.93" cy="815.79" r="4.6"/><circle cx="1061.93" cy="821.38" r="4.6"/><circle cx="1060.74" cy="825.38" r="4.6"/><circle cx="1059.52" cy="826.47" r="4.6"/><circle cx="1058.43" cy="823.04" r="4.6"/><circle cx="1057.6" cy="816.3" r="4.6"/><circle cx="1056.88" cy="808.48" r="4.6"/><circle cx="1056.22" cy="801.8" r="4.6"/><circle cx="1055.62" cy="798.44" r="4.6"/><circle cx="1055.06" cy="797.53" r="4.6"/><circle cx="1054.56" cy="796.97" r="4.6"/><circle cx="1054.1" cy="796.24" r="4.6"/><circle cx="1053.68" cy="794.3" r="4.6"/><circle cx="1053.28" cy="789.41" r="4.6"/><circle cx="1052.89" cy="782.29" r="4.6"/><circle cx="1052.47" cy="773.87" r="4.6"/><circle cx="1052.06" cy="765.03" r="4.6"/><circle cx="1051.65" cy="756.7" r="4.6"/><circle cx="1051.23" cy="749.78" r="4.6"/><circle cx="1050.8" cy="745.18" r="4.6"/><circle cx="1050.36" cy="743.77" r="4.6"/><circle cx="1049.92" cy="743.77" r="4.6"/><circle cx="1049.47" cy="743.77" r="4.6"/><circle cx="1048.99" cy="743.77" r="4.6"/><circle cx="1048.45" cy="743.77" r="4.6"/><circle cx="1047.73" cy="743.77" r="4.6"/><circle cx="1046.71" cy="740.63" r="4.6"/><circle cx="1045.71" cy="733.27" r="4.6"/><circle cx="1045.09" cy="724.42" r="4.6"/><circle cx="1045.15" cy="716.78" r="4.6"/><circle cx="1045.82" cy="713.1" r="4.6"/><circle cx="1046.84" cy="715.27" r="4.6"/><circle cx="1047.97" cy="721.66" r="4.6"/><circle cx="1048.96" cy="729.74" r="4.6"/><circle cx="1049.62" cy="737" r="4.6"/><circle cx="1050.11" cy="740.93" r="4.6"/><circle cx="1050.53" cy="739.08" r="4.6"/><circle cx="1050.91" cy="731.91" r="4.6"/><circle cx="1051.31" cy="722.37" r="4.6"/><circle cx="1051.77" cy="713.46" r="4.6"/><circle cx="1052.34" cy="708.16" r="4.6"/><circle cx="1053.14" cy="708.89" r="4.6"/><circle cx="1054.34" cy="714.36" r="4.6"/><circle cx="1055.77" cy="722.4" r="4.6"/><circle cx="1057.24" cy="730.89" r="4.6"/><circle cx="1058.55" cy="737.73" r="4.6"/><circle cx="1059.55" cy="741.51" r="4.6"/><circle cx="1060.35" cy="744.46" r="4.6"/><circle cx="1061.05" cy="746.7" r="4.6"/><circle cx="1061.7" cy="747.86" r="4.6"/><circle cx="1062.39" cy="748.3" r="4.6"/><circle cx="1063.18" cy="748.58" r="4.6"/><circle cx="1064.14" cy="748.95" r="4.6"/><circle cx="1065.43" cy="749.79" r="4.6"/><circle cx="1067.22" cy="751.39" r="4.6"/><circle cx="1069.31" cy="753.45" r="4.6"/><circle cx="1071.47" cy="755.67" r="4.6"/><circle cx="1073.46" cy="757.74" r="4.6"/><circle cx="1075.17" cy="759.39" r="4.6"/><circle cx="1076.86" cy="760.7" r="4.6"/><circle cx="1078.49" cy="761.93" r="4.6"/><circle cx="1079.97" cy="763.35" r="4.6"/><circle cx="1081.2" cy="765.23" r="4.6"/><circle cx="1082.15" cy="768.45" r="4.6"/><circle cx="1083.06" cy="775.85" r="4.6"/><circle cx="1083.92" cy="784.93" r="4.6"/><circle cx="1084.69" cy="792.29" r="4.6"/><circle cx="1085.33" cy="795.08" r="4.6"/><circle cx="1085.79" cy="796.09" r="4.6"/><circle cx="1086.01" cy="796.74" r="4.6"/><circle cx="1085.94" cy="797.41" r="4.6"/><circle cx="1085.52" cy="798.45" r="4.6"/><circle cx="1084.85" cy="800.92" r="4.6"/><circle cx="1084.03" cy="804.85" r="4.6"/><circle cx="1083.17" cy="808.85" r="4.6"/><circle cx="1082.33" cy="811.5" r="4.6"/><circle cx="1081.25" cy="809.84" r="4.6"/><circle cx="1080.05" cy="796.95" r="4.6"/><circle cx="1078.86" cy="778.04" r="4.6"/><circle cx="1077.85" cy="759.98" r="4.6"/><circle cx="1077.13" cy="749.68" r="4.6"/><circle cx="1076.53" cy="749.28" r="4.6"/><circle cx="1076" cy="750" r="4.6"/><circle cx="1075.53" cy="751.24" r="4.6"/><circle cx="1075.1" cy="752.93" r="4.6"/><circle cx="1074.7" cy="755.02" r="4.6"/><circle cx="1074.31" cy="757.42" r="4.6"/><circle cx="1073.92" cy="761.37" r="4.6"/><circle cx="1073.51" cy="770.69" r="4.6"/><circle cx="1073.08" cy="782.7" r="4.6"/><circle cx="1072.69" cy="794.05" r="4.6"/><circle cx="1072.36" cy="801.4" r="4.6"/><circle cx="1072.12" cy="802.16" r="4.6"/><circle cx="1072.01" cy="799.31" r="4.6"/><circle cx="1072.04" cy="794.3" r="4.6"/><circle cx="1072.18" cy="787.91" r="4.6"/><circle cx="1072.39" cy="780.91" r="4.6"/><circle cx="1072.63" cy="774.07" r="4.6"/><circle cx="1072.85" cy="768.17" r="4.6"/><circle cx="1073.01" cy="763.41" r="4.6"/><circle cx="1073.08" cy="758.35" r="4.6"/><circle cx="1073.08" cy="753.1" r="4.6"/><circle cx="1073.08" cy="747.94" r="4.6"/><circle cx="1073.08" cy="743.15" r="4.6"/><circle cx="1073.08" cy="738.99" r="4.6"/><circle cx="1073.08" cy="735.75" r="4.6"/><circle cx="1073.08" cy="733.7" r="4.6"/><circle cx="1073.08" cy="733.13" r="4.6"/><circle cx="1073.27" cy="735.92" r="4.6"/><circle cx="1073.71" cy="741.59" r="4.6"/><circle cx="1074.35" cy="748.14" r="4.6"/><circle cx="1075.11" cy="753.54" r="4.6"/><circle cx="1075.96" cy="755.79" r="4.6"/><circle cx="1076.82" cy="755.26" r="4.6"/><circle cx="1077.65" cy="753.98" r="4.6"/><circle cx="1078.64" cy="752.43" r="4.6"/><circle cx="1079.8" cy="751.1" r="4.6"/><circle cx="1081.05" cy="750.46" r="4.6"/><circle cx="1082.3" cy="752.46" r="4.6"/><circle cx="1083.48" cy="758.23" r="4.6"/><circle cx="1084.51" cy="765.54" r="4.6"/><circle cx="1085.35" cy="772.11" r="4.6"/><circle cx="1086.21" cy="775.67" r="4.6"/><circle cx="1087.02" cy="774.77" r="4.6"/><circle cx="1087.69" cy="771.04" r="4.6"/><circle cx="1088.11" cy="766.08" r="4.6"/><circle cx="1088.18" cy="761.45" r="4.6"/><circle cx="1088.07" cy="758.69" r="4.6"/><circle cx="1087.86" cy="758.56" r="4.6"/><circle cx="1087.59" cy="759.05" r="4.6"/><circle cx="1087.31" cy="759.81" r="4.6"/><circle cx="1087.05" cy="760.68" r="4.6"/><circle cx="1086.75" cy="761.51" r="4.6"/><circle cx="1086.41" cy="762.15" r="4.6"/><circle cx="1086.06" cy="762.46" r="4.6"/><circle cx="1085.7" cy="762.47" r="4.6"/><circle cx="1085.37" cy="762.47" r="4.6"/><circle cx="1085.09" cy="762.47" r="4.6"/><circle cx="1084.86" cy="762.47" r="4.6"/><circle cx="1084.64" cy="762.47" r="4.6"/><circle cx="1084.43" cy="763.38" r="4.6"/><circle cx="1084.23" cy="766.5" r="4.6"/><circle cx="1084.06" cy="769.61" r="4.6"/><circle cx="1083.94" cy="770.44" r="4.6"/><circle cx="1083.88" cy="769.83" r="4.6"/><circle cx="1083.94" cy="768.78" r="4.6"/><circle cx="1084.32" cy="767.63" r="4.6"/><circle cx="1085.01" cy="766.75" r="4.6"/><circle cx="1085.97" cy="766.49" r="4.6"/><circle cx="1087.14" cy="767.21" r="4.6"/><circle cx="1088.5" cy="768.35" r="4.6"/><circle cx="1089.99" cy="769.11" r="4.6"/><circle cx="1092.08" cy="767.17" r="4.6"/><circle cx="1095.61" cy="760.61" r="4.6"/><circle cx="1099.97" cy="753.01" r="4.6"/><circle cx="1104.51" cy="748.14" r="4.6"/><circle cx="1108.58" cy="750.04" r="4.6"/><circle cx="1111.85" cy="759.31" r="4.6"/><circle cx="1115" cy="771.4" r="4.6"/><circle cx="1117.98" cy="781.61" r="4.6"/><circle cx="1120.67" cy="785.48" r="4.6"/><circle cx="1122.93" cy="786.29" r="4.6"/><circle cx="1124.64" cy="786.8" r="4.6"/><circle cx="1125.87" cy="787.63" r="4.6"/><circle cx="1126.87" cy="791.5" r="4.6"/><circle cx="1127.91" cy="800.99" r="4.6"/><circle cx="1129.25" cy="813.33" r="4.6"/><circle cx="1131.31" cy="825.63" r="4.6"/><circle cx="1135.32" cy="835.01" r="4.6"/><circle cx="1140.86" cy="838.58" r="4.6"/><circle cx="1147.15" cy="834.3" r="4.6"/><circle cx="1153.42" cy="827.41" r="4.6"/><circle cx="1158.87" cy="826.03" r="4.6"/><circle cx="1162.74" cy="838.12" r="4.6"/><circle cx="1164.73" cy="859.25" r="4.6"/><circle cx="1166.41" cy="882.23" r="4.6"/><circle cx="1167.91" cy="899.89" r="4.6"/><circle cx="1169.2" cy="905.22" r="4.6"/><circle cx="1170.21" cy="900.46" r="4.6"/><circle cx="1170.9" cy="891.26" r="4.6"/><circle cx="1171.21" cy="880.85" r="4.6"/><circle cx="1171.07" cy="872.46" r="4.6"/><circle cx="1170.48" cy="869.32" r="4.6"/><circle cx="1169.56" cy="873.35" r="4.6"/><circle cx="1168.46" cy="882.2" r="4.6"/><circle cx="1167.3" cy="892.63" r="4.6"/><circle cx="1166.08" cy="901.43" r="4.6"/><circle cx="1164.5" cy="905.35" r="4.6"/><circle cx="1162.66" cy="903.63" r="4.6"/><circle cx="1160.69" cy="899.03" r="4.6"/><circle cx="1158.71" cy="893.03" r="4.6"/><circle cx="1156.86" cy="887.1" r="4.6"/><circle cx="1155.26" cy="882.72" r="4.6"/><circle cx="1153.9" cy="881.37" r="4.6"/><circle cx="1152.54" cy="883.76" r="4.6"/><circle cx="1151.2" cy="888.63" r="4.6"/><circle cx="1149.89" cy="894.43" r="4.6"/><circle cx="1148.62" cy="899.57" r="4.6"/><circle cx="1147.42" cy="902.48" r="4.6"/><circle cx="1146.29" cy="901.18" r="4.6"/><circle cx="1145.24" cy="895.19" r="4.6"/><circle cx="1144.29" cy="887.72" r="4.6"/><circle cx="1143.46" cy="882.21" r="4.6"/><circle cx="1142.76" cy="880.82" r="4.6"/><circle cx="1142.2" cy="880.27" r="4.6"/><circle cx="1141.73" cy="879.92" r="4.6"/><circle cx="1141.28" cy="879.58" r="4.6"/><circle cx="1140.87" cy="879.06" r="4.6"/><circle cx="1140.51" cy="877.85" r="4.6"/><circle cx="1140.23" cy="874.44" r="4.6"/><circle cx="1140.05" cy="869.75" r="4.6"/><circle cx="1139.99" cy="865.14" r="4.6"/><circle cx="1140.44" cy="861.96" r="4.6"/><circle cx="1141.56" cy="861.4" r="4.6"/><circle cx="1143.17" cy="862.65" r="4.6"/><circle cx="1145.1" cy="864.89" r="4.6"/><circle cx="1147.19" cy="867.61" r="4.6"/><circle cx="1149.25" cy="870.28" r="4.6"/><circle cx="1151.14" cy="872.41" r="4.6"/><circle cx="1153.1" cy="874.28" r="4.6"/><circle cx="1155.2" cy="876.08" r="4.6"/><circle cx="1157.34" cy="877.81" r="4.6"/><circle cx="1159.43" cy="879.42" r="4.6"/><circle cx="1161.51" cy="880.94" r="4.6"/><circle cx="1163.87" cy="882.46" r="4.6"/><circle cx="1166.21" cy="883.94" r="4.6"/><circle cx="1168.22" cy="885.32" r="4.6"/><circle cx="1169.57" cy="886.55" r="4.6"/><circle cx="1170.06" cy="887.58" r="4.6"/><circle cx="1170.3" cy="888.36" r="4.6"/><circle cx="1170.48" cy="888.95" r="4.6"/><circle cx="1170.63" cy="889.42" r="4.6"/><circle cx="1170.81" cy="889.82" r="4.6"/><circle cx="1171.09" cy="890.23" r="4.6"/><circle cx="1171.56" cy="890.68" r="4.6"/><circle cx="1172.13" cy="891.25" r="4.6"/><circle cx="1172.66" cy="891.99" r="4.6"/><circle cx="1173.03" cy="893.37" r="4.6"/><circle cx="1173.12" cy="895.58" r="4.6"/><circle cx="1173.12" cy="898.24" r="4.6"/><circle cx="1173.12" cy="900.94" r="4.6"/><circle cx="1173.12" cy="903.28" r="4.6"/><circle cx="1173.12" cy="904.88" r="4.6"/><circle cx="1173.1" cy="905.31" r="4.6"/><circle cx="1172.55" cy="903.45" r="4.6"/><circle cx="1171.45" cy="899.42" r="4.6"/><circle cx="1170.2" cy="894.07" r="4.6"/><circle cx="1169.19" cy="888.23" r="4.6"/><circle cx="1168.8" cy="882.74" r="4.6"/><circle cx="1169.03" cy="878.43" r="4.6"/><circle cx="1169.59" cy="876.15" r="4.6"/><circle cx="1170.35" cy="877.02" r="4.6"/><circle cx="1171.19" cy="881.58" r="4.6"/><circle cx="1171.99" cy="887.92" r="4.6"/><circle cx="1172.82" cy="894.03" r="4.6"/><circle cx="1173.8" cy="897.98" r="4.6"/><circle cx="1174.8" cy="900.95" r="4.6"/><circle cx="1175.67" cy="903.71" r="4.6"/><circle cx="1176.28" cy="906.01" r="4.6"/><circle cx="1176.61" cy="907.54" r="4.6"/><circle cx="1176.86" cy="908.02" r="4.6"/><circle cx="1177.04" cy="907.24" r="4.6"/><circle cx="1177.21" cy="905.58" r="4.6"/><circle cx="1177.38" cy="903.65" r="4.6"/><circle cx="1177.58" cy="902.04" r="4.6"/><circle cx="1177.86" cy="901.35" r="4.6"/><circle cx="1178.34" cy="903.01" r="4.6"/><circle cx="1179.04" cy="907.37" r="4.6"/><circle cx="1179.78" cy="913.31" r="4.6"/><circle cx="1180.38" cy="919.72" r="4.6"/><circle cx="1180.67" cy="925.5" r="4.6"/><circle cx="1180.44" cy="929.52" r="4.6"/><circle cx="1179.7" cy="930.68" r="4.6"/><circle cx="1178.67" cy="928.32" r="4.6"/><circle cx="1177.56" cy="923.28" r="4.6"/><circle cx="1176.56" cy="916.68" r="4.6"/><circle cx="1175.72" cy="909.62" r="4.6"/><circle cx="1174.77" cy="903.22" r="4.6"/><circle cx="1173.86" cy="898.37" r="4.6"/><circle cx="1173.12" cy="893.55" r="4.6"/><circle cx="1172.72" cy="888.61" r="4.6"/><circle cx="1172.89" cy="884.05" r="4.6"/><circle cx="1173.89" cy="880.33" r="4.6"/><circle cx="1175.43" cy="877.94" r="4.6"/><circle cx="1177.21" cy="877.41" r="4.6"/><circle cx="1178.9" cy="879.91" r="4.6"/><circle cx="1180.23" cy="884.86" r="4.6"/><circle cx="1181.34" cy="890.93" r="4.6"/><circle cx="1182.54" cy="896.8" r="4.6"/><circle cx="1184.09" cy="901.16" r="4.6"/><circle cx="1186.58" cy="902.67" r="4.6"/><circle cx="1189.75" cy="900.38" r="4.6"/><circle cx="1192.83" cy="895.85" r="4.6"/><circle cx="1195.4" cy="891.39" r="4.6"/><circle cx="1197.9" cy="889.33" r="4.6"/><circle cx="1200.04" cy="889.58" r="4.6"/><circle cx="1201.54" cy="890.44" r="4.6"/><circle cx="1202.76" cy="892.07" r="4.6"/><circle cx="1203.82" cy="894.63" r="4.6"/><circle cx="1204.62" cy="898.28" r="4.6"/><circle cx="1205.04" cy="903.17" r="4.6"/>
</g>
<rect x="1172.1" y="593.5" width="18.800000000000182" height="451.79999999999995" fill="#808080" fill-opacity="0.2"/>
<line x1="1180.9" y1="593.5" x2="1180.9" y2="1045.3" stroke="#000" stroke-width="2.08" stroke-dasharray="7.7 3.4" stroke-dashoffset="-2"/>
<polyline fill="none" stroke="#a52a2a" stroke-width="2.08" stroke-dasharray="13.3 3.33 2.08 3.33" points="933.5,613.1 1181,906.2 1546.8,1024.6"/>
</g>
<rect x="95.5" y="35.5" width="674.0" height="452.0" fill="none" stroke="#000" stroke-width="1.11" stroke-linejoin="miter"/>
<rect x="904.5" y="35.5" width="674.0" height="451.8" fill="none" stroke="#000" stroke-width="1.11" stroke-linejoin="miter"/>
<rect x="100.5" y="593.5" width="674.0" height="451.79999999999995" fill="none" stroke="#000" stroke-width="1.11" stroke-linejoin="miter"/>
<rect x="903.5" y="593.5" width="674.0" height="451.79999999999995" fill="none" stroke="#000" stroke-width="1.11" stroke-linejoin="miter"/>
<g stroke="#000" stroke-width="1.11"><line x1="126.5" y1="487.5" x2="126.5" y2="492.36"/><line x1="246.5" y1="487.5" x2="246.5" y2="492.36"/><line x1="365.5" y1="487.5" x2="365.5" y2="492.36"/><line x1="485.5" y1="487.5" x2="485.5" y2="492.36"/><line x1="605.5" y1="487.5" x2="605.5" y2="492.36"/><line x1="725.5" y1="487.5" x2="725.5" y2="492.36"/><line x1="90.64" y1="452.5" x2="95.5" y2="452.5"/><line x1="90.64" y1="379.5" x2="95.5" y2="379.5"/><line x1="90.64" y1="307.5" x2="95.5" y2="307.5"/><line x1="90.64" y1="234.5" x2="95.5" y2="234.5"/><line x1="90.64" y1="161.5" x2="95.5" y2="161.5"/><line x1="90.64" y1="89.5" x2="95.5" y2="89.5"/><line x1="769.5" y1="435.5" x2="774.36" y2="435.5"/><line x1="769.5" y1="343.5" x2="774.36" y2="343.5"/><line x1="769.5" y1="252.5" x2="774.36" y2="252.5"/><line x1="769.5" y1="160.5" x2="774.36" y2="160.5"/><line x1="769.5" y1="69.5" x2="774.36" y2="69.5"/><line x1="935.5" y1="487.3" x2="935.5" y2="492.16"/><line x1="1011.5" y1="487.3" x2="1011.5" y2="492.16"/><line x1="1088.5" y1="487.3" x2="1088.5" y2="492.16"/><line x1="1164.5" y1="487.3" x2="1164.5" y2="492.16"/><line x1="1241.5" y1="487.3" x2="1241.5" y2="492.16"/><line x1="1318.5" y1="487.3" x2="1318.5" y2="492.16"/><line x1="1394.5" y1="487.3" x2="1394.5" y2="492.16"/><line x1="1471.5" y1="487.3" x2="1471.5" y2="492.16"/><line x1="1547.5" y1="487.3" x2="1547.5" y2="492.16"/><line x1="131.5" y1="1045.3" x2="131.5" y2="1050.16"/><line x1="207.5" y1="1045.3" x2="207.5" y2="1050.16"/><line x1="284.5" y1="1045.3" x2="284.5" y2="1050.16"/><line x1="360.5" y1="1045.3" x2="360.5" y2="1050.16"/><line x1="437.5" y1="1045.3" x2="437.5" y2="1050.16"/><line x1="514.5" y1="1045.3" x2="514.5" y2="1050.16"/><line x1="590.5" y1="1045.3" x2="590.5" y2="1050.16"/><line x1="667.5" y1="1045.3" x2="667.5" y2="1050.16"/><line x1="743.5" y1="1045.3" x2="743.5" y2="1050.16"/><line x1="934.5" y1="1045.3" x2="934.5" y2="1050.16"/><line x1="1010.5" y1="1045.3" x2="1010.5" y2="1050.16"/><line x1="1087.5" y1="1045.3" x2="1087.5" y2="1050.16"/><line x1="1163.5" y1="1045.3" x2="1163.5" y2="1050.16"/><line x1="1240.5" y1="1045.3" x2="1240.5" y2="1050.16"/><line x1="1317.5" y1="1045.3" x2="1317.5" y2="1050.16"/><line x1="1393.5" y1="1045.3" x2="1393.5" y2="1050.16"/><line x1="1470.5" y1="1045.3" x2="1470.5" y2="1050.16"/><line x1="1546.5" y1="1045.3" x2="1546.5" y2="1050.16"/><line x1="899.64" y1="441.5" x2="904.5" y2="441.5"/><line x1="899.64" y1="379.5" x2="904.5" y2="379.5"/><line x1="899.64" y1="318.5" x2="904.5" y2="318.5"/><line x1="899.64" y1="256.5" x2="904.5" y2="256.5"/><line x1="899.64" y1="195.5" x2="904.5" y2="195.5"/><line x1="899.64" y1="133.5" x2="904.5" y2="133.5"/><line x1="899.64" y1="72.5" x2="904.5" y2="72.5"/><line x1="95.64" y1="1036.5" x2="100.5" y2="1036.5"/><line x1="95.64" y1="984.5" x2="100.5" y2="984.5"/><line x1="95.64" y1="932.5" x2="100.5" y2="932.5"/><line x1="95.64" y1="881.5" x2="100.5" y2="881.5"/><line x1="95.64" y1="829.5" x2="100.5" y2="829.5"/><line x1="95.64" y1="777.5" x2="100.5" y2="777.5"/><line x1="95.64" y1="725.5" x2="100.5" y2="725.5"/><line x1="95.64" y1="674.5" x2="100.5" y2="674.5"/><line x1="95.64" y1="622.5" x2="100.5" y2="622.5"/><line x1="898.64" y1="1039.5" x2="903.5" y2="1039.5"/><line x1="898.64" y1="979.5" x2="903.5" y2="979.5"/><line x1="898.64" y1="919.5" x2="903.5" y2="919.5"/><line x1="898.64" y1="860.5" x2="903.5" y2="860.5"/><line x1="898.64" y1="800.5" x2="903.5" y2="800.5"/><line x1="898.64" y1="740.5" x2="903.5" y2="740.5"/><line x1="898.64" y1="681.5" x2="903.5" y2="681.5"/><line x1="898.64" y1="621.5" x2="903.5" y2="621.5"/></g>
<text x="-17.22" y="0" font-size="24.44" textLength="34.37" lengthAdjust="spacingAndGlyphs" transform="translate(126.14 514.61)">0.0</text>
<text x="-24.25" y="0" font-size="24.44" textLength="48.47" lengthAdjust="spacingAndGlyphs" transform="translate(246.04 514.61)">40.0</text>
<text x="-24.3" y="0" font-size="24.44" textLength="48.53" lengthAdjust="spacingAndGlyphs" transform="translate(365.95 514.61)">80.0</text>
<text x="-31.24" y="0" font-size="24.44" textLength="62.53" lengthAdjust="spacingAndGlyphs" transform="translate(485.86 514.61)">120.0</text>
<text x="-31.24" y="0" font-size="24.44" textLength="62.53" lengthAdjust="spacingAndGlyphs" transform="translate(605.77 514.61)">160.0</text>
<text x="-31.45" y="0" font-size="24.44" textLength="62.75" lengthAdjust="spacingAndGlyphs" transform="translate(725.67 514.61)">200.0</text>
<text x="-100.46" y="0" font-size="24.44" textLength="199.91" lengthAdjust="spacingAndGlyphs" transform="translate(432.5 544.67)">Temps (secondes)</text>
<text x="-27.77" y="0" font-size="24.44" textLength="27.31" lengthAdjust="spacingAndGlyphs" transform="translate(85.78 460.85)">40</text>
<text x="-27.53" y="0" font-size="24.44" textLength="27.05" lengthAdjust="spacingAndGlyphs" transform="translate(85.78 388.21)">50</text>
<text x="-27.96" y="0" font-size="24.44" textLength="27.5" lengthAdjust="spacingAndGlyphs" transform="translate(85.78 315.56)">60</text>
<text x="-27.67" y="0" font-size="24.44" textLength="27.2" lengthAdjust="spacingAndGlyphs" transform="translate(85.78 242.92)">70</text>
<text x="-27.82" y="0" font-size="24.44" textLength="27.36" lengthAdjust="spacingAndGlyphs" transform="translate(85.78 170.27)">80</text>
<text x="-28.07" y="0" font-size="24.44" textLength="27.61" lengthAdjust="spacingAndGlyphs" transform="translate(85.78 97.63)">90</text>
<text x="0.47" y="0" font-size="24.44" textLength="33.96" lengthAdjust="spacingAndGlyphs" transform="translate(779.22 443.65)">0.5</text>
<text x="0.6" y="0" font-size="24.44" textLength="34.22" lengthAdjust="spacingAndGlyphs" transform="translate(779.22 352.12)">1.0</text>
<text x="0.62" y="0" font-size="24.44" textLength="33.8" lengthAdjust="spacingAndGlyphs" transform="translate(779.22 260.6)">1.5</text>
<text x="0.37" y="0" font-size="24.44" textLength="34.45" lengthAdjust="spacingAndGlyphs" transform="translate(779.22 169.07)">2.0</text>
<text x="0.39" y="0" font-size="24.44" textLength="34.04" lengthAdjust="spacingAndGlyphs" transform="translate(779.22 77.55)">2.5</text>
<text x="-13.64" y="0" font-size="24.44" textLength="27.31" lengthAdjust="spacingAndGlyphs" transform="translate(935.14 514.41)">40</text>
<text x="-13.39" y="0" font-size="24.44" textLength="27.05" lengthAdjust="spacingAndGlyphs" transform="translate(1011.73 514.41)">50</text>
<text x="-13.82" y="0" font-size="24.44" textLength="27.5" lengthAdjust="spacingAndGlyphs" transform="translate(1088.32 514.41)">60</text>
<text x="-13.53" y="0" font-size="24.44" textLength="27.2" lengthAdjust="spacingAndGlyphs" transform="translate(1164.91 514.41)">70</text>
<text x="-13.68" y="0" font-size="24.44" textLength="27.36" lengthAdjust="spacingAndGlyphs" transform="translate(1241.5 514.41)">80</text>
<text x="-13.93" y="0" font-size="24.44" textLength="27.61" lengthAdjust="spacingAndGlyphs" transform="translate(1318.09 514.41)">90</text>
<text x="-20.62" y="0" font-size="24.44" textLength="41.31" lengthAdjust="spacingAndGlyphs" transform="translate(1394.68 514.41)">100</text>
<text x="-20.71" y="0" font-size="24.44" textLength="41.47" lengthAdjust="spacingAndGlyphs" transform="translate(1471.27 514.41)">110</text>
<text x="-20.62" y="0" font-size="24.44" textLength="41.31" lengthAdjust="spacingAndGlyphs" transform="translate(1547.86 514.41)">120</text>
<text x="-70.2" y="0" font-size="24.44" textLength="140.12" lengthAdjust="spacingAndGlyphs" transform="translate(1241.5 544.47)">PPC (mmHg)</text>
<text x="-27.77" y="0" font-size="24.44" textLength="27.31" lengthAdjust="spacingAndGlyphs" transform="translate(894.78 449.74)">40</text>
<text x="-27.77" y="0" font-size="24.44" textLength="26.9" lengthAdjust="spacingAndGlyphs" transform="translate(894.78 388.24)">45</text>
<text x="-27.53" y="0" font-size="24.44" textLength="27.05" lengthAdjust="spacingAndGlyphs" transform="translate(894.78 326.73)">50</text>
<text x="-27.51" y="0" font-size="24.44" textLength="26.64" lengthAdjust="spacingAndGlyphs" transform="translate(894.78 265.23)">55</text>
<text x="-27.96" y="0" font-size="24.44" textLength="27.5" lengthAdjust="spacingAndGlyphs" transform="translate(894.78 203.73)">60</text>
<text x="-27.94" y="0" font-size="24.44" textLength="27.08" lengthAdjust="spacingAndGlyphs" transform="translate(894.78 142.22)">65</text>
<text x="-27.67" y="0" font-size="24.44" textLength="27.2" lengthAdjust="spacingAndGlyphs" transform="translate(894.78 80.72)">70</text>
<text x="-134.16" y="0" font-size="24.44" textLength="267.97" lengthAdjust="spacingAndGlyphs" transform="translate(854.82 261.4) rotate(-90)">Vitesse moyenne (cm/s)</text>
<text x="-22.06" y="0" font-size="29.33" textLength="43.85" lengthAdjust="spacingAndGlyphs" transform="translate(1241.5 26.17)">Vm</text>
<text x="-13.64" y="0" font-size="24.44" textLength="27.31" lengthAdjust="spacingAndGlyphs" transform="translate(131.14 1072.41)">40</text>
<text x="-13.39" y="0" font-size="24.44" textLength="27.05" lengthAdjust="spacingAndGlyphs" transform="translate(207.73 1072.41)">50</text>
<text x="-13.82" y="0" font-size="24.44" textLength="27.5" lengthAdjust="spacingAndGlyphs" transform="translate(284.32 1072.41)">60</text>
<text x="-13.53" y="0" font-size="24.44" textLength="27.2" lengthAdjust="spacingAndGlyphs" transform="translate(360.91 1072.41)">70</text>
<text x="-13.68" y="0" font-size="24.44" textLength="27.36" lengthAdjust="spacingAndGlyphs" transform="translate(437.5 1072.41)">80</text>
<text x="-13.93" y="0" font-size="24.44" textLength="27.61" lengthAdjust="spacingAndGlyphs" transform="translate(514.09 1072.41)">90</text>
<text x="-20.62" y="0" font-size="24.44" textLength="41.31" lengthAdjust="spacingAndGlyphs" transform="translate(590.68 1072.41)">100</text>
<text x="-20.71" y="0" font-size="24.44" textLength="41.47" lengthAdjust="spacingAndGlyphs" transform="translate(667.27 1072.41)">110</text>
<text x="-20.62" y="0" font-size="24.44" textLength="41.31" lengthAdjust="spacingAndGlyphs" transform="translate(743.86 1072.41)">120</text>
<text x="-70.2" y="0" font-size="24.44" textLength="140.12" lengthAdjust="spacingAndGlyphs" transform="translate(437.5 1102.47)">PPC (mmHg)</text>
<text x="-49.03" y="0" font-size="24.44" textLength="48.12" lengthAdjust="spacingAndGlyphs" transform="translate(90.78 1044.7)">0.75</text>
<text x="-48.9" y="0" font-size="24.44" textLength="48.39" lengthAdjust="spacingAndGlyphs" transform="translate(90.78 992.95)">1.00</text>
<text x="-48.89" y="0" font-size="24.44" textLength="47.98" lengthAdjust="spacingAndGlyphs" transform="translate(90.78 941.2)">1.25</text>
<text x="-48.9" y="0" font-size="24.44" textLength="48.39" lengthAdjust="spacingAndGlyphs" transform="translate(90.78 889.45)">1.50</text>
<text x="-48.89" y="0" font-size="24.44" textLength="47.98" lengthAdjust="spacingAndGlyphs" transform="translate(90.78 837.71)">1.75</text>
<text x="-49.12" y="0" font-size="24.44" textLength="48.61" lengthAdjust="spacingAndGlyphs" transform="translate(90.78 785.96)">2.00</text>
<text x="-49.11" y="0" font-size="24.44" textLength="48.21" lengthAdjust="spacingAndGlyphs" transform="translate(90.78 734.21)">2.25</text>
<text x="-49.12" y="0" font-size="24.44" textLength="48.61" lengthAdjust="spacingAndGlyphs" transform="translate(90.78 682.46)">2.50</text>
<text x="-49.11" y="0" font-size="24.44" textLength="48.21" lengthAdjust="spacingAndGlyphs" transform="translate(90.78 630.71)">2.75</text>
<text x="-109.15" y="0" font-size="24.44" textLength="218.04" lengthAdjust="spacingAndGlyphs" transform="translate(29.62 819.4) rotate(-90)">Indice de pulsatilité</text>
<text x="-11.74" y="0" font-size="29.33" textLength="24.17" lengthAdjust="spacingAndGlyphs" transform="translate(437.5 584.17)">IP</text>
<text x="-13.64" y="0" font-size="24.44" textLength="27.31" lengthAdjust="spacingAndGlyphs" transform="translate(934.14 1072.41)">40</text>
<text x="-13.39" y="0" font-size="24.44" textLength="27.05" lengthAdjust="spacingAndGlyphs" transform="translate(1010.73 1072.41)">50</text>
<text x="-13.82" y="0" font-size="24.44" textLength="27.5" lengthAdjust="spacingAndGlyphs" transform="translate(1087.32 1072.41)">60</text>
<text x="-13.53" y="0" font-size="24.44" textLength="27.2" lengthAdjust="spacingAndGlyphs" transform="translate(1163.91 1072.41)">70</text>
<text x="-13.68" y="0" font-size="24.44" textLength="27.36" lengthAdjust="spacingAndGlyphs" transform="translate(1240.5 1072.41)">80</text>
<text x="-13.93" y="0" font-size="24.44" textLength="27.61" lengthAdjust="spacingAndGlyphs" transform="translate(1317.09 1072.41)">90</text>
<text x="-20.62" y="0" font-size="24.44" textLength="41.31" lengthAdjust="spacingAndGlyphs" transform="translate(1393.68 1072.41)">100</text>
<text x="-20.71" y="0" font-size="24.44" textLength="41.47" lengthAdjust="spacingAndGlyphs" transform="translate(1470.27 1072.41)">110</text>
<text x="-20.62" y="0" font-size="24.44" textLength="41.31" lengthAdjust="spacingAndGlyphs" transform="translate(1546.86 1072.41)">120</text>
<text x="-70.2" y="0" font-size="24.44" textLength="140.12" lengthAdjust="spacingAndGlyphs" transform="translate(1240.5 1102.47)">PPC (mmHg)</text>
<text x="-63.18" y="0" font-size="24.44" textLength="62.66" lengthAdjust="spacingAndGlyphs" transform="translate(893.78 1048.05)">0.000</text>
<text x="-63.17" y="0" font-size="24.44" textLength="62.27" lengthAdjust="spacingAndGlyphs" transform="translate(893.78 988.29)">0.025</text>
<text x="-63.18" y="0" font-size="24.44" textLength="62.66" lengthAdjust="spacingAndGlyphs" transform="translate(893.78 928.52)">0.050</text>
<text x="-63.17" y="0" font-size="24.44" textLength="62.27" lengthAdjust="spacingAndGlyphs" transform="translate(893.78 868.76)">0.075</text>
<text x="-63.18" y="0" font-size="24.44" textLength="62.66" lengthAdjust="spacingAndGlyphs" transform="translate(893.78 808.99)">0.100</text>
<text x="-63.17" y="0" font-size="24.44" textLength="62.27" lengthAdjust="spacingAndGlyphs" transform="translate(893.78 749.23)">0.125</text>
<text x="-63.18" y="0" font-size="24.44" textLength="62.66" lengthAdjust="spacingAndGlyphs" transform="translate(893.78 689.46)">0.150</text>
<text x="-63.17" y="0" font-size="24.44" textLength="62.27" lengthAdjust="spacingAndGlyphs" transform="translate(893.78 629.7)">0.175</text>
<text x="-29.33" y="0" font-size="24.44" textLength="58.48" lengthAdjust="spacingAndGlyphs" transform="translate(818.48 819.4) rotate(-90)">AMP*</text>
<text x="-35.2" y="0" font-size="29.33" textLength="70.18" lengthAdjust="spacingAndGlyphs" transform="translate(1240.5 584.17)">AMP*</text>
<text x="-1.94" y="0" font-size="24.44" textLength="140.12" lengthAdjust="spacingAndGlyphs" transform="translate(178.1 72.4)">PPC (mmHg)</text>
<text x="-0.12" y="0" font-size="24.44" textLength="113.73" lengthAdjust="spacingAndGlyphs" transform="translate(178.1 106.3)">Vm (cm/s)</text>
<text x="-1.97" y="0" font-size="24.44" textLength="20.14" lengthAdjust="spacingAndGlyphs" transform="translate(691.6 72.6)">IP</text>
<text x="-0.06" y="0" font-size="24.44" textLength="58.48" lengthAdjust="spacingAndGlyphs" transform="translate(690.5 106.6)">AMP*</text>
</svg></body></html>
